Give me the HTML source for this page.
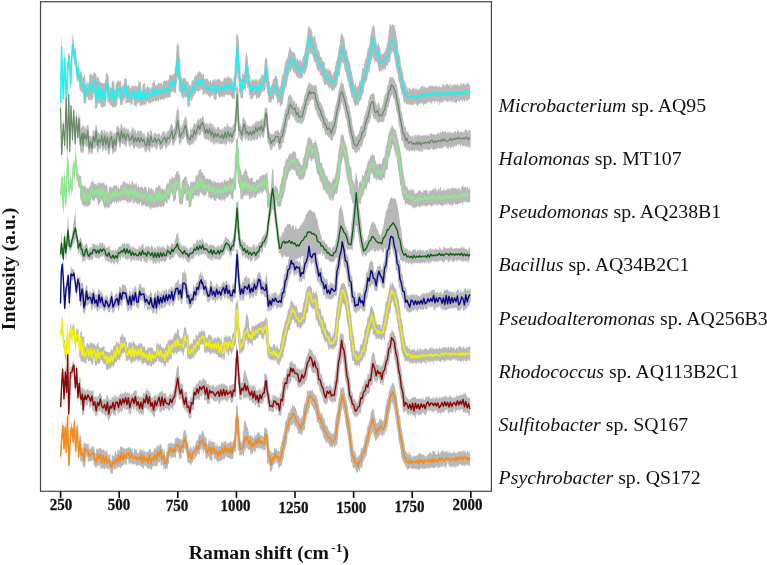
<!DOCTYPE html>
<html><head><meta charset="utf-8"><style>html,body{margin:0;padding:0;background:#fff;overflow:hidden}svg{display:block}</style></head>
<body><svg width="767" height="565" viewBox="0 0 767 565">
<style>
.tk{font-family:"Liberation Serif",serif;font-weight:bold;font-size:15px;fill:#111;stroke:#111;stroke-width:0.25px}
.lb{font-family:"Liberation Serif",serif;font-size:19.8px;fill:#111}
.ax{font-family:"Liberation Serif",serif;font-weight:bold;font-size:19.7px;fill:#111}
.ax2{font-family:"Liberation Serif",serif;font-weight:bold;font-size:19.6px;fill:#111}
</style>
<rect width="767" height="565" fill="#fff"/>
<polygon points="60.6,93.9 61.3,39.3 61.6,36.9 62.0,52.1 62.4,67.1 62.7,66.6 63.3,86.9 63.4,89.9 64.1,64.4 64.6,47.9 64.8,50.2 65.5,69.8 66.2,87.4 66.4,90.9 66.9,81.2 67.6,66.6 68.0,55.8 68.3,54.5 69.0,51.5 69.3,52.0 69.7,58.5 70.4,72.0 70.6,72.0 71.1,58.2 71.4,57.8 71.8,47.5 72.5,35.5 72.6,34.1 73.2,36.5 73.2,35.5 73.9,47.4 74.3,49.2 74.6,51.2 75.0,47.8 75.3,47.0 75.7,47.5 76.0,51.4 76.7,62.7 77.0,63.8 77.4,67.8 77.7,67.8 78.1,62.1 78.3,61.3 78.8,67.1 79.5,73.4 79.6,74.0 80.2,72.2 80.4,71.5 80.9,71.1 81.3,69.0 81.6,72.0 82.2,74.9 82.3,76.6 83.0,78.2 83.1,77.9 83.7,77.2 84.0,76.1 84.4,73.3 84.9,75.5 85.0,74.6 85.1,76.2 85.8,84.9 86.4,84.7 86.5,81.1 87.2,82.0 87.8,83.7 87.9,81.5 88.6,84.6 89.2,78.5 89.3,73.6 90.0,74.9 90.6,74.3 90.7,72.2 91.4,74.7 92.0,73.6 92.1,77.1 92.8,74.9 93.4,73.5 93.5,71.9 94.2,72.8 94.8,71.9 94.9,74.3 95.6,72.9 96.2,75.0 96.3,76.1 97.0,78.6 97.6,75.3 97.7,77.6 98.4,78.5 99.0,76.7 99.1,79.8 99.8,81.8 100.4,82.6 100.5,81.6 101.2,82.4 101.8,82.9 101.9,82.0 102.6,83.2 103.2,83.2 103.3,82.9 104.0,83.0 104.6,82.5 104.7,84.2 105.4,78.8 106.1,73.9 106.1,71.3 106.8,73.9 107.4,74.8 107.5,72.4 108.2,75.0 108.8,77.5 108.9,82.7 109.6,88.3 110.2,87.9 110.3,87.0 111.0,87.5 111.6,87.2 111.7,81.5 112.4,81.6 113.0,79.6 113.1,81.7 113.8,81.5 114.4,79.7 114.5,89.2 115.2,90.6 115.8,85.1 115.9,81.8 116.6,83.2 117.2,81.1 117.3,80.9 118.0,80.6 118.6,81.8 118.7,80.4 119.4,80.2 120.0,82.9 120.1,80.2 120.8,81.6 121.4,83.1 121.5,87.7 122.2,85.9 122.8,85.3 122.9,86.9 123.6,84.3 124.2,81.1 124.3,78.1 125.0,78.5 125.6,79.5 125.7,77.0 126.4,79.0 127.0,79.2 127.1,85.6 127.8,85.9 128.4,84.3 128.5,84.7 129.2,85.9 129.8,86.5 129.9,88.2 130.6,88.5 131.2,88.1 131.3,85.3 132.0,85.9 132.6,85.8 132.7,85.3 133.4,87.5 134.0,83.8 134.1,86.5 134.8,86.3 135.4,84.8 135.5,85.9 136.2,86.1 136.8,86.8 136.9,87.8 137.6,85.9 138.2,84.4 138.3,83.1 139.0,80.6 139.6,83.4 139.7,82.9 140.4,81.6 141.0,82.9 141.1,87.5 141.8,92.2 142.4,87.8 142.5,84.7 143.2,84.0 143.8,83.8 143.9,84.2 144.6,82.3 145.2,84.1 145.3,90.4 146.0,86.6 146.6,88.3 146.7,87.2 147.4,84.4 148.0,84.5 148.1,87.1 148.8,87.4 149.4,87.3 149.5,87.1 150.2,88.7 150.8,89.2 150.9,88.4 151.6,86.8 152.2,86.2 152.3,82.2 153.0,83.3 153.6,79.4 153.7,79.8 154.4,80.8 155.0,82.5 155.1,83.3 155.8,86.3 156.4,83.7 156.5,85.5 157.2,85.4 157.8,85.0 157.9,83.6 158.6,82.6 159.2,82.5 159.3,83.0 160.0,84.3 160.6,82.8 160.7,83.1 161.4,81.7 162.0,84.0 162.1,86.0 162.8,83.5 163.4,80.6 163.5,80.5 164.2,81.2 164.8,80.1 164.9,80.5 165.6,80.5 166.2,81.9 166.3,80.1 167.0,80.0 167.6,80.9 167.7,81.4 168.4,80.1 169.0,78.6 169.1,75.4 169.8,75.5 170.4,75.5 170.5,73.2 171.2,75.8 171.8,75.2 171.9,73.4 172.6,75.5 173.2,75.3 173.3,74.4 174.0,73.7 174.6,72.8 174.7,67.8 175.4,67.0 176.0,58.8 176.1,55.8 176.8,45.4 177.5,43.6 177.7,41.1 178.2,44.7 178.8,45.9 178.9,45.1 179.6,57.5 180.2,58.5 180.3,69.7 181.0,76.8 181.6,76.6 181.7,76.9 182.4,78.5 183.0,79.7 183.1,78.1 183.8,78.2 184.4,76.9 184.5,78.9 185.2,77.6 185.8,78.7 185.9,81.2 186.6,81.7 187.2,79.1 187.3,82.2 188.0,81.2 188.6,82.0 188.7,84.7 189.4,84.9 190.0,84.9 190.1,84.3 190.8,87.0 191.4,82.8 191.5,81.2 192.2,79.6 192.8,81.1 192.9,80.9 193.6,79.9 194.2,77.8 194.3,76.7 195.0,76.7 195.6,73.7 195.7,74.7 196.4,76.0 197.0,74.2 197.1,74.0 197.8,72.3 198.4,71.7 198.5,74.7 199.2,70.5 199.8,71.5 199.9,72.3 200.6,72.8 201.2,70.7 201.3,73.8 202.0,74.4 202.6,73.7 202.7,75.4 203.4,73.4 204.0,74.6 204.1,77.8 204.8,78.7 205.4,79.9 205.5,76.9 206.2,79.5 206.8,77.4 206.9,80.1 207.6,78.0 208.2,79.6 208.3,80.5 209.0,81.2 209.6,82.9 209.7,81.7 210.4,80.4 211.0,80.1 211.1,82.6 211.8,83.2 212.4,81.3 212.5,80.1 213.2,80.5 213.8,80.7 213.9,78.9 214.6,78.8 215.2,79.5 215.3,80.7 216.0,79.6 216.6,79.8 216.7,81.1 217.4,78.6 218.0,79.4 218.1,80.1 218.8,78.0 219.4,78.8 219.5,79.7 220.2,80.1 220.8,80.8 220.9,82.3 221.6,81.4 222.2,79.8 222.3,81.8 223.0,80.9 223.6,80.6 223.7,77.3 224.4,77.4 225.0,77.9 225.1,79.1 225.8,77.9 226.4,78.6 226.5,77.4 227.2,75.7 227.8,76.7 227.9,78.0 228.6,75.8 229.2,77.9 229.3,76.5 230.0,78.8 230.6,77.1 230.7,78.2 231.4,78.2 232.0,79.6 232.1,78.0 232.8,82.9 233.4,81.2 233.5,77.3 234.2,77.1 234.8,66.0 234.9,59.1 235.6,55.6 236.2,37.2 236.3,35.7 237.0,33.0 237.3,33.6 237.7,35.6 238.4,37.2 239.0,43.6 239.1,54.3 239.8,63.5 240.4,67.3 240.5,75.5 241.2,79.6 241.8,78.8 241.9,74.1 242.6,73.1 243.2,73.6 243.3,74.7 244.0,74.4 244.6,69.0 244.7,69.0 245.4,57.3 246.1,51.9 246.6,52.9 246.8,53.3 247.4,56.9 247.5,56.6 248.2,65.3 248.8,66.6 248.9,71.5 249.6,74.4 250.2,75.1 250.3,79.9 251.0,83.7 251.6,77.9 251.7,78.4 252.4,79.4 253.0,81.3 253.1,80.8 253.8,77.9 254.4,82.6 254.5,80.2 255.2,78.9 255.8,79.7 255.9,79.0 256.6,80.0 257.2,77.6 257.3,81.2 258.0,81.6 258.6,79.8 258.7,78.5 259.4,80.1 260.0,78.0 260.1,77.0 260.8,77.7 261.4,74.9 261.5,74.7 262.2,74.7 262.8,76.6 262.9,75.1 263.6,74.7 264.2,70.4 264.3,67.0 265.0,58.8 265.6,59.9 265.7,57.9 266.3,57.0 266.4,57.2 267.0,58.5 267.1,58.9 267.8,68.2 268.4,70.7 268.5,76.2 269.2,81.9 269.8,81.3 269.9,85.7 270.6,88.5 271.2,85.3 271.3,85.9 272.0,84.1 272.6,82.4 272.7,79.7 273.4,78.9 274.0,78.0 274.1,78.3 274.8,78.4 275.5,73.5 275.8,77.0 276.2,76.1 276.8,75.8 276.9,76.2 277.6,79.6 278.2,80.6 278.3,83.9 279.0,88.3 279.6,85.5 279.7,89.9 280.4,85.7 281.0,82.0 281.1,82.2 281.8,77.6 282.4,73.1 282.5,75.5 283.2,74.6 283.8,71.6 283.9,71.8 284.6,65.0 285.2,61.3 285.3,62.2 286.0,61.0 286.6,58.6 286.7,59.0 287.4,58.2 288.0,54.4 288.1,54.5 288.8,50.0 289.4,49.6 289.5,47.1 290.2,47.4 290.4,46.9 290.9,49.4 291.6,51.0 292.2,51.1 292.3,51.2 293.0,52.9 293.6,52.9 293.7,51.7 294.4,52.4 295.0,53.8 295.1,53.2 295.8,57.4 296.4,58.8 296.5,60.3 297.2,59.2 297.8,58.2 297.9,59.0 298.6,61.7 299.2,61.3 299.3,60.5 300.0,60.1 300.6,59.7 300.7,60.8 301.4,62.7 302.0,59.3 302.1,60.5 302.8,57.9 303.4,55.5 303.5,57.0 304.2,54.1 304.8,51.0 304.9,50.2 305.6,45.9 306.2,44.3 306.3,41.2 307.0,36.7 307.6,31.8 307.7,30.0 308.4,26.8 309.1,26.7 309.5,26.0 309.8,26.7 310.4,30.0 310.5,27.7 311.2,28.8 311.8,31.6 311.9,30.5 312.6,35.6 313.2,38.3 313.3,37.8 314.0,36.8 314.7,35.2 315.0,35.4 315.4,36.9 316.0,42.2 316.1,40.6 316.8,43.9 317.4,49.2 317.5,48.3 318.2,50.0 318.8,50.8 318.9,50.6 319.6,52.2 320.2,57.6 320.3,55.4 321.0,58.1 321.6,57.0 321.7,56.3 322.4,60.7 323.0,60.9 323.1,60.3 323.8,62.4 324.4,61.2 324.5,61.5 325.2,67.2 325.8,68.2 325.9,68.9 326.6,68.0 327.2,70.4 327.3,67.6 328.0,70.0 328.6,67.3 328.7,68.9 329.4,70.2 330.0,70.7 330.1,70.6 330.8,71.6 331.4,71.5 331.5,73.8 332.2,74.8 332.8,76.3 332.9,73.8 333.6,72.1 334.2,71.2 334.3,71.5 335.0,67.5 335.6,63.7 335.7,63.3 336.4,60.6 337.0,60.6 337.1,57.9 337.8,55.8 338.4,49.6 338.5,50.0 339.2,46.5 339.8,43.9 339.9,43.9 340.6,35.6 341.2,35.7 341.3,31.7 342.0,33.9 342.2,33.9 342.7,34.7 343.4,36.5 344.0,39.1 344.1,36.8 344.8,43.2 345.4,49.1 345.5,47.7 346.2,50.7 346.8,50.6 346.9,50.2 347.6,54.7 348.2,58.1 348.3,59.4 349.0,59.9 349.6,63.1 349.7,62.2 350.4,65.4 351.0,69.2 351.1,70.3 351.8,71.4 352.4,75.6 352.5,75.4 353.2,80.1 353.8,81.2 353.9,82.3 354.6,85.9 355.2,83.6 355.3,82.1 356.0,84.6 356.6,88.1 356.7,87.4 357.4,86.7 358.0,85.6 358.1,86.6 358.8,85.0 359.4,80.5 359.5,80.6 360.2,81.7 360.8,79.0 360.9,78.3 361.6,73.7 362.2,68.8 362.3,68.5 363.0,68.0 363.6,67.6 363.7,68.9 364.4,63.3 365.0,59.2 365.1,58.6 365.8,59.8 366.4,58.2 366.5,56.6 367.2,51.8 367.8,48.6 367.9,48.2 368.6,48.2 369.2,44.5 369.3,46.0 370.0,39.7 370.6,34.5 370.7,34.9 371.4,31.8 372.0,28.8 372.1,27.3 372.8,25.8 373.1,25.3 373.5,25.4 374.2,26.8 374.8,28.1 374.9,30.2 375.6,37.2 376.2,41.2 376.3,41.8 377.0,46.0 377.4,44.5 377.7,45.3 378.4,42.0 379.0,44.4 379.1,44.6 379.8,48.2 380.4,47.8 380.5,50.9 381.2,54.0 381.8,55.6 381.9,54.9 382.6,54.0 383.2,51.8 383.3,54.5 384.0,52.9 384.6,50.6 384.7,52.9 385.4,49.6 386.0,47.6 386.1,49.5 386.8,45.3 387.4,42.1 387.5,43.9 388.2,36.5 388.8,31.0 388.9,30.8 389.6,25.6 389.9,23.1 390.3,24.5 391.0,24.3 391.7,27.3 391.9,24.3 392.4,25.1 393.0,23.9 393.1,23.9 393.8,25.1 394.4,24.7 394.5,25.7 395.2,30.4 395.8,31.0 395.9,31.0 396.6,37.5 397.2,39.7 397.3,40.7 398.0,46.9 398.6,52.9 398.7,54.0 399.4,54.3 400.0,56.8 400.1,57.6 400.8,63.5 401.4,67.4 401.5,67.3 402.2,69.9 402.8,73.2 402.9,70.1 403.6,77.9 404.2,80.5 404.3,80.5 405.0,81.8 405.6,85.3 405.7,82.2 406.4,85.7 407.0,87.6 407.1,87.0 407.8,89.3 408.4,91.9 408.5,88.1 409.2,87.8 409.8,87.6 409.9,89.4 410.6,88.9 411.2,88.5 411.3,90.8 412.0,89.6 412.6,89.0 412.7,86.6 413.4,89.1 414.0,86.6 414.1,88.3 414.8,90.2 415.4,85.9 415.5,89.4 416.2,88.9 416.8,87.0 416.9,89.5 417.6,90.2 418.2,87.7 418.3,88.8 419.0,90.0 419.6,88.9 419.7,88.2 420.4,86.7 421.0,88.1 421.1,87.0 421.8,85.9 422.4,85.7 422.5,85.5 423.2,85.8 423.8,88.9 423.9,85.8 424.6,86.8 425.2,86.7 425.3,87.8 426.0,88.3 426.6,87.8 426.7,86.6 427.4,87.9 428.0,87.1 428.1,86.9 428.8,85.5 429.4,86.6 429.5,86.4 430.2,84.8 430.8,86.1 430.9,85.0 431.6,86.9 432.2,85.3 432.3,85.6 433.0,85.5 433.6,86.2 433.7,86.8 434.4,86.7 435.0,86.9 435.1,85.2 435.8,85.3 436.4,87.3 436.5,85.3 437.2,86.5 437.8,85.5 437.9,86.5 438.6,87.6 439.2,84.7 439.3,85.3 440.0,87.2 440.6,87.9 440.7,86.4 441.4,87.1 442.0,85.9 442.1,84.8 442.8,83.9 443.4,85.9 443.5,84.0 444.2,84.2 444.8,86.0 444.9,87.3 445.6,84.6 446.2,84.9 446.3,83.0 447.0,84.0 447.6,84.2 447.7,83.2 448.4,86.2 449.0,84.9 449.1,85.4 449.8,83.2 450.4,84.5 450.5,88.4 451.2,84.8 451.8,86.2 451.9,84.4 452.6,85.8 453.2,85.0 453.3,84.5 454.0,85.0 454.6,86.1 454.7,83.5 455.4,84.6 456.0,85.1 456.1,84.3 456.8,85.6 457.4,83.0 457.5,84.8 458.2,84.6 458.8,84.7 458.9,86.0 459.6,86.3 460.2,84.1 460.3,83.9 461.0,82.8 461.6,83.8 461.7,85.5 462.4,83.7 463.0,83.2 463.1,83.0 463.8,83.8 464.4,85.5 464.5,82.9 465.2,84.9 465.8,83.3 465.9,85.7 466.6,83.1 467.2,84.7 467.3,82.7 468.0,81.9 468.6,82.6 468.7,85.1 469.4,84.9 470.0,84.8 470.1,83.1 470.1,99.6 470.0,99.5 469.4,99.1 468.7,99.1 468.6,100.6 468.0,99.4 467.3,102.9 467.2,100.0 466.6,100.8 465.9,99.5 465.8,98.0 465.2,100.9 464.5,101.6 464.4,102.4 463.8,100.0 463.1,99.5 463.0,102.1 462.4,101.4 461.7,101.1 461.6,100.4 461.0,100.1 460.3,100.2 460.2,99.8 459.6,101.5 458.9,102.4 458.8,100.8 458.2,102.1 457.5,100.0 457.4,100.1 456.8,102.7 456.1,103.2 456.0,103.1 455.4,103.1 454.7,101.7 454.6,102.3 454.0,101.4 453.3,103.4 453.2,100.0 452.6,101.1 451.9,102.8 451.8,100.2 451.2,102.6 450.5,101.4 450.4,102.0 449.8,99.6 449.1,101.7 449.0,102.0 448.4,101.5 447.7,100.8 447.6,101.6 447.0,103.3 446.3,100.8 446.2,100.1 445.6,100.6 444.9,102.3 444.8,100.7 444.2,100.0 443.5,101.2 443.4,100.9 442.8,103.2 442.1,101.0 442.0,100.4 441.4,103.1 440.7,102.6 440.6,101.7 440.0,104.7 439.3,104.8 439.2,101.7 438.6,101.9 437.9,102.9 437.8,104.8 437.2,100.6 436.5,101.9 436.4,101.4 435.8,100.8 435.1,100.6 435.0,103.5 434.4,102.7 433.7,100.7 433.6,100.8 433.0,102.4 432.3,100.4 432.2,104.1 431.6,103.3 430.9,104.4 430.8,102.1 430.2,101.7 429.5,104.4 429.4,102.8 428.8,100.7 428.1,102.8 428.0,102.0 427.4,102.8 426.7,103.5 426.6,104.1 426.0,103.3 425.3,106.1 425.2,103.3 424.6,103.8 423.9,104.8 423.8,104.6 423.2,106.1 422.5,104.2 422.4,102.0 421.8,102.4 421.1,103.7 421.0,103.1 420.4,104.2 419.7,104.6 419.6,102.3 419.0,104.1 418.3,103.7 418.2,105.8 417.6,106.7 416.9,105.8 416.8,105.3 416.2,103.7 415.5,103.7 415.4,104.3 414.8,104.3 414.1,101.5 414.0,104.2 413.4,104.8 412.7,106.0 412.6,104.5 412.0,104.9 411.3,105.4 411.2,104.3 410.6,104.8 409.9,103.9 409.8,106.5 409.2,103.3 408.5,105.3 408.4,105.1 407.8,104.0 407.1,105.0 407.0,103.2 406.4,104.5 405.7,103.3 405.6,101.2 405.0,103.0 404.3,103.3 404.2,103.3 403.6,100.8 402.9,96.0 402.8,95.2 402.2,94.8 401.5,94.6 401.4,93.5 400.8,89.2 400.1,87.3 400.0,85.4 399.4,82.3 398.7,82.4 398.6,81.9 398.0,76.2 397.3,72.1 397.2,73.8 396.6,69.1 395.9,68.5 395.8,66.5 395.2,62.7 394.5,58.0 394.4,57.6 393.8,54.2 393.1,51.7 393.0,51.3 392.4,52.7 391.9,49.4 391.7,54.7 391.0,53.5 390.3,60.5 389.9,62.3 389.6,61.8 388.9,62.5 388.8,62.2 388.2,63.6 387.5,67.6 387.4,65.2 386.8,65.4 386.1,66.0 386.0,68.6 385.4,69.7 384.7,69.7 384.6,67.3 384.0,70.9 383.3,67.2 383.2,72.8 382.6,70.1 381.9,68.7 381.8,72.0 381.2,70.6 380.5,70.5 380.4,71.5 379.8,71.2 379.1,71.8 379.0,71.5 378.4,68.3 377.7,64.7 377.4,64.1 377.0,61.3 376.3,62.2 376.2,62.2 375.6,61.6 374.9,62.6 374.8,62.2 374.2,59.9 373.5,59.0 373.1,56.5 372.8,55.0 372.1,62.1 372.0,59.6 371.4,61.2 370.7,64.6 370.6,63.4 370.0,66.8 369.3,73.2 369.2,73.4 368.6,71.6 367.9,75.0 367.8,75.0 367.2,80.4 366.5,79.7 366.4,82.2 365.8,82.6 365.1,82.9 365.0,83.7 364.4,85.0 363.7,92.8 363.6,92.5 363.0,94.2 362.3,94.8 362.2,94.7 361.6,98.6 360.9,100.3 360.8,100.4 360.2,100.7 359.5,101.5 359.4,101.5 358.8,104.1 358.1,106.7 358.0,105.6 357.4,105.6 356.7,104.5 356.6,104.3 356.0,106.6 355.3,105.9 355.2,106.0 354.6,105.6 353.9,102.3 353.8,103.3 353.2,100.8 352.5,97.5 352.4,98.5 351.8,97.7 351.1,96.4 351.0,94.3 350.4,92.5 349.7,88.9 349.6,86.5 349.0,87.4 348.3,81.7 348.2,83.1 347.6,80.2 346.9,76.5 346.8,78.1 346.2,74.0 345.5,71.6 345.4,73.1 344.8,70.0 344.1,66.6 344.0,63.9 343.4,63.8 342.7,62.1 342.2,63.8 342.0,61.6 341.3,65.2 341.2,65.4 340.6,67.9 339.9,74.7 339.8,74.2 339.2,77.1 338.5,75.5 338.4,76.0 337.8,80.7 337.1,84.9 337.0,86.2 336.4,86.4 335.7,88.0 335.6,87.0 335.0,88.1 334.3,91.7 334.2,90.5 333.6,89.7 332.9,92.0 332.8,89.2 332.2,90.5 331.5,92.2 331.4,90.8 330.8,88.3 330.1,86.3 330.0,90.8 329.4,87.9 328.7,88.6 328.6,87.6 328.0,85.6 327.3,86.2 327.2,83.6 326.6,84.2 325.9,84.9 325.8,84.4 325.2,84.9 324.5,85.0 324.4,85.2 323.8,82.2 323.1,80.7 323.0,83.2 322.4,77.8 321.7,76.0 321.6,76.0 321.0,75.3 320.3,75.2 320.2,76.2 319.6,72.1 318.9,70.2 318.8,70.8 318.2,71.9 317.5,69.1 317.4,70.4 316.8,68.6 316.1,65.8 316.0,65.3 315.4,61.5 315.0,63.5 314.7,60.7 314.0,61.8 313.3,57.6 313.2,57.6 312.6,56.0 311.9,53.4 311.8,53.9 311.2,53.3 310.5,54.5 310.4,53.5 309.8,52.1 309.5,54.6 309.1,55.2 308.4,60.2 307.7,65.2 307.6,66.7 307.0,67.9 306.3,69.9 306.2,71.0 305.6,71.9 304.9,76.1 304.8,74.8 304.2,73.4 303.5,73.0 303.4,74.2 302.8,78.3 302.1,77.2 302.0,77.6 301.4,79.4 300.7,79.4 300.6,78.9 300.0,77.2 299.3,79.8 299.2,78.3 298.6,77.5 297.9,78.4 297.8,77.9 297.2,77.4 296.5,76.0 296.4,76.5 295.8,75.0 295.1,72.2 295.0,74.9 294.4,72.1 293.7,73.5 293.6,72.9 293.0,69.9 292.3,69.5 292.2,68.8 291.6,68.5 290.9,71.8 290.4,72.3 290.2,71.9 289.5,70.1 289.4,72.3 288.8,75.5 288.1,76.8 288.0,76.5 287.4,82.0 286.7,84.7 286.6,86.8 286.0,89.6 285.3,86.4 285.2,88.2 284.6,91.5 283.9,95.2 283.8,95.3 283.2,100.1 282.5,103.9 282.4,105.4 281.8,104.5 281.1,105.0 281.0,105.0 280.4,107.4 279.7,105.5 279.6,101.6 279.0,103.4 278.3,101.7 278.2,103.5 277.6,103.8 276.9,103.0 276.8,99.9 276.2,96.7 275.8,95.4 275.5,96.5 274.8,93.2 274.1,97.0 274.0,99.0 273.4,101.1 272.7,99.8 272.6,98.4 272.0,98.4 271.3,102.9 271.2,102.9 270.6,102.3 269.9,103.4 269.8,102.8 269.2,102.0 268.5,102.2 268.4,98.4 267.8,94.7 267.1,93.3 267.0,91.6 266.4,85.5 266.3,82.8 265.7,83.1 265.6,89.0 265.0,90.4 264.3,90.8 264.2,92.5 263.6,91.1 262.9,90.2 262.8,90.8 262.2,93.2 261.5,91.8 261.4,92.7 260.8,96.3 260.1,95.3 260.0,97.5 259.4,97.6 258.7,97.3 258.6,99.8 258.0,98.2 257.3,96.4 257.2,97.0 256.6,99.8 255.9,98.1 255.8,95.5 255.2,95.3 254.5,95.1 254.4,95.5 253.8,96.7 253.1,95.6 253.0,99.4 252.4,98.8 251.7,98.3 251.6,99.7 251.0,98.5 250.3,100.3 250.2,94.3 249.6,95.9 248.9,93.2 248.8,91.0 248.2,86.6 247.5,89.2 247.4,86.9 246.8,82.7 246.6,83.9 246.1,84.8 245.4,92.2 244.7,88.7 244.6,89.1 244.0,89.0 243.3,90.8 243.2,96.2 242.6,98.8 241.9,98.7 241.8,98.2 241.2,98.3 240.5,97.7 240.4,95.5 239.8,93.6 239.1,91.8 239.0,86.5 238.4,78.8 237.7,79.8 237.3,73.7 237.0,72.4 236.3,81.8 236.2,91.1 235.6,90.8 234.9,95.3 234.8,98.8 234.2,98.9 233.5,97.2 233.4,98.8 232.8,99.4 232.1,98.1 232.0,97.9 231.4,96.4 230.7,95.5 230.6,96.0 230.0,95.2 229.3,93.7 229.2,95.6 228.6,95.5 227.9,93.7 227.8,95.4 227.2,95.2 226.5,94.3 226.4,95.8 225.8,94.9 225.1,93.7 225.0,98.0 224.4,96.8 223.7,94.7 223.6,96.8 223.0,97.5 222.3,96.4 222.2,96.9 221.6,96.0 220.9,97.3 220.8,96.9 220.2,97.0 219.5,98.7 219.4,97.0 218.8,95.8 218.1,96.1 218.0,94.0 217.4,93.3 216.7,94.2 216.6,98.9 216.0,99.4 215.3,100.0 215.2,102.3 214.6,98.4 213.9,99.7 213.8,98.3 213.2,94.2 212.5,95.3 212.4,95.7 211.8,96.3 211.1,94.5 211.0,96.8 210.4,97.7 209.7,98.8 209.6,95.4 209.0,96.8 208.3,95.9 208.2,95.2 207.6,94.1 206.9,95.7 206.8,94.6 206.2,93.4 205.5,91.9 205.4,93.9 204.8,94.4 204.1,94.3 204.0,93.3 203.4,95.1 202.7,96.1 202.6,90.7 202.0,88.2 201.3,89.9 201.2,90.2 200.6,90.8 199.9,87.4 199.8,90.8 199.2,91.8 198.5,92.3 198.4,91.0 197.8,92.1 197.1,91.0 197.0,90.8 196.4,90.4 195.7,92.7 195.6,93.0 195.0,95.7 194.3,95.1 194.2,92.3 193.6,97.3 192.9,96.8 192.8,99.7 192.2,98.8 191.5,102.0 191.4,101.2 190.8,98.5 190.1,100.9 190.0,105.0 189.4,107.4 188.7,105.4 188.6,106.6 188.0,107.8 187.3,104.7 187.2,99.1 186.6,96.6 185.9,97.8 185.8,97.3 185.2,97.8 184.5,95.5 184.4,99.1 183.8,97.2 183.1,100.2 183.0,98.0 182.4,98.2 181.7,96.8 181.6,96.8 181.0,92.5 180.3,92.7 180.2,90.8 179.6,91.0 178.9,92.4 178.8,83.4 178.2,78.6 177.7,77.4 177.5,76.7 176.8,83.3 176.1,85.8 176.0,93.0 175.4,93.0 174.7,90.5 174.6,94.1 174.0,92.6 173.3,91.7 173.2,92.2 172.6,91.2 171.9,92.0 171.8,92.5 171.2,90.9 170.5,96.0 170.4,98.0 169.8,97.6 169.1,97.1 169.0,97.3 168.4,97.5 167.7,96.8 167.6,99.2 167.0,97.6 166.3,99.1 166.2,97.8 165.6,97.6 164.9,99.3 164.8,97.8 164.2,99.9 163.5,98.4 163.4,100.8 162.8,99.8 162.1,98.8 162.0,99.4 161.4,99.1 160.7,100.6 160.6,100.9 160.0,100.0 159.3,98.0 159.2,99.5 158.6,102.7 157.9,100.5 157.8,99.1 157.2,100.8 156.5,102.2 156.4,100.1 155.8,102.4 155.1,100.7 155.0,100.0 154.4,100.6 153.7,102.9 153.6,100.3 153.0,101.7 152.3,101.7 152.2,103.4 151.6,101.4 150.9,102.6 150.8,103.4 150.2,102.9 149.5,102.9 149.4,103.5 148.8,103.3 148.1,103.2 148.0,101.7 147.4,100.9 146.7,103.3 146.6,104.3 146.0,106.9 145.3,104.0 145.2,103.1 144.6,104.8 143.9,105.7 143.8,104.1 143.2,106.0 142.5,103.7 142.4,104.8 141.8,106.0 141.1,106.1 141.0,106.0 140.4,106.5 139.7,105.4 139.6,103.6 139.0,102.0 138.3,103.5 138.2,105.4 137.6,102.8 136.9,104.0 136.8,105.9 136.2,108.1 135.5,105.9 135.4,104.8 134.8,105.9 134.1,105.3 134.0,106.3 133.4,98.1 132.7,101.3 132.6,104.2 132.0,104.9 131.3,105.5 131.2,103.1 130.6,103.5 129.9,105.6 129.8,103.5 129.2,101.4 128.5,103.7 128.4,102.6 127.8,102.9 127.1,102.9 127.0,103.9 126.4,102.4 125.7,104.3 125.6,98.3 125.0,97.2 124.3,99.8 124.2,102.5 123.6,100.2 122.9,100.4 122.8,105.9 122.2,104.4 121.5,105.4 121.4,105.1 120.8,104.7 120.1,105.6 120.0,101.5 119.4,98.0 118.7,98.7 118.6,97.6 118.0,96.9 117.3,101.4 117.2,105.7 116.6,105.8 115.9,105.3 115.8,108.7 115.2,106.2 114.5,107.9 114.4,107.9 113.8,106.8 113.1,106.9 113.0,105.8 112.4,108.6 111.7,105.8 111.6,105.4 111.0,105.3 110.3,106.0 110.2,102.1 109.6,104.1 108.9,104.5 108.8,102.7 108.2,101.1 107.5,104.0 107.4,98.4 106.8,91.2 106.1,101.7 106.1,98.4 105.4,107.4 104.7,105.4 104.6,107.5 104.0,105.4 103.3,107.2 103.2,107.1 102.6,108.7 101.9,106.6 101.8,106.6 101.2,106.8 100.5,107.6 100.4,102.8 99.8,103.7 99.1,104.8 99.0,103.6 98.4,102.4 97.7,104.0 97.6,105.1 97.0,108.8 96.3,107.6 96.2,108.6 95.6,108.7 94.9,108.8 94.8,99.6 94.2,92.6 93.5,93.6 93.4,98.2 92.8,99.5 92.1,99.6 92.0,98.7 91.4,101.0 90.7,99.5 90.6,100.1 90.0,100.8 89.3,99.6 89.2,100.5 88.6,100.4 87.9,99.0 87.8,97.1 87.2,96.3 86.5,96.7 86.4,99.8 85.8,103.4 85.1,103.8 85.0,103.4 84.9,102.6 84.4,104.4 84.0,102.9 83.7,103.2 83.1,92.7 83.0,92.5 82.3,92.7 82.2,92.4 81.6,92.7 81.3,92.2 80.9,90.7 80.4,90.0 80.2,92.1 79.6,88.2 79.5,89.1 78.8,80.6 78.3,80.2 78.1,77.5 77.7,81.9 77.4,83.6 77.0,79.9 76.7,81.1 76.0,69.8 75.7,71.5 75.3,64.4 75.0,64.0 74.6,65.2 74.3,64.1 73.9,59.7 73.2,51.1 73.2,51.6 72.6,54.8 72.5,53.8 71.8,66.8 71.4,78.6 71.1,78.3 70.6,91.0 70.4,90.6 69.7,71.8 69.3,65.0 69.0,63.9 68.3,70.5 68.0,69.8 67.6,79.1 66.9,95.7 66.4,109.0 66.2,108.2 65.5,85.0 64.8,68.9 64.6,68.3 64.1,78.1 63.4,105.1 63.3,104.8 62.7,91.2 62.4,90.2 62.0,68.5 61.6,71.5 61.3,71.2 60.6,109.8" fill="#b8b8b8"/>
<polyline points="60.6,102.9 61.6,47.1 62.4,74.8 63.3,98.3 64.6,57.6 66.4,101.3 68.0,63.9 69.3,56.3 70.6,83.7 71.4,64.2 72.6,44.9 73.2,44.4 74.3,58.5 75.0,56.3 75.7,59.4 77.0,73.2 77.7,76.1 78.3,68.1 79.6,81.5 80.4,78.0 81.3,84.7 82.2,85.1 83.1,86.4 84.0,82.4 84.9,98.0 85.0,93.4 86.4,88.7 87.8,89.6 89.2,93.3 90.6,83.1 92.0,92.0 93.4,85.0 94.8,79.9 96.2,102.0 97.6,83.7 99.0,97.6 100.4,88.1 101.8,100.6 103.2,90.2 104.6,100.1 106.1,86.3 107.4,82.2 108.8,96.4 110.2,93.9 111.6,100.1 113.0,87.4 114.4,100.7 115.8,99.6 117.2,88.1 118.6,90.9 120.0,88.2 121.4,98.0 122.8,94.8 124.2,91.4 125.6,84.4 127.0,96.6 128.4,91.6 129.8,96.1 131.2,98.4 132.6,92.0 134.0,92.2 135.4,100.0 136.8,92.6 138.2,96.9 139.6,88.6 141.0,99.4 142.4,98.5 143.8,89.2 145.2,98.9 146.6,96.1 148.0,92.3 149.4,97.1 150.8,94.8 152.2,95.1 153.6,88.3 155.0,95.3 156.4,90.5 157.8,94.4 159.2,89.8 160.6,93.0 162.0,89.5 163.4,92.0 164.8,87.5 166.2,92.2 167.6,86.7 169.0,91.0 170.4,82.6 171.8,85.8 173.2,82.1 174.6,86.3 176.0,74.7 177.7,58.3 178.8,67.4 180.2,83.6 181.6,86.0 183.0,92.0 184.4,84.7 185.8,91.0 187.2,88.0 188.6,100.0 190.0,91.9 191.4,93.5 192.8,86.3 194.2,88.6 195.6,83.8 197.0,80.2 198.4,85.3 199.8,79.7 201.2,82.5 202.6,80.4 204.0,87.8 205.4,85.6 206.8,84.9 208.2,89.5 209.6,87.0 211.0,91.2 212.4,87.5 213.8,86.4 215.2,93.3 216.6,86.2 218.0,86.1 219.4,87.9 220.8,90.9 222.2,87.5 223.6,90.4 225.0,85.4 226.4,89.3 227.8,83.7 229.2,88.7 230.6,83.6 232.0,89.3 233.4,91.9 234.8,85.1 236.2,64.1 237.3,45.7 239.0,70.5 240.4,85.4 241.8,91.8 243.2,80.0 244.6,82.1 246.6,66.3 247.4,73.2 248.8,81.4 250.2,86.6 251.6,92.1 253.0,85.9 254.4,89.0 255.8,86.4 257.2,91.7 258.6,86.7 260.0,89.5 261.4,83.0 262.8,85.9 264.2,80.4 265.6,75.0 266.3,68.0 267.0,76.8 268.4,87.7 269.8,95.5 271.2,92.9 272.6,92.2 274.0,86.3 275.8,85.3 276.8,88.0 278.2,95.3 279.6,95.6 281.0,97.7 282.4,88.8 283.8,81.5 285.2,79.8 286.6,69.3 288.0,65.7 289.4,63.0 290.4,58.9 292.2,62.0 293.6,59.4 295.0,66.3 296.4,65.7 297.8,70.0 299.2,67.4 300.6,72.0 302.0,67.9 303.4,68.0 304.8,62.8 306.2,58.8 307.6,48.2 309.5,37.5 310.4,38.3 311.8,47.0 313.2,45.9 315.0,50.3 316.0,56.0 317.4,57.4 318.8,63.1 320.2,63.2 321.6,69.0 323.0,67.9 324.4,74.8 325.8,78.0 327.2,76.3 328.6,78.4 330.0,81.0 331.4,80.2 332.8,83.9 334.2,80.6 335.6,79.1 337.0,70.1 338.4,66.1 339.8,57.4 341.2,53.0 342.2,45.9 344.0,54.5 345.4,57.4 346.8,65.4 348.2,69.5 349.6,75.7 351.0,81.2 352.4,89.0 353.8,91.3 355.2,95.0 356.6,98.2 358.0,94.4 359.4,93.9 360.8,88.3 362.2,86.2 363.6,76.3 365.0,74.8 366.4,67.8 367.8,65.8 369.2,56.1 370.6,52.8 372.0,41.7 373.1,37.6 374.8,47.7 376.2,54.9 377.4,51.2 379.0,56.7 380.4,63.8 381.8,61.7 383.2,62.2 384.6,59.9 386.0,59.8 387.4,53.8 388.8,50.9 389.9,44.1 391.9,40.8 393.0,40.4 394.4,42.5 395.8,48.0 397.2,59.1 398.6,64.4 400.0,74.1 401.4,78.0 402.8,87.1 404.2,90.5 405.6,95.6 407.0,95.4 408.4,96.8 409.8,97.8 411.2,95.8 412.6,97.4 414.0,95.3 415.4,97.6 416.8,97.5 418.2,95.9 419.6,96.8 421.0,94.7 422.4,95.7 423.8,94.1 425.2,96.6 426.6,93.6 428.0,95.1 429.4,93.2 430.8,95.8 432.2,92.7 433.6,95.2 435.0,93.3 436.4,95.0 437.8,93.0 439.2,95.2 440.6,92.8 442.0,94.7 443.4,92.5 444.8,94.5 446.2,92.5 447.6,94.4 449.0,92.1 450.4,94.5 451.8,94.7 453.2,92.3 454.6,94.9 456.0,92.1 457.4,94.9 458.8,92.1 460.2,94.4 461.6,91.3 463.0,93.6 464.4,91.2 465.8,93.6 467.2,91.0 468.6,90.9 470.0,93.3" fill="none" stroke="#1ff0f0" stroke-width="1.5" stroke-linejoin="round"/>
<polygon points="60.5,103.1 61.2,130.4 61.7,147.1 61.9,143.7 62.6,132.7 63.2,117.8 63.3,116.9 64.0,130.8 64.7,140.0 64.7,139.5 65.4,117.2 66.1,94.9 66.2,93.0 66.8,119.3 67.3,136.1 67.5,136.6 68.2,112.0 68.8,93.0 68.9,92.8 69.6,134.8 69.8,132.7 70.3,127.0 71.0,99.0 71.0,99.7 71.7,114.1 72.4,132.1 72.5,131.1 73.1,119.0 73.7,104.0 73.8,103.2 74.5,121.6 75.2,136.7 75.2,135.5 75.9,119.7 76.3,111.6 76.6,112.0 77.3,123.7 77.8,128.4 78.0,127.7 78.7,112.4 78.9,110.8 79.4,120.5 80.1,113.5 80.3,121.5 80.8,127.6 81.2,128.7 81.5,126.6 82.1,127.5 82.2,126.8 82.9,123.9 83.0,125.2 83.6,125.4 83.9,127.1 84.3,128.0 84.8,125.3 85.0,127.0 85.0,126.6 85.7,128.9 86.4,129.2 86.4,126.7 87.1,125.2 87.8,125.2 87.8,124.6 88.5,124.5 89.2,134.7 89.2,135.4 89.9,136.0 90.6,135.6 90.6,136.2 91.3,136.4 92.0,137.3 92.0,136.7 92.7,130.4 93.4,132.0 93.4,130.8 94.1,129.9 94.8,130.8 94.8,132.1 95.5,125.6 96.2,125.2 96.2,124.3 96.9,127.0 97.6,131.5 97.6,132.8 98.3,132.8 99.0,132.3 99.0,134.0 99.7,134.0 100.4,133.2 100.4,132.2 101.1,130.0 101.8,131.0 101.8,130.2 102.5,129.0 103.2,133.1 103.2,134.9 103.9,130.1 104.6,130.0 104.6,129.9 105.3,130.8 106.0,134.5 106.0,133.8 106.7,131.1 107.4,131.2 107.4,132.3 108.1,131.8 108.8,137.4 108.8,135.4 109.5,131.5 110.2,131.4 110.2,130.0 110.9,130.8 111.6,130.7 111.6,131.9 112.3,130.2 113.0,136.7 113.0,136.1 113.7,132.6 114.4,133.4 114.4,134.4 115.1,133.2 115.8,133.2 115.8,133.1 116.5,126.1 117.2,127.1 117.2,127.2 117.9,125.0 118.6,125.8 118.6,127.1 119.3,128.1 120.0,130.8 120.0,129.9 120.7,124.0 121.4,122.3 121.4,125.1 122.1,124.7 122.8,128.9 122.8,128.4 123.5,127.9 124.2,128.6 124.2,126.3 124.9,127.3 125.6,129.6 125.6,131.5 126.3,127.8 127.0,127.3 127.0,130.1 127.7,129.5 128.4,127.5 128.4,128.2 129.1,130.6 129.8,132.3 129.8,132.7 130.5,133.4 131.2,129.1 131.2,131.4 131.9,126.4 132.6,128.8 132.6,129.4 133.3,126.9 134.0,131.5 134.0,131.0 134.7,129.1 135.4,130.1 135.4,129.9 136.1,133.1 136.8,134.2 136.8,132.8 137.5,131.0 138.2,130.4 138.2,131.7 138.9,130.0 139.6,131.4 139.6,133.0 140.3,130.4 141.0,130.8 141.0,130.3 141.7,131.1 142.4,133.8 142.4,133.1 143.1,133.2 143.8,134.9 143.8,133.0 144.5,133.2 145.2,135.6 145.2,136.4 145.9,137.8 146.6,135.0 146.6,136.4 147.3,131.4 148.0,130.9 148.0,130.9 148.7,132.7 149.4,135.9 149.4,134.7 150.1,130.9 150.8,127.0 150.8,130.6 151.5,130.6 152.2,132.1 152.2,133.3 152.9,137.9 153.6,133.8 153.6,134.7 154.3,132.5 155.0,133.6 155.0,132.9 155.7,132.1 156.4,134.4 156.4,135.5 157.1,134.1 157.8,134.2 157.8,133.1 158.5,133.4 159.2,134.6 159.2,132.6 159.9,134.0 160.6,135.2 160.6,136.6 161.3,135.2 162.0,134.2 162.0,134.0 162.7,132.0 163.4,131.3 163.4,131.6 164.1,130.8 164.8,132.4 164.8,131.1 165.5,133.4 166.2,136.2 166.2,134.1 166.9,131.9 167.6,130.0 167.6,130.9 168.3,130.4 169.0,130.9 169.0,130.1 169.7,127.5 170.4,125.7 170.4,125.9 171.1,123.6 171.8,124.5 171.8,124.5 172.5,125.3 173.2,127.9 173.2,128.6 173.9,129.9 174.6,126.6 174.6,127.6 175.3,122.0 176.0,115.1 176.0,116.6 176.7,110.1 177.4,109.5 177.7,105.1 178.1,107.7 178.8,110.9 178.8,108.5 179.5,121.3 180.2,125.8 180.2,125.6 180.9,127.9 181.6,128.0 181.6,124.1 182.3,126.3 183.0,122.8 183.0,123.2 183.7,120.5 184.4,118.8 185.0,116.8 185.1,116.0 185.8,117.8 185.8,117.0 186.5,118.1 187.2,122.4 187.2,125.8 187.9,127.8 188.6,131.4 188.6,131.4 189.3,136.1 190.0,132.6 190.0,130.7 190.7,126.7 191.4,130.0 191.4,130.0 192.1,128.7 192.8,127.2 192.8,128.2 193.5,124.0 194.2,124.2 194.2,123.1 194.9,123.0 195.6,124.3 195.6,125.3 196.3,123.1 197.0,121.5 197.0,120.6 197.7,120.5 198.4,117.1 198.4,119.2 199.1,118.0 199.8,121.9 199.8,119.9 200.5,117.6 201.2,118.4 201.2,118.9 201.9,117.9 201.9,115.0 202.6,115.5 202.6,116.7 203.3,116.5 204.0,119.6 204.0,120.8 204.7,123.0 205.4,124.7 205.4,124.2 206.1,124.3 206.8,122.2 206.8,122.5 207.5,122.9 208.2,127.0 208.2,125.3 208.9,122.7 209.6,124.0 209.6,125.1 210.3,120.6 211.0,125.4 211.0,126.5 211.7,122.9 212.4,123.5 212.4,124.2 213.1,124.4 213.8,127.3 213.8,126.6 214.5,127.0 215.2,127.3 215.2,126.4 215.9,130.1 216.6,128.8 216.6,129.3 217.3,127.1 218.0,127.2 218.0,126.7 218.7,126.9 219.4,128.8 219.4,129.1 220.1,130.3 220.8,130.3 220.8,128.7 221.5,129.9 222.2,127.8 222.2,127.5 222.9,129.4 223.6,129.9 223.6,127.9 224.3,126.0 225.0,126.9 225.0,129.2 225.7,125.5 226.4,128.4 226.4,127.8 227.1,122.8 227.8,125.1 227.8,124.9 228.5,125.8 229.2,127.9 229.2,127.9 229.9,126.1 230.6,126.3 230.6,127.8 231.3,127.4 232.0,127.0 232.0,129.6 232.7,125.2 233.4,123.5 233.4,124.6 234.1,124.3 234.8,114.5 234.8,115.6 235.5,107.3 236.2,88.1 236.2,86.6 236.9,86.5 237.1,85.5 237.6,87.8 238.3,88.1 239.0,111.1 239.0,110.3 239.7,124.6 240.4,123.1 240.4,123.8 241.1,125.4 241.8,128.2 241.8,127.0 242.5,119.1 243.2,117.3 243.2,117.0 243.8,117.4 243.9,116.5 244.6,119.3 244.6,119.4 245.3,120.3 246.0,122.8 246.0,122.1 246.7,124.8 247.4,125.4 247.4,126.7 248.1,124.4 248.8,127.4 248.8,127.1 249.5,125.5 250.2,125.9 250.2,126.2 250.9,126.0 251.6,128.1 251.6,126.4 252.3,124.7 253.0,123.3 253.0,126.5 253.7,123.2 254.4,124.5 254.4,124.6 255.1,122.0 255.8,122.0 255.8,122.8 256.5,120.2 257.2,123.6 257.2,122.6 257.9,120.1 258.6,121.5 258.6,121.3 259.3,121.4 260.0,120.6 260.0,121.6 260.7,119.3 261.4,118.7 261.4,119.6 262.1,117.2 262.8,123.5 262.8,121.1 263.5,117.7 264.2,115.3 264.2,113.1 264.9,108.3 265.6,106.4 265.6,108.7 266.3,107.3 266.3,108.6 267.0,107.7 267.0,105.7 267.7,113.6 268.4,124.3 268.4,123.4 269.1,131.8 269.8,130.4 269.8,132.3 270.5,134.1 271.2,133.7 271.2,134.6 271.9,133.5 272.6,134.8 272.6,132.4 273.3,134.1 274.0,135.0 274.0,134.0 274.7,131.6 275.4,130.7 275.4,129.7 276.1,131.2 276.8,131.1 276.8,128.0 277.5,130.3 278.2,130.9 278.2,130.3 278.9,131.7 279.6,133.2 279.6,132.7 280.3,130.8 281.0,128.5 281.0,130.0 281.7,125.6 282.4,122.9 282.4,122.9 283.1,120.9 283.8,116.2 283.8,116.8 284.5,112.7 285.2,109.6 285.2,109.7 285.9,108.7 286.6,106.6 286.6,106.8 287.3,103.7 288.0,98.4 288.0,96.8 288.7,96.2 289.4,93.7 289.4,95.4 290.1,94.0 290.4,95.9 290.8,94.3 291.5,97.4 292.2,96.4 292.2,97.1 292.9,101.3 293.6,102.3 293.6,99.6 294.3,101.4 295.0,100.5 295.0,101.7 295.7,105.1 296.4,101.7 296.4,102.6 297.1,105.7 297.8,107.0 297.8,107.4 298.5,107.6 299.2,105.1 299.2,106.0 299.9,109.4 300.6,110.9 300.6,109.4 301.3,107.6 302.0,104.9 302.0,106.4 302.7,103.5 303.4,102.1 303.4,103.0 304.1,96.5 304.8,94.4 304.8,94.5 305.5,93.7 306.2,90.5 306.2,89.0 306.9,88.2 307.6,85.0 307.6,87.4 308.3,83.4 309.0,82.9 309.5,81.1 309.7,82.8 310.4,84.4 310.4,83.4 311.1,84.3 311.8,84.1 311.8,84.9 312.5,85.5 313.2,85.2 313.2,84.4 313.9,85.4 314.6,85.4 315.0,86.2 315.3,83.6 316.0,85.5 316.0,85.3 316.7,86.8 317.4,91.4 317.4,94.3 318.1,93.9 318.8,97.9 318.8,97.5 319.5,100.9 320.2,102.0 320.2,102.4 320.9,102.4 321.6,104.2 321.6,105.1 322.3,105.5 323.0,107.3 323.0,107.9 323.7,109.9 324.4,110.5 324.4,112.8 325.1,114.7 325.8,116.4 325.8,117.1 326.5,118.8 327.2,117.1 327.2,118.2 327.9,119.9 328.6,123.1 328.6,122.1 329.3,121.2 330.0,121.2 330.0,120.9 330.7,122.6 331.4,122.1 331.4,121.4 332.1,120.0 332.8,121.6 332.8,120.3 333.5,116.8 334.2,113.0 334.2,112.0 334.9,110.3 335.6,103.9 335.6,106.4 336.3,102.8 337.0,100.0 337.0,99.7 337.7,95.9 338.4,91.6 338.4,91.4 339.1,88.7 339.8,86.2 339.8,85.7 340.5,84.1 341.2,82.4 341.6,81.6 341.9,79.8 342.6,83.4 342.6,84.3 343.3,83.9 344.0,85.7 344.0,86.3 344.7,90.6 345.4,92.1 345.4,92.1 346.1,95.5 346.8,97.2 346.8,94.5 347.5,102.4 348.2,103.9 348.2,104.4 348.9,104.4 349.6,107.1 349.6,108.7 350.3,111.0 351.0,117.6 351.0,114.8 351.7,119.3 352.4,125.4 352.4,124.5 353.1,127.7 353.8,131.5 353.8,129.4 354.5,133.5 355.2,136.4 355.2,136.2 355.9,136.5 356.6,136.4 356.6,137.6 357.3,135.7 358.0,133.5 358.0,134.1 358.7,133.5 359.4,130.4 359.4,131.9 360.1,127.3 360.8,127.0 360.8,126.2 361.5,126.1 362.2,125.5 362.2,125.4 362.9,122.8 363.6,120.8 363.6,118.3 364.3,116.1 365.0,114.2 365.0,114.0 365.7,111.3 366.4,110.2 366.4,111.5 367.1,106.7 367.8,106.0 367.8,105.0 368.5,99.5 369.2,101.0 369.2,98.3 369.9,95.2 370.6,94.5 370.6,95.2 371.3,93.8 372.0,94.4 372.5,93.0 372.7,91.8 373.4,93.5 373.4,92.9 374.1,94.0 374.8,96.2 374.8,98.3 375.5,101.5 376.2,104.4 376.2,104.4 376.9,105.0 377.6,106.4 377.6,103.3 378.3,103.1 379.0,101.4 379.0,103.2 379.7,104.9 380.4,108.2 380.4,109.3 381.1,107.2 381.8,107.2 381.8,105.7 382.5,104.8 383.2,104.5 383.2,102.0 383.9,98.6 384.6,95.7 384.6,95.3 385.3,93.0 386.0,93.6 386.0,94.9 386.7,90.2 387.4,84.1 387.4,84.6 388.1,85.4 388.8,81.2 388.8,82.4 389.5,78.0 390.2,76.0 390.2,77.7 390.9,76.9 391.5,77.6 391.6,77.7 392.3,77.4 393.0,76.8 393.0,75.8 393.7,79.4 394.4,78.8 394.4,79.5 395.1,81.9 395.8,82.4 395.8,84.0 396.5,83.5 397.2,86.8 397.2,87.4 397.9,90.0 398.6,96.8 398.6,96.5 399.3,98.0 400.0,100.5 400.0,100.7 400.7,108.0 401.4,112.7 401.4,110.7 402.1,113.6 402.8,118.3 402.8,116.9 403.5,121.7 404.2,125.6 404.2,127.5 404.9,125.7 405.6,128.1 405.6,126.2 406.3,129.9 407.0,133.1 407.0,132.3 407.7,131.6 408.4,130.8 408.4,133.5 409.1,134.9 409.8,134.8 409.8,135.0 410.5,136.6 411.2,136.5 411.2,135.0 411.9,136.7 412.6,135.4 412.6,134.7 413.3,136.3 414.0,139.3 414.0,135.0 414.7,135.1 415.4,134.1 415.4,134.7 416.1,137.5 416.8,134.1 416.8,135.3 417.5,134.6 418.2,135.5 418.2,135.5 418.9,135.5 419.6,133.5 419.6,135.0 420.3,135.5 421.0,136.7 421.0,134.8 421.7,136.0 422.4,135.8 422.4,134.9 423.1,135.2 423.8,135.7 423.8,135.5 424.5,135.6 425.2,134.9 425.2,134.9 425.9,135.5 426.6,136.1 426.6,134.3 427.3,134.2 428.0,136.4 428.0,134.8 428.7,135.6 429.4,136.5 429.4,134.1 430.1,132.9 430.8,134.6 430.8,134.6 431.5,132.7 432.2,135.0 432.2,134.9 432.9,134.2 433.6,133.2 433.6,133.1 434.3,135.0 435.0,134.7 435.0,134.3 435.7,134.8 436.4,134.7 436.4,135.0 437.1,133.0 437.8,134.0 437.8,130.6 438.5,133.1 439.2,134.6 439.2,133.8 439.9,133.4 440.6,132.0 440.6,132.0 441.3,132.0 442.0,132.6 442.0,131.7 442.7,130.1 443.4,132.9 443.4,132.9 444.1,131.7 444.8,131.1 444.8,131.6 445.5,131.2 446.2,132.5 446.2,132.7 446.9,132.9 447.6,132.8 447.6,131.7 448.3,131.0 449.0,133.8 449.0,131.0 449.7,132.6 450.4,134.1 450.4,131.4 451.1,132.0 451.8,132.2 451.8,133.2 452.5,133.2 453.2,132.4 453.2,133.8 453.9,132.2 454.6,131.1 454.6,131.4 455.3,130.9 456.0,131.3 456.0,132.5 456.7,132.4 457.4,130.6 457.4,129.7 458.1,130.6 458.8,131.3 458.8,130.6 459.5,132.7 460.2,131.8 460.2,131.2 460.9,131.7 461.6,131.7 461.6,131.6 462.3,132.6 463.0,132.0 463.0,131.1 463.7,133.4 464.4,131.9 464.4,131.0 465.1,129.0 465.8,129.9 465.8,128.9 466.5,129.2 467.2,131.1 467.2,130.7 467.9,132.2 468.6,129.6 468.6,130.0 469.3,130.2 470.0,130.1 470.0,130.3 470.7,130.6 470.7,147.0 470.0,145.7 470.0,146.6 469.3,149.3 468.6,146.5 468.6,147.5 467.9,145.1 467.2,148.6 467.2,146.4 466.5,147.2 465.8,146.7 465.8,145.2 465.1,146.9 464.4,145.1 464.4,145.5 463.7,146.4 463.0,145.4 463.0,147.4 462.3,146.4 461.6,143.0 461.6,143.7 460.9,146.1 460.2,146.8 460.2,146.2 459.5,144.1 458.8,145.7 458.8,144.9 458.1,144.1 457.4,144.6 457.4,146.0 456.7,146.7 456.0,145.3 456.0,147.2 455.3,145.6 454.6,145.8 454.6,146.0 453.9,146.8 453.2,148.1 453.2,148.6 452.5,145.9 451.8,147.0 451.8,146.5 451.1,148.7 450.4,148.2 450.4,148.2 449.7,145.9 449.0,147.1 449.0,147.7 448.3,148.8 447.6,147.9 447.6,148.8 446.9,148.7 446.2,146.0 446.2,146.1 445.5,146.5 444.8,146.7 444.8,148.0 444.1,145.7 443.4,148.2 443.4,147.0 442.7,147.3 442.0,149.6 442.0,149.0 441.3,148.3 440.6,148.6 440.6,147.2 439.9,149.3 439.2,148.3 439.2,148.5 438.5,147.0 437.8,150.3 437.8,148.0 437.1,148.2 436.4,149.4 436.4,150.8 435.7,148.6 435.0,149.4 435.0,149.0 434.3,149.9 433.6,150.3 433.6,150.6 432.9,149.5 432.2,149.5 432.2,148.6 431.5,147.2 430.8,150.1 430.8,148.7 430.1,149.8 429.4,150.2 429.4,150.5 428.7,149.9 428.0,149.3 428.0,149.6 427.3,149.9 426.6,149.6 426.6,149.5 425.9,150.2 425.2,148.0 425.2,147.5 424.5,150.3 423.8,149.8 423.8,149.5 423.1,149.3 422.4,151.4 422.4,152.5 421.7,151.5 421.0,150.4 421.0,151.9 420.3,150.5 419.6,152.0 419.6,152.3 418.9,150.4 418.2,152.2 418.2,150.4 417.5,150.2 416.8,149.9 416.8,153.4 416.1,149.1 415.4,149.8 415.4,150.9 414.7,151.7 414.0,151.3 414.0,150.1 413.3,150.2 412.6,151.4 412.6,150.7 411.9,151.6 411.2,150.3 411.2,149.5 410.5,150.2 409.8,151.0 409.8,151.3 409.1,150.9 408.4,151.9 408.4,148.2 407.7,150.9 407.0,148.7 407.0,149.7 406.3,150.4 405.6,146.9 405.6,147.9 404.9,148.2 404.2,148.2 404.2,146.5 403.5,144.4 402.8,138.6 402.8,141.7 402.1,141.1 401.4,140.4 401.4,140.4 400.7,133.7 400.0,130.4 400.0,129.9 399.3,126.5 398.6,125.0 398.6,125.0 397.9,116.3 397.2,112.8 397.2,113.5 396.5,110.9 395.8,108.9 395.8,107.8 395.1,104.1 394.4,99.9 394.4,100.0 393.7,97.6 393.0,98.2 393.0,96.5 392.3,94.3 391.6,95.6 391.5,96.3 390.9,97.1 390.2,99.1 390.2,99.6 389.5,102.0 388.8,105.2 388.8,107.7 388.1,106.5 387.4,109.0 387.4,108.8 386.7,112.7 386.0,116.3 386.0,117.0 385.3,116.5 384.6,116.6 384.6,120.3 383.9,122.3 383.2,122.3 383.2,120.7 382.5,121.9 381.8,122.7 381.8,121.5 381.1,121.5 380.4,121.9 380.4,122.1 379.7,122.3 379.0,122.7 379.0,123.3 378.3,122.4 377.6,122.1 377.6,124.2 376.9,120.7 376.2,120.5 376.2,118.2 375.5,119.5 374.8,119.9 374.8,118.8 374.1,118.3 373.4,120.0 373.4,118.7 372.7,114.4 372.5,115.5 372.0,109.5 371.3,114.5 370.6,118.4 370.6,119.0 369.9,120.2 369.2,123.2 369.2,124.5 368.5,123.0 367.8,125.2 367.8,124.6 367.1,129.7 366.4,130.9 366.4,133.2 365.7,135.9 365.0,137.5 365.0,138.3 364.3,138.0 363.6,139.8 363.6,139.2 362.9,141.7 362.2,146.8 362.2,145.7 361.5,147.1 360.8,148.3 360.8,144.9 360.1,147.7 359.4,154.0 359.4,151.8 358.7,149.6 358.0,151.1 358.0,152.4 357.3,151.8 356.6,154.1 356.6,153.2 355.9,151.5 355.2,152.8 355.2,154.6 354.5,150.6 353.8,149.9 353.8,150.7 353.1,149.6 352.4,149.4 352.4,150.0 351.7,147.4 351.0,142.6 351.0,141.4 350.3,139.7 349.6,136.2 349.6,137.4 348.9,133.4 348.2,131.7 348.2,129.1 347.5,127.0 346.8,120.5 346.8,120.0 346.1,119.7 345.4,117.5 345.4,116.7 344.7,113.0 344.0,108.4 344.0,110.0 343.3,106.0 342.6,105.9 342.6,103.8 341.9,102.0 341.6,104.4 341.2,102.1 340.5,109.6 339.8,111.0 339.8,111.5 339.1,113.5 338.4,116.6 338.4,117.0 337.7,121.8 337.0,124.9 337.0,126.5 336.3,130.5 335.6,132.9 335.6,134.5 334.9,133.9 334.2,136.4 334.2,136.5 333.5,136.1 332.8,141.6 332.8,141.3 332.1,139.5 331.4,141.8 331.4,140.7 330.7,139.3 330.0,139.9 330.0,140.1 329.3,136.6 328.6,137.4 328.6,138.2 327.9,136.5 327.2,135.6 327.2,135.2 326.5,134.3 325.8,136.3 325.8,135.1 325.1,134.8 324.4,129.7 324.4,131.5 323.7,128.1 323.0,127.8 323.0,129.7 322.3,126.8 321.6,123.5 321.6,121.7 320.9,122.3 320.2,120.6 320.2,121.0 319.5,118.8 318.8,118.0 318.8,116.7 318.1,117.2 317.4,115.3 317.4,114.9 316.7,113.6 316.0,108.7 316.0,110.9 315.3,109.7 315.0,109.0 314.6,107.5 313.9,103.1 313.2,98.9 313.2,99.3 312.5,99.7 311.8,98.6 311.8,98.9 311.1,100.7 310.4,101.3 310.4,101.3 309.7,100.6 309.5,102.4 309.0,104.9 308.3,105.5 307.6,105.2 307.6,106.7 306.9,109.6 306.2,112.8 306.2,112.2 305.5,114.9 304.8,117.3 304.8,118.7 304.1,120.0 303.4,122.4 303.4,122.1 302.7,121.6 302.0,125.9 302.0,124.4 301.3,123.9 300.6,123.9 300.6,121.8 299.9,123.8 299.2,121.9 299.2,123.4 298.5,122.9 297.8,123.9 297.8,122.6 297.1,122.2 296.4,123.6 296.4,121.1 295.7,120.3 295.0,122.5 295.0,120.4 294.3,118.1 293.6,116.7 293.6,115.6 292.9,117.1 292.2,116.5 292.2,116.3 291.5,114.1 290.8,114.5 290.4,116.0 290.1,118.0 289.4,120.1 289.4,117.9 288.7,120.4 288.0,119.7 288.0,119.1 287.3,126.0 286.6,129.3 286.6,127.9 285.9,131.3 285.2,135.2 285.2,134.8 284.5,138.1 283.8,138.9 283.8,142.8 283.1,143.3 282.4,142.7 282.4,143.1 281.7,146.9 281.0,148.7 281.0,150.0 280.3,148.6 279.6,149.1 279.6,150.9 278.9,149.7 278.2,147.0 278.2,146.7 277.5,142.4 276.8,143.4 276.8,143.0 276.1,142.2 275.4,146.6 275.4,143.8 274.7,146.7 274.0,147.5 274.0,146.3 273.3,145.7 272.6,146.7 272.6,149.0 271.9,148.7 271.2,151.2 271.2,149.9 270.5,150.8 269.8,147.1 269.8,146.6 269.1,146.1 268.4,142.7 268.4,143.5 267.7,143.5 267.0,135.0 267.0,134.2 266.3,125.8 266.3,126.6 265.6,128.1 265.6,127.0 264.9,132.1 264.2,133.8 264.2,135.8 263.5,139.5 262.8,136.5 262.8,137.7 262.1,136.4 261.4,135.1 261.4,133.9 260.7,139.0 260.0,137.9 260.0,137.8 259.3,136.9 258.6,135.8 258.6,135.4 257.9,139.0 257.2,139.0 257.2,138.9 256.5,139.9 255.8,137.7 255.8,137.1 255.1,140.6 254.4,139.5 254.4,141.2 253.7,140.6 253.0,138.4 253.0,139.1 252.3,139.7 251.6,140.8 251.6,141.1 250.9,141.8 250.2,139.9 250.2,137.7 249.5,139.7 248.8,142.3 248.8,141.3 248.1,140.6 247.4,139.7 247.4,137.0 246.7,138.3 246.0,139.6 246.0,140.8 245.3,140.2 244.6,137.7 244.6,135.6 243.9,135.3 243.8,135.7 243.2,139.3 243.2,138.6 242.5,141.6 241.8,141.9 241.8,141.4 241.1,139.9 240.4,139.5 240.4,139.5 239.7,137.8 239.0,134.7 239.0,136.9 238.3,138.7 237.6,122.7 237.1,124.6 236.9,120.8 236.2,128.5 236.2,128.3 235.5,134.8 234.8,136.3 234.8,139.1 234.1,139.4 233.4,141.0 233.4,140.8 232.7,142.9 232.0,143.3 232.0,144.1 231.3,143.4 230.6,140.0 230.6,142.4 229.9,142.8 229.2,145.3 229.2,142.0 228.5,141.5 227.8,140.4 227.8,140.4 227.1,143.3 226.4,143.9 226.4,143.2 225.7,146.9 225.0,141.5 225.0,142.7 224.3,145.1 223.6,142.1 223.6,144.9 222.9,143.8 222.2,143.7 222.2,142.8 221.5,144.8 220.8,143.8 220.8,144.3 220.1,143.7 219.4,144.4 219.4,144.5 218.7,144.3 218.0,139.7 218.0,141.7 217.3,143.1 216.6,145.3 216.6,143.2 215.9,142.2 215.2,144.6 215.2,142.2 214.5,144.5 213.8,143.9 213.8,144.0 213.1,145.3 212.4,140.4 212.4,139.7 211.7,142.4 211.0,142.3 211.0,142.1 210.3,143.1 209.6,138.0 209.6,138.0 208.9,141.0 208.2,140.2 208.2,139.6 207.5,139.3 206.8,138.3 206.8,139.0 206.1,140.2 205.4,138.5 205.4,139.8 204.7,138.8 204.0,136.3 204.0,138.9 203.3,133.5 202.6,131.5 202.6,133.0 201.9,130.4 201.9,131.0 201.2,132.5 201.2,132.2 200.5,135.1 199.8,135.1 199.8,136.1 199.1,135.6 198.4,134.8 198.4,133.6 197.7,134.5 197.0,139.5 197.0,137.9 196.3,139.6 195.6,141.5 195.6,142.1 194.9,140.1 194.2,142.8 194.2,140.2 193.5,143.5 192.8,145.8 192.8,143.5 192.1,144.0 191.4,144.6 191.4,143.7 190.7,145.3 190.0,144.8 190.0,147.2 189.3,144.7 188.6,145.3 188.6,144.0 187.9,145.1 187.2,142.9 187.2,143.3 186.5,141.8 185.8,137.4 185.8,135.6 185.1,134.5 185.0,137.0 184.4,137.2 183.7,139.1 183.0,140.1 183.0,140.5 182.3,138.1 181.6,140.5 181.6,142.5 180.9,142.0 180.2,145.9 180.2,142.3 179.5,145.5 178.8,142.4 178.8,139.1 178.1,137.8 177.7,137.8 177.4,133.5 176.7,137.1 176.0,141.9 176.0,139.6 175.3,141.5 174.6,142.9 174.6,143.2 173.9,146.4 173.2,144.3 173.2,146.0 172.5,147.1 171.8,139.7 171.8,139.1 171.1,140.6 170.4,143.6 170.4,145.0 169.7,144.6 169.0,143.4 169.0,145.7 168.3,146.1 167.6,144.4 167.6,146.0 166.9,147.8 166.2,147.7 166.2,148.9 165.5,149.8 164.8,144.7 164.8,146.6 164.1,144.2 163.4,146.2 163.4,147.0 162.7,147.9 162.0,149.5 162.0,148.2 161.3,149.5 160.6,150.5 160.6,151.1 159.9,148.5 159.2,148.7 159.2,146.2 158.5,144.6 157.8,147.0 157.8,149.1 157.1,148.1 156.4,150.9 156.4,149.3 155.7,149.0 155.0,146.0 155.0,146.5 154.3,146.9 153.6,147.7 153.6,144.8 152.9,147.9 152.2,147.7 152.2,147.7 151.5,148.0 150.8,146.5 150.8,144.5 150.1,152.5 149.4,152.4 149.4,153.2 148.7,150.8 148.0,149.3 148.0,149.4 147.3,148.7 146.6,152.9 146.6,151.1 145.9,151.2 145.2,152.4 145.2,152.1 144.5,150.4 143.8,147.3 143.8,148.9 143.1,146.4 142.4,147.9 142.4,146.9 141.7,147.9 141.0,146.0 141.0,144.7 140.3,149.0 139.6,148.7 139.6,148.7 138.9,148.5 138.2,146.6 138.2,145.2 137.5,149.2 136.8,147.1 136.8,146.6 136.1,146.6 135.4,146.4 135.4,144.9 134.7,149.5 134.0,147.2 134.0,149.8 133.3,148.1 132.6,145.8 132.6,145.3 131.9,144.6 131.2,144.4 131.2,145.1 130.5,146.4 129.8,146.7 129.8,146.7 129.1,146.7 128.4,142.8 128.4,142.4 127.7,139.2 127.0,144.4 127.0,143.6 126.3,147.3 125.6,145.3 125.6,148.3 124.9,146.1 124.2,143.9 124.2,144.2 123.5,143.5 122.8,145.3 122.8,143.7 122.1,144.3 121.4,142.0 121.4,141.0 120.7,147.1 120.0,147.7 120.0,146.0 119.3,147.9 118.6,142.6 118.6,143.9 117.9,139.0 117.2,145.6 117.2,145.3 116.5,149.8 115.8,151.6 115.8,151.3 115.1,152.0 114.4,151.1 114.4,151.7 113.7,152.9 113.0,153.7 113.0,155.2 112.3,153.4 111.6,147.9 111.6,148.3 110.9,145.6 110.2,149.4 110.2,150.1 109.5,155.2 108.8,153.8 108.8,153.8 108.1,154.9 107.4,150.0 107.4,147.1 106.7,149.5 106.0,150.9 106.0,150.0 105.3,152.0 104.6,148.4 104.6,147.0 103.9,149.5 103.2,149.8 103.2,151.4 102.5,151.7 101.8,145.8 101.8,145.8 101.1,146.9 100.4,150.5 100.4,148.5 99.7,149.4 99.0,147.7 99.0,149.1 98.3,153.6 97.6,152.0 97.6,152.0 96.9,150.9 96.2,144.3 96.2,144.8 95.5,148.0 94.8,149.1 94.8,148.6 94.1,148.4 93.4,148.3 93.4,147.8 92.7,152.9 92.0,153.4 92.0,155.3 91.3,153.5 90.6,150.4 90.6,152.5 89.9,152.6 89.2,153.7 89.2,154.6 88.5,154.9 87.8,147.0 87.8,146.0 87.1,146.3 86.4,147.7 86.4,146.8 85.7,147.6 85.0,144.2 85.0,143.0 84.8,145.5 84.3,144.0 83.9,151.5 83.6,151.8 83.0,152.9 82.9,153.4 82.2,153.8 82.1,151.3 81.5,151.6 81.2,151.8 80.8,152.8 80.3,152.9 80.1,150.1 79.4,133.3 78.9,126.3 78.7,128.7 78.0,142.5 77.8,144.6 77.3,136.9 76.6,126.7 76.3,127.9 75.9,131.2 75.2,151.5 75.2,150.8 74.5,133.7 73.8,117.6 73.7,117.5 73.1,131.4 72.5,146.4 72.4,144.3 71.7,126.5 71.0,112.6 71.0,111.5 70.3,137.8 69.8,154.1 69.6,156.8 68.9,106.1 68.8,105.5 68.2,125.1 67.5,155.7 67.3,154.8 66.8,131.2 66.2,105.1 66.1,106.3 65.4,127.3 64.7,151.5 64.7,152.3 64.0,141.1 63.3,131.5 63.2,132.5 62.6,142.2 61.9,159.5 61.7,159.8 61.2,142.2 60.5,113.8" fill="#b8b8b8"/>
<polyline points="60.5,107.5 61.7,154.6 63.2,123.8 64.7,145.3 66.2,97.8 67.3,149.2 68.8,94.7 69.8,151.2 71.0,105.8 72.5,139.7 73.7,110.5 75.2,143.9 76.3,116.5 77.8,137.5 78.9,118.2 80.3,145.0 81.2,137.7 82.1,133.3 83.0,145.9 83.9,132.7 84.8,138.0 85.0,134.6 86.4,139.8 87.8,130.9 89.2,148.1 90.6,141.4 92.0,148.3 93.4,136.3 94.8,142.0 96.2,131.2 97.6,145.5 99.0,139.1 100.4,142.6 101.8,135.4 103.2,145.5 104.6,135.8 106.0,144.3 107.4,137.2 108.8,148.1 110.2,139.1 111.6,136.4 113.0,148.1 114.4,139.2 115.8,145.3 117.2,132.9 118.6,133.1 120.0,141.6 121.4,130.9 122.8,138.2 124.2,133.5 125.6,140.6 127.0,134.1 128.4,134.7 129.8,140.5 131.2,138.9 132.6,134.7 134.0,142.6 135.4,137.4 136.8,141.6 138.2,137.3 139.6,142.3 141.0,137.5 142.4,141.4 143.8,139.4 145.2,144.5 146.6,145.7 148.0,137.9 149.4,145.8 150.8,135.9 152.2,142.0 153.6,141.5 155.0,138.0 156.4,142.9 157.8,139.4 159.2,139.3 160.6,144.0 162.0,141.6 163.4,138.6 164.8,137.1 166.2,142.7 167.6,137.7 169.0,138.4 170.4,135.4 171.8,130.7 173.2,139.4 174.6,135.5 176.0,130.9 177.7,120.1 178.8,128.5 180.2,137.4 181.6,133.7 183.0,132.7 185.0,126.3 185.8,125.2 187.2,135.3 188.6,139.1 190.0,139.7 191.4,135.4 192.8,137.3 194.2,130.0 195.6,134.9 197.0,129.9 198.4,125.3 199.8,129.7 201.2,123.7 201.9,124.2 202.6,122.4 204.0,127.0 205.4,133.5 206.8,129.2 208.2,133.5 209.6,128.8 211.0,135.7 212.4,130.9 213.8,138.0 215.2,133.2 216.6,136.9 218.0,133.2 219.4,137.0 220.8,137.7 222.2,134.2 223.6,139.0 225.0,132.1 226.4,138.1 227.8,131.3 229.2,136.9 230.6,133.1 232.0,137.3 233.4,132.2 234.8,130.8 236.2,113.5 237.1,94.5 239.0,130.1 240.4,130.6 241.8,135.4 243.2,127.5 243.8,124.2 244.6,125.2 246.0,133.6 247.4,131.5 248.8,135.1 250.2,131.6 251.6,135.2 253.0,130.7 254.4,133.9 255.8,127.4 257.2,131.9 258.6,127.2 260.0,130.2 261.4,125.7 262.8,132.0 264.2,125.4 265.6,114.5 266.3,113.0 267.0,119.5 268.4,136.9 269.8,138.7 271.2,143.7 272.6,140.2 274.0,141.1 275.4,136.9 276.8,136.7 278.2,136.6 279.6,143.5 281.0,136.9 282.4,135.9 283.8,128.3 285.2,122.8 286.6,114.7 288.0,113.9 289.4,106.4 290.4,104.4 292.2,107.4 293.6,109.2 295.0,108.2 296.4,114.6 297.8,112.8 299.2,117.2 300.6,116.7 302.0,117.2 303.4,111.4 304.8,107.2 306.2,100.3 307.6,97.6 309.5,91.0 310.4,93.8 311.8,92.7 313.2,92.3 315.0,93.9 316.0,99.8 317.4,103.3 318.8,108.4 320.2,109.9 321.6,115.1 323.0,117.3 324.4,124.0 325.8,124.4 327.2,129.6 328.6,127.8 330.0,130.0 331.4,133.7 332.8,128.2 334.2,126.2 335.6,119.5 337.0,110.8 338.4,105.8 339.8,97.3 341.6,91.4 342.6,93.3 344.0,98.4 345.4,102.2 346.8,110.5 348.2,114.1 349.6,123.3 351.0,131.7 352.4,136.9 353.8,143.7 355.2,145.1 356.6,146.1 358.0,143.9 359.4,140.3 360.8,138.8 362.2,132.5 363.6,131.4 365.0,126.7 366.4,119.8 367.8,117.2 369.2,110.8 370.6,104.7 372.5,101.4 373.4,103.0 374.8,112.2 376.2,112.5 377.6,110.4 379.0,115.8 380.4,115.2 381.8,115.8 383.2,112.4 384.6,109.8 386.0,102.6 387.4,99.8 388.8,91.3 390.2,89.5 391.5,84.6 393.0,86.3 394.4,90.1 395.8,92.9 397.2,101.7 398.6,106.9 400.0,117.7 401.4,123.7 402.8,133.2 404.2,134.3 405.6,140.6 407.0,138.4 408.4,143.4 409.8,141.9 411.2,142.1 412.6,144.5 414.0,142.8 415.4,144.4 416.8,142.1 418.2,144.7 419.6,141.8 421.0,145.2 422.4,142.5 423.8,143.5 425.2,142.2 426.6,143.2 428.0,141.7 429.4,143.4 430.8,140.5 432.2,140.3 433.6,142.9 435.0,140.9 436.4,142.5 437.8,140.3 439.2,141.2 440.6,141.6 442.0,138.9 443.4,140.8 444.8,139.0 446.2,141.3 447.6,141.1 449.0,140.0 450.4,138.3 451.8,140.8 453.2,138.6 454.6,139.5 456.0,137.8 457.4,139.2 458.8,137.2 460.2,139.0 461.6,139.0 463.0,137.8 464.4,139.3 465.8,137.1 467.2,137.7 468.6,140.0 470.0,137.3" fill="none" stroke="#668a66" stroke-width="1.2" stroke-linejoin="round"/>
<polygon points="60.7,189.3 61.4,181.9 62.0,172.6 62.1,171.9 62.8,193.6 63.2,193.9 63.5,194.0 64.2,169.2 64.4,170.5 64.9,181.5 65.6,195.8 65.7,195.6 66.3,181.5 67.0,165.9 67.0,167.4 67.7,146.6 67.8,148.6 68.4,166.9 69.0,181.7 69.1,185.7 69.7,183.0 69.8,182.6 70.5,174.0 70.6,175.0 71.2,178.1 71.9,184.6 71.9,182.7 72.6,171.9 73.3,160.6 73.4,158.8 74.0,164.4 74.6,166.2 74.7,166.0 75.4,147.7 75.6,150.4 76.1,157.9 76.8,164.6 77.1,166.0 77.5,168.4 78.2,173.1 78.3,172.2 78.9,175.2 79.6,176.2 79.8,174.7 80.3,176.6 80.5,176.1 81.0,176.0 81.4,180.3 81.7,183.8 82.3,186.5 82.4,184.3 83.1,186.7 83.2,186.3 83.8,185.4 84.1,185.6 84.5,186.8 85.0,186.6 85.0,184.2 85.2,184.6 85.9,187.4 86.4,187.2 86.6,189.9 87.3,187.6 87.8,188.1 88.0,189.9 88.7,187.4 89.2,187.8 89.4,185.6 90.1,187.4 90.6,183.7 90.8,181.8 91.5,182.3 92.0,181.8 92.2,181.5 92.9,180.5 93.4,182.8 93.6,181.3 94.3,184.0 94.8,183.9 95.0,183.4 95.7,184.3 96.2,185.0 96.4,182.2 97.1,186.0 97.6,185.6 97.8,181.3 98.5,182.8 99.0,184.1 99.2,182.5 99.9,182.5 100.4,183.9 100.6,183.1 101.3,184.0 101.8,182.4 102.0,182.0 102.7,182.5 103.2,182.3 103.4,182.9 104.1,184.0 104.6,182.6 104.8,185.0 105.5,185.9 106.0,185.1 106.2,184.3 106.9,184.4 107.4,186.2 107.6,190.5 108.3,194.8 108.8,188.8 109.0,186.2 109.7,186.2 110.2,188.7 110.4,186.6 111.1,186.5 111.6,187.1 111.8,188.8 112.5,188.0 113.0,185.6 113.2,187.0 113.9,185.5 114.4,186.6 114.6,183.9 115.3,185.5 115.8,186.1 116.0,184.3 116.7,185.2 117.2,186.9 117.4,189.4 118.1,183.7 118.6,187.6 118.8,187.5 119.5,189.4 120.0,187.9 120.2,185.4 120.9,184.8 121.4,184.3 121.6,186.0 122.3,184.7 122.8,182.1 123.0,181.4 123.7,180.9 124.2,182.9 124.4,181.8 125.1,182.4 125.6,181.0 125.8,184.3 126.5,182.3 127.0,183.9 127.2,183.2 127.9,183.5 128.4,184.8 128.6,184.7 129.3,181.6 129.8,183.6 130.0,185.5 130.7,184.1 131.2,185.5 131.4,181.6 132.1,181.8 132.6,181.2 132.8,180.5 133.5,183.7 134.0,186.1 134.2,184.2 134.9,182.7 135.4,186.2 135.6,183.8 136.3,182.2 136.8,185.1 137.0,186.6 137.7,187.5 138.2,184.5 138.4,184.3 139.1,187.7 139.6,188.1 139.8,187.3 140.5,186.7 141.0,187.0 141.2,186.7 141.9,186.3 142.4,186.8 142.6,186.8 143.3,188.6 143.8,189.0 144.0,188.2 144.7,185.6 145.2,187.2 145.4,187.3 146.1,186.6 146.6,187.6 146.8,189.5 147.5,193.3 148.0,189.4 148.2,186.8 148.9,186.7 149.4,188.1 149.6,189.5 150.3,188.0 150.8,189.7 151.0,188.9 151.7,187.5 152.2,187.9 152.4,190.1 153.1,189.6 153.6,189.5 153.8,192.0 154.5,193.9 155.0,189.6 155.2,188.7 155.9,187.5 156.4,187.9 156.6,186.8 157.3,187.3 157.8,189.1 158.0,186.6 158.7,185.2 159.2,186.2 159.4,184.1 160.1,185.2 160.6,186.9 160.8,187.7 161.5,190.1 162.0,187.7 162.2,189.6 162.9,187.9 163.4,190.2 163.6,189.4 164.3,190.4 164.8,188.3 165.0,187.8 165.7,189.9 166.2,184.1 166.4,183.6 167.1,184.9 167.6,181.4 167.8,184.1 168.5,181.8 169.0,185.6 169.2,177.5 169.9,179.5 170.4,179.5 170.6,179.1 171.3,180.3 171.8,176.5 172.0,176.3 172.7,176.7 173.2,178.0 173.4,178.7 174.1,177.3 174.6,178.4 174.8,175.4 175.5,174.7 176.0,174.3 176.2,172.6 176.9,170.7 177.6,171.7 177.7,172.4 178.3,169.8 178.8,175.1 179.0,173.4 179.7,175.0 180.2,175.9 180.4,184.3 181.1,191.3 181.6,186.4 181.8,181.4 182.5,180.5 183.0,179.8 183.2,179.5 183.9,178.6 184.6,177.7 185.0,176.3 185.3,176.7 185.8,176.7 186.0,178.1 186.7,175.8 187.2,181.1 187.4,181.9 188.1,184.2 188.6,183.6 188.8,184.1 189.5,187.5 190.0,186.4 190.2,181.6 190.9,181.4 191.4,181.9 191.6,183.1 192.3,181.0 192.8,183.2 193.0,182.3 193.7,181.6 194.2,182.3 194.4,182.5 195.1,181.6 195.6,175.4 195.8,175.2 196.5,175.2 197.0,175.6 197.2,174.6 197.9,176.0 198.4,173.9 198.6,170.3 199.3,170.1 199.8,169.5 200.0,170.1 200.7,168.8 201.2,169.7 201.4,172.1 201.9,172.5 202.1,171.7 202.6,173.2 202.8,171.7 203.5,175.4 204.0,174.2 204.2,175.5 204.9,176.2 205.4,178.5 205.6,178.6 206.3,179.2 206.8,179.1 207.0,178.3 207.7,178.6 208.2,179.8 208.4,180.1 209.1,178.0 209.6,179.5 209.8,179.6 210.5,179.1 211.0,180.4 211.2,180.6 211.9,180.7 212.4,181.8 212.6,181.5 213.3,183.8 213.8,179.9 214.0,180.1 214.7,180.7 215.2,181.7 215.4,182.0 216.1,182.1 216.6,182.9 216.8,183.4 217.5,182.4 218.0,182.6 218.2,180.0 218.9,183.5 219.4,181.9 219.6,183.5 220.3,183.0 220.8,180.4 221.0,182.3 221.7,182.0 222.2,182.5 222.4,180.9 223.1,182.3 223.6,184.4 223.8,180.1 224.5,179.4 225.0,180.3 225.2,180.1 225.9,181.1 226.4,182.1 226.6,180.0 227.3,181.2 227.8,180.5 228.0,181.1 228.7,180.2 229.2,178.9 229.4,177.9 230.1,176.6 230.6,177.4 230.8,178.0 231.5,178.9 232.0,178.8 232.2,178.9 232.9,176.7 233.4,178.8 233.6,178.7 234.3,175.0 234.8,164.8 235.0,154.8 235.7,152.1 236.2,138.5 236.4,137.3 237.1,140.4 237.1,138.2 237.8,137.6 238.5,148.4 239.0,149.4 239.2,161.8 239.9,168.2 240.4,168.9 240.6,169.8 241.3,171.6 241.8,176.1 242.0,174.7 242.7,174.8 243.2,175.3 243.4,173.0 244.1,171.0 244.6,173.3 244.8,168.8 245.5,170.0 245.7,166.9 246.2,169.7 246.9,171.5 247.4,173.3 247.6,176.0 248.3,174.9 248.8,178.6 249.0,178.2 249.7,178.8 250.2,178.0 250.4,178.9 251.1,177.9 251.6,177.6 251.8,178.0 252.5,177.6 253.0,178.3 253.2,181.7 253.9,182.5 254.4,182.7 254.6,180.8 255.3,182.2 255.8,182.6 256.0,180.3 256.7,179.6 257.2,179.1 257.4,179.7 258.1,180.6 258.6,178.0 258.8,179.6 259.5,177.5 260.0,176.0 260.2,176.8 260.9,175.8 261.4,176.8 261.6,174.6 262.3,175.2 262.8,175.7 263.0,174.8 263.7,174.1 264.2,177.1 264.4,173.7 265.1,174.9 265.6,173.6 265.8,174.0 266.3,173.1 266.5,172.9 267.0,171.5 267.2,171.2 267.9,178.8 268.4,180.9 268.6,188.7 269.3,193.2 269.8,192.9 270.0,194.5 270.7,191.6 271.2,191.9 271.4,191.6 272.1,192.0 272.6,191.7 272.8,190.0 273.5,191.1 274.0,190.2 274.2,187.2 274.9,185.9 275.4,185.5 275.6,185.4 276.3,186.7 276.8,186.9 277.0,188.0 277.7,188.5 278.2,189.3 278.4,193.5 279.1,193.8 279.6,189.3 279.8,185.2 280.5,184.1 281.0,182.3 281.2,180.3 281.9,177.1 282.4,176.4 282.6,175.6 283.3,169.3 283.8,167.1 284.0,165.6 284.7,166.6 285.2,163.1 285.4,162.2 286.1,158.0 286.6,156.4 286.8,159.3 287.5,159.1 288.0,158.3 288.2,156.4 288.9,154.9 289.4,152.7 289.6,153.1 290.3,154.5 290.8,154.2 291.0,154.7 291.7,152.6 292.2,153.4 292.4,151.9 293.1,151.6 293.8,150.4 294.0,152.6 294.5,151.4 295.0,153.1 295.2,150.9 295.9,152.7 296.4,157.5 296.6,158.2 297.3,158.2 297.8,158.4 298.0,158.4 298.7,159.4 299.2,163.4 299.4,162.1 300.1,162.0 300.6,164.5 300.8,165.6 301.5,164.8 302.0,165.9 302.2,164.9 302.9,160.4 303.4,156.9 303.6,157.5 304.3,156.6 304.8,152.6 305.0,153.5 305.7,147.0 306.2,146.2 306.4,145.2 307.1,142.4 307.6,139.1 307.8,138.1 308.5,138.0 309.2,135.6 309.5,137.8 309.9,137.4 310.4,138.0 310.6,139.0 311.3,138.0 311.8,141.5 312.0,138.2 312.7,145.4 313.2,143.1 313.4,142.6 314.1,143.0 314.8,142.8 315.0,140.8 315.5,139.6 316.0,141.3 316.2,142.3 316.9,143.5 317.4,148.1 317.6,146.0 318.3,150.2 318.8,151.8 319.0,152.2 319.7,157.3 320.2,162.6 320.4,162.8 321.1,163.1 321.6,162.0 321.8,162.2 322.5,165.9 323.0,169.6 323.2,168.1 323.9,168.4 324.4,169.8 324.6,172.9 325.3,173.8 325.8,176.4 326.0,175.0 326.7,176.3 327.2,175.5 327.4,176.7 328.1,178.9 328.6,179.9 328.8,181.3 329.5,181.1 330.0,181.5 330.2,181.0 330.9,183.3 331.4,182.2 331.6,184.8 332.3,180.5 332.8,177.5 333.0,177.6 333.7,179.5 334.2,179.3 334.4,178.0 335.1,175.6 335.6,171.9 335.8,172.3 336.5,167.7 337.0,161.5 337.2,163.7 337.9,157.7 338.4,149.5 338.6,151.4 339.3,146.5 339.8,144.0 340.0,144.2 340.7,133.9 341.2,135.0 341.4,136.3 342.1,134.0 342.2,133.8 342.8,134.7 343.5,135.3 344.0,137.5 344.2,138.9 344.9,141.0 345.4,142.6 345.6,143.2 346.3,145.9 346.8,148.2 347.0,144.4 347.7,152.6 348.2,155.0 348.4,154.4 349.1,160.9 349.6,165.4 349.8,166.2 350.5,167.8 351.0,166.9 351.2,166.4 351.9,174.9 352.4,177.0 352.6,179.7 353.3,181.0 353.8,182.4 354.0,183.5 354.7,185.2 355.2,188.6 355.4,188.8 356.1,194.3 356.6,190.9 356.8,189.4 357.5,190.5 358.0,190.8 358.2,189.5 358.9,183.7 359.4,182.0 359.6,181.8 360.3,182.1 360.8,179.3 361.0,184.2 361.7,179.2 362.2,173.5 362.4,174.5 363.1,175.4 363.6,175.6 363.8,177.2 364.5,172.8 365.0,170.3 365.2,171.2 365.9,168.3 366.4,167.4 366.6,168.9 367.3,163.7 367.8,161.6 368.0,161.3 368.7,161.1 369.2,156.6 369.4,160.8 370.1,157.5 370.6,154.6 370.8,153.9 371.5,156.2 372.2,154.7 372.5,153.5 372.9,154.6 373.4,155.0 373.6,154.7 374.3,155.3 374.8,156.5 375.0,159.8 375.7,160.7 376.2,164.2 376.4,163.3 377.1,165.2 377.6,161.6 377.8,166.2 378.5,162.9 379.0,164.7 379.2,164.5 379.9,162.6 380.4,164.4 380.6,163.2 381.3,163.9 381.8,164.9 382.0,162.0 382.7,158.9 383.2,157.7 383.4,157.2 384.1,157.9 384.6,155.0 384.8,154.3 385.5,148.7 386.0,145.0 386.2,145.8 386.9,143.7 387.4,141.2 387.6,140.5 388.3,135.0 388.8,132.6 389.0,132.8 389.7,131.6 390.2,127.2 390.4,127.9 391.1,128.8 391.8,125.1 392.1,124.9 392.5,126.3 393.0,127.1 393.2,126.9 393.9,128.4 394.4,129.2 394.6,128.9 395.3,129.8 395.8,130.8 396.0,130.8 396.7,134.4 397.2,135.4 397.4,138.1 398.1,139.7 398.6,141.8 398.8,142.4 399.5,146.3 400.0,148.6 400.2,151.0 400.9,153.7 401.4,156.9 401.6,157.1 402.3,164.4 402.8,171.2 403.0,168.7 403.7,175.2 404.2,176.7 404.4,179.0 405.1,181.7 405.6,185.9 405.8,186.5 406.5,187.4 407.0,186.2 407.2,185.0 407.9,188.8 408.4,189.7 408.6,190.2 409.3,190.5 409.8,189.7 410.0,191.1 410.7,189.8 411.2,188.1 411.4,189.4 412.1,190.6 412.6,191.1 412.8,189.6 413.5,189.7 414.0,188.8 414.2,191.2 414.9,194.5 415.4,193.1 415.6,193.8 416.3,192.5 416.8,192.9 417.0,193.4 417.7,192.2 418.2,189.8 418.4,190.1 419.1,191.6 419.6,190.8 419.8,190.5 420.5,190.1 421.0,191.3 421.2,192.3 421.9,191.9 422.4,193.3 422.6,192.6 423.3,191.3 423.8,189.1 424.0,190.7 424.7,190.0 425.2,190.4 425.4,190.7 426.1,189.2 426.6,190.6 426.8,189.6 427.5,190.6 428.0,193.0 428.2,192.8 428.9,194.4 429.4,189.8 429.6,189.8 430.3,190.7 430.8,190.7 431.0,190.4 431.7,190.8 432.2,189.6 432.4,189.6 433.1,190.5 433.6,188.0 433.8,188.4 434.5,190.0 435.0,187.1 435.2,186.8 435.9,189.5 436.4,189.5 436.6,191.5 437.3,190.4 437.8,190.7 438.0,189.4 438.7,187.9 439.2,189.4 439.4,190.8 440.1,187.2 440.6,186.8 440.8,187.3 441.5,191.9 442.0,189.3 442.2,191.1 442.9,190.4 443.4,188.9 443.6,188.0 444.3,190.4 444.8,190.1 445.0,191.1 445.7,189.7 446.2,190.5 446.4,189.9 447.1,188.6 447.6,189.4 447.8,189.3 448.5,189.1 449.0,188.1 449.2,187.5 449.9,190.3 450.4,190.8 450.6,188.4 451.3,188.2 451.8,187.5 452.0,188.1 452.7,187.4 453.2,187.7 453.4,188.9 454.1,187.1 454.6,189.2 454.8,189.0 455.5,187.8 456.0,188.5 456.2,187.2 456.9,189.8 457.4,187.5 457.6,190.6 458.3,188.1 458.8,189.0 459.0,186.9 459.7,189.1 460.2,187.6 460.4,191.9 461.1,188.7 461.6,184.8 461.8,186.5 462.5,186.6 463.0,185.7 463.2,184.0 463.9,187.9 464.4,186.7 464.6,187.2 465.3,185.9 465.8,187.4 466.0,188.4 466.7,188.3 467.2,185.9 467.4,186.4 468.1,187.3 468.6,190.0 468.8,189.2 469.5,188.8 470.0,187.3 470.2,187.7 470.2,203.4 470.0,202.2 469.5,202.7 468.8,201.7 468.6,203.5 468.1,201.3 467.4,202.4 467.2,203.5 466.7,201.6 466.0,202.9 465.8,203.0 465.3,201.1 464.6,201.5 464.4,202.4 463.9,200.9 463.2,203.1 463.0,205.7 462.5,204.6 461.8,201.4 461.6,203.0 461.1,202.4 460.4,203.1 460.2,204.0 459.7,203.8 459.0,203.5 458.8,204.8 458.3,203.6 457.6,204.3 457.4,205.9 456.9,204.5 456.2,203.8 456.0,204.5 455.5,205.2 454.8,203.2 454.6,203.1 454.1,202.7 453.4,204.6 453.2,206.5 452.7,204.4 452.0,207.1 451.8,205.8 451.3,203.9 450.6,204.7 450.4,206.2 449.9,204.4 449.2,204.6 449.0,204.6 448.5,203.9 447.8,202.1 447.6,204.8 447.1,205.0 446.4,203.5 446.2,205.3 445.7,204.2 445.0,205.8 444.8,204.1 444.3,204.1 443.6,205.6 443.4,205.5 442.9,206.8 442.2,206.1 442.0,203.7 441.5,206.1 440.8,204.7 440.6,205.8 440.1,205.1 439.4,203.4 439.2,204.7 438.7,204.9 438.0,204.5 437.8,203.5 437.3,206.6 436.6,204.6 436.4,206.1 435.9,204.0 435.2,204.5 435.0,204.7 434.5,204.3 433.8,206.6 433.6,205.5 433.1,204.8 432.4,206.0 432.2,205.9 431.7,207.7 431.0,204.8 430.8,206.4 430.3,205.6 429.6,204.7 429.4,205.2 428.9,205.4 428.2,204.6 428.0,207.3 427.5,205.1 426.8,206.6 426.6,205.4 426.1,207.1 425.4,206.5 425.2,205.0 424.7,205.1 424.0,207.4 423.8,205.5 423.3,205.1 422.6,205.4 422.4,208.0 421.9,205.6 421.2,206.5 421.0,206.0 420.5,206.1 419.8,208.7 419.6,207.3 419.1,207.3 418.4,206.4 418.2,204.7 417.7,205.9 417.0,207.4 416.8,207.6 416.3,206.5 415.6,208.4 415.4,207.2 414.9,207.1 414.2,208.4 414.0,208.9 413.5,207.8 412.8,207.6 412.6,208.1 412.1,206.7 411.4,204.8 411.2,205.7 410.7,206.6 410.0,204.6 409.8,204.5 409.3,204.9 408.6,204.7 408.4,205.5 407.9,203.6 407.2,204.2 407.0,204.3 406.5,203.2 405.8,204.4 405.6,205.0 405.1,205.1 404.4,199.9 404.2,200.0 403.7,200.6 403.0,196.6 402.8,197.3 402.3,195.9 401.6,191.0 401.4,191.6 400.9,186.7 400.2,184.6 400.0,184.3 399.5,177.9 398.8,173.5 398.6,172.8 398.1,169.5 397.4,163.6 397.2,163.2 396.7,157.5 396.0,154.0 395.8,158.2 395.3,153.0 394.6,149.6 394.4,151.9 393.9,148.1 393.2,145.0 393.0,144.6 392.5,145.3 392.1,146.3 391.8,148.4 391.1,149.3 390.4,154.6 390.2,153.1 389.7,157.2 389.0,156.8 388.8,158.6 388.3,162.0 387.6,168.9 387.4,170.3 386.9,169.1 386.2,170.9 386.0,168.8 385.5,172.2 384.8,178.1 384.6,179.8 384.1,178.1 383.4,177.3 383.2,178.3 382.7,178.0 382.0,183.0 381.8,179.9 381.3,180.4 380.6,180.3 380.4,180.0 379.9,180.4 379.2,178.8 379.0,180.2 378.5,179.9 377.8,179.8 377.6,180.1 377.1,176.7 376.4,182.3 376.2,180.9 375.7,178.3 375.0,178.8 374.8,178.1 374.3,178.2 373.6,178.5 373.4,178.0 372.9,174.2 372.5,175.0 372.2,172.6 371.5,172.8 370.8,174.6 370.6,173.7 370.1,178.6 369.4,184.0 369.2,182.4 368.7,181.7 368.0,183.2 367.8,183.0 367.3,185.5 366.6,188.3 366.4,190.3 365.9,188.6 365.2,188.9 365.0,188.2 364.5,190.4 363.8,193.8 363.6,196.3 363.1,194.3 362.4,197.0 362.2,197.0 361.7,196.2 361.0,202.6 360.8,204.0 360.3,204.6 359.6,202.2 359.4,203.0 358.9,205.4 358.2,205.9 358.0,205.1 357.5,206.0 356.8,205.3 356.6,206.1 356.1,206.1 355.4,206.0 355.2,207.4 354.7,206.3 354.0,207.6 353.8,203.2 353.3,202.4 352.6,202.8 352.4,204.2 351.9,200.9 351.2,197.3 351.0,194.7 350.5,194.9 349.8,192.0 349.6,189.2 349.1,185.5 348.4,185.3 348.2,183.2 347.7,181.5 347.0,176.8 346.8,178.9 346.3,173.4 345.6,169.5 345.4,167.1 344.9,164.6 344.2,159.4 344.0,160.1 343.5,157.1 342.8,157.2 342.2,161.3 342.1,161.2 341.4,163.7 341.2,164.7 340.7,170.4 340.0,177.4 339.8,179.0 339.3,181.3 338.6,186.0 338.4,185.0 337.9,189.1 337.2,193.2 337.0,193.8 336.5,193.9 335.8,193.5 335.6,192.8 335.1,194.0 334.4,196.7 334.2,195.2 333.7,198.4 333.0,201.3 332.8,201.9 332.3,199.1 331.6,198.3 331.4,200.0 330.9,201.4 330.2,199.7 330.0,200.1 329.5,198.6 328.8,197.6 328.6,198.3 328.1,193.1 327.4,194.8 327.2,195.8 326.7,193.8 326.0,192.0 325.8,194.2 325.3,191.3 324.6,190.0 324.4,188.5 323.9,190.3 323.2,189.9 323.0,189.9 322.5,185.9 321.8,182.8 321.6,184.7 321.1,181.6 320.4,180.8 320.2,181.3 319.7,180.7 319.0,175.4 318.8,175.5 318.3,175.6 317.6,174.3 317.4,174.3 316.9,171.8 316.2,168.0 316.0,168.6 315.5,163.1 315.0,163.9 314.8,159.9 314.1,157.1 313.4,159.8 313.2,159.0 312.7,159.7 312.0,158.7 311.8,161.1 311.3,161.6 310.6,160.8 310.4,158.8 309.9,157.8 309.5,157.4 309.2,159.3 308.5,161.8 307.8,168.1 307.6,167.6 307.1,167.9 306.4,170.3 306.2,170.1 305.7,171.5 305.0,178.0 304.8,177.9 304.3,175.2 303.6,179.1 303.4,180.2 302.9,178.1 302.2,180.7 302.0,179.6 301.5,179.2 300.8,179.1 300.6,181.8 300.1,179.4 299.4,180.0 299.2,179.3 298.7,179.1 298.0,176.5 297.8,176.0 297.3,175.4 296.6,175.7 296.4,176.1 295.9,174.4 295.2,169.9 295.0,170.9 294.5,171.0 294.0,170.2 293.8,170.5 293.1,168.7 292.4,169.6 292.2,169.8 291.7,169.9 291.0,170.0 290.8,170.7 290.3,170.6 289.6,172.3 289.4,171.4 288.9,173.2 288.2,175.8 288.0,176.6 287.5,178.9 286.8,179.4 286.6,179.1 286.1,183.7 285.4,188.7 285.2,189.0 284.7,191.5 284.0,194.6 283.8,194.6 283.3,197.3 282.6,199.3 282.4,198.4 281.9,199.7 281.2,204.8 281.0,207.2 280.5,205.7 279.8,206.6 279.6,207.8 279.1,206.6 278.4,207.7 278.2,204.6 277.7,206.2 277.0,206.4 276.8,206.3 276.3,200.1 275.6,200.9 275.4,203.5 274.9,205.5 274.2,203.5 274.0,204.9 273.5,205.2 272.8,205.4 272.6,206.9 272.1,209.2 271.4,205.1 271.2,207.2 270.7,205.7 270.0,206.8 269.8,208.8 269.3,206.8 268.6,208.1 268.4,206.5 267.9,206.8 267.2,209.2 267.0,201.4 266.5,192.5 266.3,193.5 265.8,189.8 265.6,190.8 265.1,192.0 264.4,189.1 264.2,191.0 263.7,192.1 263.0,191.0 262.8,191.4 262.3,193.7 261.6,193.3 261.4,191.9 260.9,193.1 260.2,190.2 260.0,192.3 259.5,194.2 258.8,194.6 258.6,191.8 258.1,193.2 257.4,193.8 257.2,195.0 256.7,194.8 256.0,197.8 255.8,197.1 255.3,198.6 254.6,197.1 254.4,198.5 253.9,196.9 253.2,194.0 253.0,196.9 252.5,198.6 251.8,196.7 251.6,198.1 251.1,199.0 250.4,196.9 250.2,199.0 249.7,199.0 249.0,200.1 248.8,194.5 248.3,195.8 247.6,195.3 247.4,193.1 246.9,197.5 246.2,195.0 245.7,196.5 245.5,194.0 244.8,194.7 244.6,195.0 244.1,196.1 243.4,196.5 243.2,197.6 242.7,199.2 242.0,199.5 241.8,199.0 241.3,199.5 240.6,199.4 240.4,194.6 239.9,188.1 239.2,188.4 239.0,184.9 238.5,184.0 237.8,181.8 237.1,166.1 237.1,166.7 236.4,176.3 236.2,186.5 235.7,191.0 235.0,189.1 234.8,189.6 234.3,187.9 233.6,194.0 233.4,196.9 232.9,200.4 232.2,198.7 232.0,199.8 231.5,197.2 230.8,199.4 230.6,194.0 230.1,194.9 229.4,194.2 229.2,195.1 228.7,197.4 228.0,195.1 227.8,197.8 227.3,196.8 226.6,196.9 226.4,198.2 225.9,199.6 225.2,197.9 225.0,198.0 224.5,201.9 223.8,199.6 223.6,198.9 223.1,200.1 222.4,201.4 222.2,199.3 221.7,198.7 221.0,200.9 220.8,200.4 220.3,200.6 219.6,199.6 219.4,199.6 218.9,200.0 218.2,198.5 218.0,199.3 217.5,197.5 216.8,198.0 216.6,198.8 216.1,201.0 215.4,201.3 215.2,199.4 214.7,200.3 214.0,201.0 213.8,199.8 213.3,198.9 212.6,197.0 212.4,196.8 211.9,199.9 211.2,198.6 211.0,197.9 210.5,198.7 209.8,197.5 209.6,195.5 209.1,198.7 208.4,197.5 208.2,194.5 207.7,190.4 207.0,192.9 206.8,195.9 206.3,193.2 205.6,194.3 205.4,195.4 204.9,197.1 204.2,195.6 204.0,194.7 203.5,195.3 202.8,196.0 202.6,194.3 202.1,194.6 201.9,192.5 201.4,193.5 201.2,192.9 200.7,193.8 200.0,190.7 199.8,194.5 199.3,196.6 198.6,197.0 198.4,194.0 197.9,197.3 197.2,194.2 197.0,196.3 196.5,196.1 195.8,196.3 195.6,194.2 195.1,196.2 194.4,193.7 194.2,197.8 193.7,199.2 193.0,198.2 192.8,196.8 192.3,200.6 191.6,201.2 191.4,204.2 190.9,207.0 190.2,206.5 190.0,206.9 189.5,206.8 188.8,207.8 188.6,205.8 188.1,199.5 187.4,200.2 187.2,201.5 186.7,200.4 186.0,201.0 185.8,197.9 185.3,193.5 185.0,195.2 184.6,193.1 183.9,195.9 183.2,199.7 183.0,203.0 182.5,204.5 181.8,204.2 181.6,203.4 181.1,204.8 180.4,205.4 180.2,202.7 179.7,204.8 179.0,201.3 178.8,198.7 178.3,191.9 177.7,188.7 177.6,189.8 176.9,191.1 176.2,192.7 176.0,198.4 175.5,199.8 174.8,201.6 174.6,201.8 174.1,200.3 173.4,202.2 173.2,199.1 172.7,195.2 172.0,193.2 171.8,194.0 171.3,191.7 170.6,194.2 170.4,197.3 169.9,198.6 169.2,200.2 169.0,200.4 168.5,199.8 167.8,198.0 167.6,202.0 167.1,204.1 166.4,203.9 166.2,202.6 165.7,201.9 165.0,200.6 164.8,205.4 164.3,206.1 163.6,206.7 163.4,206.8 162.9,206.6 162.2,205.5 162.0,206.1 161.5,207.0 160.8,206.9 160.6,206.9 160.1,207.1 159.4,206.6 159.2,205.3 158.7,207.7 158.0,205.8 157.8,208.7 157.3,207.1 156.6,207.6 156.4,206.4 155.9,207.2 155.2,208.2 155.0,207.8 154.5,207.0 153.8,208.3 153.6,208.7 153.1,207.5 152.4,208.5 152.2,206.6 151.7,207.0 151.0,209.9 150.8,210.4 150.3,208.2 149.6,209.0 149.4,204.6 148.9,207.9 148.2,205.7 148.0,206.7 147.5,206.0 146.8,207.0 146.6,205.4 146.1,207.2 145.4,206.7 145.2,205.5 144.7,204.4 144.0,205.5 143.8,203.8 143.3,206.6 142.6,206.1 142.4,205.6 141.9,205.8 141.2,205.6 141.0,201.8 140.5,201.7 139.8,202.8 139.6,204.5 139.1,204.6 138.4,204.0 138.2,202.4 137.7,205.0 137.0,202.9 136.8,203.4 136.3,202.9 135.6,202.6 135.4,200.6 134.9,201.7 134.2,202.5 134.0,203.6 133.5,203.4 132.8,202.2 132.6,198.1 132.1,199.9 131.4,201.6 131.2,203.6 130.7,202.4 130.0,201.8 129.8,201.3 129.3,203.5 128.6,202.9 128.4,200.1 127.9,203.6 127.2,202.3 127.0,201.6 126.5,201.2 125.8,201.8 125.6,199.5 125.1,200.8 124.4,200.0 124.2,200.5 123.7,200.3 123.0,201.2 122.8,200.3 122.3,200.7 121.6,200.3 121.4,200.1 120.9,201.4 120.2,201.9 120.0,202.9 119.5,201.6 118.8,199.7 118.6,204.0 118.1,201.8 117.4,201.0 117.2,202.7 116.7,204.1 116.0,202.7 115.8,201.5 115.3,201.4 114.6,202.1 114.4,205.1 113.9,201.5 113.2,201.9 113.0,203.8 112.5,201.9 111.8,202.8 111.6,205.8 111.1,205.4 110.4,203.0 110.2,206.4 109.7,206.2 109.0,208.1 108.8,207.7 108.3,207.7 107.6,208.8 107.4,206.7 106.9,207.8 106.2,206.0 106.0,207.0 105.5,208.7 104.8,208.2 104.6,207.5 104.1,207.4 103.4,204.9 103.2,203.9 102.7,201.9 102.0,201.0 101.8,202.1 101.3,198.2 100.6,202.3 100.4,202.3 99.9,204.3 99.2,202.3 99.0,205.9 98.5,205.6 97.8,202.3 97.6,202.2 97.1,200.2 96.4,197.5 96.2,198.0 95.7,198.4 95.0,197.6 94.8,199.9 94.3,202.0 93.6,200.6 93.4,200.6 92.9,200.9 92.2,200.1 92.0,199.9 91.5,196.3 90.8,200.4 90.6,204.7 90.1,204.7 89.4,204.9 89.2,204.9 88.7,206.4 88.0,206.4 87.8,206.3 87.3,206.8 86.6,206.9 86.4,204.5 85.9,208.1 85.2,204.8 85.0,206.0 85.0,205.0 84.5,205.6 84.1,207.5 83.8,207.4 83.2,203.9 83.1,205.2 82.4,205.4 82.3,204.2 81.7,200.9 81.4,201.1 81.0,200.9 80.5,198.7 80.3,198.6 79.8,187.8 79.6,188.3 78.9,187.2 78.3,187.2 78.2,186.0 77.5,182.0 77.1,179.7 76.8,181.9 76.1,168.0 75.6,166.2 75.4,165.4 74.7,179.6 74.6,179.8 74.0,177.4 73.4,171.2 73.3,172.7 72.6,184.3 71.9,198.5 71.9,196.1 71.2,191.2 70.6,186.9 70.5,186.6 69.8,193.2 69.7,195.6 69.1,196.9 69.0,196.9 68.4,181.8 67.8,168.2 67.7,167.3 67.0,180.8 67.0,180.6 66.3,196.5 65.7,210.0 65.6,210.5 64.9,193.6 64.4,190.4 64.2,186.5 63.5,213.7 63.2,215.5 62.8,204.4 62.1,185.3 62.0,186.0 61.4,190.8 60.7,201.1" fill="#b8b8b8"/>
<polyline points="60.7,195.3 62.0,177.7 63.2,207.5 64.4,176.4 65.7,203.9 67.0,173.8 67.8,160.1 69.0,190.7 69.7,189.2 70.6,180.6 71.9,190.3 73.4,165.1 74.6,173.7 75.6,156.4 77.1,174.5 78.3,180.6 79.8,181.2 80.5,188.2 81.4,192.0 82.3,193.8 83.2,199.9 84.1,192.1 85.0,198.4 85.0,194.3 86.4,200.7 87.8,193.8 89.2,199.6 90.6,192.0 92.0,188.2 93.4,195.4 94.8,190.4 96.2,193.1 97.6,189.7 99.0,197.8 100.4,188.9 101.8,195.4 103.2,188.9 104.6,201.4 106.0,191.9 107.4,200.8 108.8,201.9 110.2,193.4 111.6,198.3 113.0,192.0 114.4,196.5 115.8,191.0 117.2,196.3 118.6,193.4 120.0,195.6 121.4,191.3 122.8,194.0 124.2,187.0 125.6,193.8 127.0,190.2 128.4,197.3 129.8,189.6 131.2,195.5 132.6,189.1 134.0,196.3 135.4,189.3 136.8,196.7 138.2,192.7 139.6,197.4 141.0,193.6 142.4,199.1 143.8,195.1 145.2,194.4 146.6,200.8 148.0,199.5 149.4,194.0 150.8,202.5 152.2,195.0 153.6,202.1 155.0,201.2 156.4,193.2 157.8,201.1 159.2,191.6 160.6,200.0 162.0,195.0 163.4,199.6 164.8,194.5 166.2,196.7 167.6,189.8 169.0,193.1 170.4,186.4 171.8,186.5 173.2,184.1 174.6,194.8 176.0,182.2 177.7,182.6 178.8,182.8 180.2,195.8 181.6,197.9 183.0,188.7 185.0,186.6 185.8,186.5 187.2,193.6 188.6,192.3 190.0,200.8 191.4,188.7 192.8,193.1 194.2,188.0 195.6,189.3 197.0,182.0 198.4,188.8 199.8,178.3 201.2,185.2 201.9,181.7 202.6,188.5 204.0,183.4 205.4,189.7 206.8,186.1 208.2,185.0 209.6,191.7 211.0,187.6 212.4,191.5 213.8,187.1 215.2,194.4 216.6,189.4 218.0,192.4 219.4,188.8 220.8,193.0 222.2,188.1 223.6,193.1 225.0,186.6 226.4,192.3 227.8,186.2 229.2,189.5 230.6,184.1 232.0,191.8 233.4,183.9 234.8,183.4 236.2,161.2 237.1,144.3 239.0,175.6 240.4,180.3 241.8,193.4 243.2,182.5 244.6,187.8 245.7,181.5 247.4,188.1 248.8,183.8 250.2,191.5 251.6,185.1 253.0,190.2 254.4,187.9 255.8,191.4 257.2,185.7 258.6,187.5 260.0,183.4 261.4,186.1 262.8,181.5 264.2,184.9 265.6,179.0 266.3,178.9 267.0,184.1 268.4,202.0 269.8,198.6 271.2,201.4 272.6,196.7 274.0,198.4 275.4,193.1 276.8,195.5 278.2,200.4 279.6,200.3 281.0,192.2 282.4,188.4 283.8,183.0 285.2,173.4 286.6,170.0 288.0,163.7 289.4,165.1 290.8,160.6 292.2,161.8 294.0,159.0 295.0,163.7 296.4,164.0 297.8,168.6 299.2,169.5 300.6,174.3 302.0,172.0 303.4,171.3 304.8,163.8 306.2,161.2 307.6,152.7 309.5,145.8 310.4,146.0 311.8,152.9 313.2,150.7 315.0,149.4 316.0,153.7 317.4,159.6 318.8,168.2 320.2,168.2 321.6,174.6 323.0,176.1 324.4,182.3 325.8,182.5 327.2,187.3 328.6,187.9 330.0,190.4 331.4,193.8 332.8,189.7 334.2,184.7 335.6,186.3 337.0,180.0 338.4,170.7 339.8,157.8 341.2,151.2 342.2,143.3 344.0,149.6 345.4,152.3 346.8,160.8 348.2,171.6 349.6,175.4 351.0,184.1 352.4,189.5 353.8,195.8 355.2,198.8 356.6,199.9 358.0,196.5 359.4,196.1 360.8,189.2 362.2,188.3 363.6,182.0 365.0,182.3 366.4,176.6 367.8,176.0 369.2,168.2 370.6,166.2 372.5,163.1 373.4,165.1 374.8,170.3 376.2,171.7 377.6,173.3 379.0,170.6 380.4,174.1 381.8,172.3 383.2,171.7 384.6,163.9 386.0,163.2 387.4,152.2 388.8,147.8 390.2,138.8 392.1,134.9 393.0,137.4 394.4,137.5 395.8,143.6 397.2,147.4 398.6,156.3 400.0,164.0 401.4,176.9 402.8,183.7 404.2,192.3 405.6,192.9 407.0,197.4 408.4,196.3 409.8,195.8 411.2,198.9 412.6,196.8 414.0,201.5 415.4,201.0 416.8,198.9 418.2,200.8 419.6,197.3 421.0,199.5 422.4,199.6 423.8,199.0 425.2,196.5 426.6,199.3 428.0,197.3 429.4,199.2 430.8,196.5 432.2,199.1 433.6,195.9 435.0,199.0 436.4,197.2 437.8,198.4 439.2,195.4 440.6,199.3 442.0,196.6 443.4,198.0 444.8,196.1 446.2,198.1 447.6,195.8 449.0,197.5 450.4,195.4 451.8,198.3 453.2,197.6 454.6,194.7 456.0,196.5 457.4,197.9 458.8,196.1 460.2,194.9 461.6,196.4 463.0,193.1 464.4,196.6 465.8,193.1 467.2,195.8 468.6,194.7 470.0,196.6" fill="none" stroke="#8ee88e" stroke-width="1.5" stroke-linejoin="round"/>
<polygon points="60.5,249.8 61.2,233.4 61.5,230.9 61.9,239.5 62.6,249.8 62.6,246.7 63.3,250.5 63.4,252.6 64.0,243.9 64.5,233.2 64.7,230.4 65.4,240.4 65.8,244.9 66.1,244.9 66.8,232.2 66.8,235.0 67.5,222.2 67.9,215.0 68.2,217.2 68.6,225.2 68.9,229.1 69.3,240.4 69.6,239.4 70.3,239.9 70.7,238.3 71.0,240.2 71.7,237.1 71.9,235.0 72.4,231.2 73.1,225.7 73.5,222.2 73.8,220.4 74.5,217.2 75.2,209.9 75.3,208.5 75.9,220.7 76.4,229.4 76.6,228.7 77.3,232.6 77.3,232.6 78.0,239.6 78.3,240.1 78.7,239.8 79.4,240.0 79.6,237.4 80.1,238.2 80.3,236.7 80.8,238.3 81.2,239.0 81.5,238.4 82.1,242.0 82.2,242.3 82.9,244.5 83.0,244.6 83.6,249.5 83.9,246.3 84.3,246.3 84.8,244.2 85.0,245.6 85.0,246.2 85.7,243.5 86.4,242.4 86.4,242.6 87.1,244.5 87.8,246.8 87.8,245.8 88.5,249.7 89.2,250.7 89.2,248.9 89.9,247.6 90.6,246.9 90.6,246.2 91.3,247.7 92.0,247.5 92.0,247.1 92.7,243.1 93.4,243.8 93.4,243.1 94.1,244.3 94.8,243.2 94.8,244.6 95.5,244.9 96.2,246.0 96.2,246.1 96.9,244.8 97.6,244.5 97.6,243.5 98.3,245.3 99.0,247.6 99.0,245.2 99.7,241.5 100.4,242.4 100.4,244.9 101.1,243.1 101.8,243.6 101.8,243.9 102.5,241.6 103.2,242.7 103.2,246.7 103.9,243.0 104.6,244.8 104.6,245.0 105.3,246.3 106.0,248.3 106.0,247.3 106.7,248.2 107.4,247.6 107.4,248.1 108.1,245.8 108.8,247.6 108.8,248.1 109.5,245.1 110.2,248.7 110.2,249.6 110.9,250.4 111.6,251.9 111.6,249.3 112.3,251.1 113.0,250.3 113.0,249.9 113.7,249.9 114.4,252.7 114.4,250.3 115.1,249.6 115.8,250.2 115.8,249.6 116.5,250.8 117.2,248.6 117.2,250.4 117.9,248.1 118.6,247.1 118.6,247.1 119.3,246.5 120.0,245.8 120.0,244.6 120.7,246.7 121.4,247.0 121.4,244.9 122.1,243.7 122.8,243.7 122.8,245.0 123.5,243.5 124.2,243.5 124.2,241.2 124.9,243.4 125.6,245.3 125.6,247.0 126.3,242.2 127.0,243.4 127.0,243.6 127.7,243.6 128.4,245.5 128.4,242.4 129.1,244.0 129.8,243.9 129.8,245.5 130.5,246.2 131.2,249.7 131.2,247.9 131.9,246.4 132.6,246.3 132.6,248.2 133.3,245.9 134.0,248.8 134.0,246.9 134.7,248.2 135.4,247.9 135.4,248.7 136.1,248.7 136.8,248.9 136.8,248.3 137.5,249.2 138.2,249.1 138.2,249.7 138.9,245.9 139.6,244.9 139.6,246.9 140.3,246.8 141.0,247.9 141.0,247.1 141.7,243.8 142.4,245.9 142.4,244.3 143.1,243.2 143.8,246.1 143.8,247.7 144.5,249.0 145.2,247.4 145.2,245.9 145.9,246.5 146.6,246.7 146.6,248.7 147.3,245.9 148.0,246.8 148.0,245.3 148.7,246.1 149.4,247.9 149.4,247.4 150.1,247.5 150.8,247.4 150.8,247.5 151.5,244.2 152.2,245.9 152.2,247.8 152.9,245.6 153.6,250.3 153.6,250.5 154.3,246.5 155.0,248.0 155.0,247.3 155.7,247.9 156.4,249.8 156.4,251.5 157.1,246.1 157.8,245.8 157.8,247.4 158.5,245.7 159.2,248.5 159.2,248.1 159.9,245.5 160.6,248.4 160.6,246.2 161.3,247.3 162.0,248.2 162.0,249.3 162.7,244.8 163.4,245.2 163.4,247.1 164.1,246.6 164.8,248.4 164.8,248.4 165.5,248.8 166.2,248.4 166.2,248.9 166.9,243.6 167.6,244.4 167.6,245.3 168.3,245.6 169.0,247.1 169.0,245.8 169.7,248.1 170.4,245.9 170.4,245.8 171.1,244.3 171.8,242.4 171.8,242.7 172.5,243.3 173.2,245.2 173.2,245.1 173.9,243.6 174.6,244.2 174.6,242.0 175.3,239.6 176.0,237.3 176.0,235.2 176.7,234.8 177.3,233.4 177.4,232.8 178.1,233.5 178.8,239.0 178.8,237.5 179.5,242.1 180.2,246.1 180.2,241.0 180.9,244.8 181.6,246.1 181.6,244.2 182.3,246.0 183.0,247.2 183.0,246.4 183.7,244.6 184.4,245.2 184.4,247.6 185.1,244.8 185.8,247.9 185.8,248.0 186.5,248.0 187.2,245.6 187.2,249.3 187.9,247.7 188.6,251.3 188.6,251.4 189.3,248.3 190.0,246.9 190.0,247.6 190.7,247.6 191.4,246.3 191.4,247.1 192.1,248.1 192.8,246.5 192.8,245.8 193.5,243.0 194.2,243.7 194.2,243.6 194.9,244.0 195.6,243.9 195.6,244.3 196.3,241.9 197.0,239.1 197.0,239.9 197.7,239.5 198.4,242.2 198.4,242.5 199.1,239.4 199.8,240.7 199.8,239.0 200.5,240.2 201.2,240.6 201.2,242.3 201.9,237.5 202.6,239.3 202.6,238.8 203.3,240.3 204.0,242.5 204.0,241.0 204.7,244.9 205.4,241.7 205.4,243.7 206.1,242.0 206.8,244.1 206.8,243.4 207.5,243.6 208.2,244.0 208.2,245.9 208.9,245.7 209.6,245.3 209.6,244.8 210.3,244.9 211.0,243.9 211.0,244.8 211.7,244.4 212.4,245.3 212.4,245.1 213.1,245.8 213.8,245.0 213.8,244.9 214.5,245.9 215.2,246.8 215.2,247.6 215.9,247.4 216.6,247.6 216.6,244.9 217.3,247.1 218.0,244.3 218.0,244.2 218.7,245.6 219.4,248.5 219.4,246.4 220.1,245.9 220.8,243.4 220.8,244.4 221.5,244.6 222.2,245.0 222.2,244.3 222.9,243.9 223.6,241.2 223.6,241.4 224.3,240.3 225.0,237.4 225.0,236.9 225.7,236.3 226.4,237.4 226.4,236.8 227.1,238.7 227.8,239.1 227.8,239.1 228.5,239.5 229.2,238.6 229.2,240.4 229.9,240.8 230.6,244.1 230.6,243.2 231.3,242.3 232.0,239.5 232.0,240.6 232.7,239.4 233.4,234.4 233.4,235.4 234.1,231.0 234.8,223.2 234.8,223.8 235.5,217.4 236.2,201.5 236.2,202.5 236.9,202.6 237.1,202.0 237.6,201.6 238.3,201.1 239.0,221.1 239.0,221.4 239.7,229.4 240.4,234.6 240.4,234.4 241.1,240.2 241.8,241.7 241.8,238.7 242.5,239.1 243.2,243.3 243.2,242.2 243.9,242.0 244.6,240.5 244.6,241.9 245.3,242.6 246.0,245.6 246.0,245.8 246.7,244.9 247.4,245.6 247.4,244.1 248.1,244.7 248.8,247.2 248.8,248.0 249.5,246.6 250.2,247.1 250.2,246.3 250.9,247.8 251.6,247.5 251.6,248.4 252.3,245.3 253.0,247.9 253.0,244.9 253.7,243.5 254.4,246.7 254.4,244.4 255.1,245.4 255.8,249.5 255.8,248.8 256.5,245.3 257.2,246.0 257.2,245.3 257.9,245.7 258.6,241.9 258.6,243.7 259.3,241.9 260.0,241.5 260.0,240.8 260.7,241.7 261.4,239.0 261.4,239.2 262.1,237.1 262.8,236.5 262.8,236.9 263.5,235.1 264.2,234.4 264.2,233.7 264.9,234.4 265.6,231.1 265.6,231.6 266.3,231.5 267.0,220.9 267.0,224.6 267.7,215.9 268.4,211.2 268.4,210.8 269.1,207.7 269.8,203.0 269.8,199.5 270.5,193.2 271.2,183.0 271.2,183.9 271.9,172.1 272.6,167.7 272.6,168.6 273.3,170.7 274.0,184.5 274.0,186.3 274.7,193.6 275.4,200.7 275.4,200.6 276.1,209.3 276.8,214.8 276.8,215.7 277.5,221.3 278.2,226.1 278.2,227.4 278.9,231.9 279.6,238.0 279.6,237.6 280.3,237.9 281.0,235.1 281.0,236.2 281.7,235.5 282.4,232.9 282.4,231.7 283.1,231.9 283.1,233.3 283.8,231.7 283.8,232.0 284.5,228.1 285.2,228.0 285.2,227.3 285.9,226.5 286.6,226.4 286.6,224.9 287.3,224.5 287.6,222.5 288.0,225.2 288.7,223.4 289.4,224.0 289.4,224.4 290.1,223.6 290.8,225.5 290.8,224.4 291.5,228.4 292.0,226.0 292.2,226.6 292.9,224.0 293.6,225.8 293.6,225.3 294.3,230.5 295.0,228.0 295.0,228.8 295.7,226.2 296.4,226.7 296.4,227.6 297.1,229.2 297.8,229.5 297.8,229.7 298.5,228.5 299.0,227.2 299.2,227.9 299.9,227.2 300.6,223.2 300.6,225.5 301.3,225.4 302.0,221.6 302.0,224.0 302.7,222.3 303.4,221.8 303.4,221.5 304.1,218.5 304.1,220.3 304.8,218.0 304.8,220.4 305.5,215.4 306.2,213.2 306.2,213.8 306.9,214.7 307.6,210.6 307.6,211.9 308.3,211.4 309.0,209.4 309.0,211.5 309.7,209.0 310.4,209.7 310.4,210.0 311.1,210.0 311.8,211.5 311.8,211.0 312.5,211.5 313.2,213.4 313.2,211.4 313.9,212.1 314.6,211.5 315.0,214.8 315.3,212.7 316.0,217.1 316.0,217.4 316.7,218.8 317.4,218.5 317.4,219.6 318.1,224.1 318.8,227.8 318.8,227.8 319.5,229.9 320.2,232.3 320.2,233.0 320.9,234.5 321.0,236.9 321.6,236.1 322.3,241.3 323.0,239.8 323.0,239.6 323.7,240.8 324.4,240.9 324.4,239.1 325.1,242.9 325.8,244.2 325.8,242.1 326.5,244.2 327.2,243.8 327.2,244.3 327.9,246.2 328.6,247.4 328.7,248.9 329.3,246.2 330.0,247.6 330.0,247.5 330.7,247.5 331.4,250.1 331.4,252.3 332.1,248.8 332.8,245.3 332.8,247.8 333.5,246.0 334.2,247.0 334.2,248.3 334.9,244.4 335.6,243.9 335.6,240.1 336.3,238.9 337.0,233.8 337.0,234.2 337.7,228.3 338.4,219.4 338.4,217.7 339.1,210.0 339.8,208.6 339.8,208.9 340.5,205.5 340.9,205.1 341.2,204.4 341.9,209.2 342.6,211.0 342.6,209.3 343.3,214.7 344.0,219.3 344.0,218.5 344.7,223.5 345.4,226.6 345.4,225.7 346.1,227.7 346.8,230.2 346.8,227.9 347.5,231.0 348.2,230.7 348.2,230.9 348.9,234.8 349.6,237.2 349.6,239.3 350.3,235.8 351.0,228.8 351.0,228.0 351.7,220.9 352.4,217.0 352.4,217.2 353.1,209.5 353.8,201.0 353.8,199.9 354.5,184.1 355.2,177.7 355.2,179.9 355.9,172.0 356.2,172.6 356.6,174.3 357.3,180.0 358.0,181.6 358.0,184.0 358.7,197.2 359.4,208.7 359.4,207.7 360.1,213.4 360.8,219.0 360.8,218.5 361.5,224.6 362.2,230.9 362.2,232.4 362.9,236.5 363.6,237.9 363.6,238.4 364.3,242.6 365.0,242.8 365.0,241.7 365.7,240.1 366.4,240.1 366.4,240.9 367.1,239.7 367.8,235.8 367.8,235.6 368.5,235.1 369.2,230.8 369.2,229.8 369.9,229.7 370.6,225.0 370.6,225.9 371.3,223.7 372.0,222.9 372.0,223.2 372.7,220.9 372.8,220.9 373.4,222.6 374.1,222.1 374.8,224.5 374.8,223.8 375.5,224.4 376.2,225.8 376.2,228.0 376.9,227.5 377.1,229.6 377.6,230.2 378.3,231.0 379.0,234.9 379.0,234.4 379.7,233.7 380.4,235.3 380.4,237.9 381.1,234.2 381.8,232.0 381.8,232.6 382.5,228.8 383.2,227.4 383.2,226.6 383.9,223.1 384.6,217.3 384.6,219.0 385.3,216.1 386.0,211.8 386.0,211.5 386.6,209.8 386.7,210.8 387.4,208.2 387.4,209.5 388.1,205.2 388.8,202.9 388.8,201.7 389.5,199.9 389.8,202.7 390.2,198.2 390.9,198.3 391.6,197.2 391.6,195.7 392.3,198.0 393.0,198.4 393.0,199.4 393.7,198.5 394.4,196.4 394.4,198.1 395.1,199.3 395.8,198.6 396.2,200.1 396.5,202.1 397.2,205.5 397.2,204.2 397.9,208.0 398.6,211.5 398.6,211.1 399.3,218.4 399.4,216.9 400.0,224.5 400.0,223.8 400.7,226.9 401.4,230.3 401.4,230.7 402.1,236.1 402.8,243.1 402.8,242.6 403.5,245.7 404.2,247.9 404.2,245.4 404.9,250.1 405.6,247.0 405.6,249.1 406.3,247.6 407.0,249.7 407.0,247.8 407.7,249.5 408.4,252.8 408.4,251.2 409.1,249.8 409.8,249.4 409.8,250.2 410.5,251.4 411.2,250.8 411.2,252.1 411.9,251.8 412.6,249.6 412.6,249.9 413.3,249.1 414.0,249.7 414.0,249.2 414.7,250.0 415.4,249.2 415.4,247.2 416.1,251.9 416.8,250.7 416.8,251.4 417.5,250.3 418.2,249.7 418.2,251.1 418.9,250.1 419.6,250.0 419.6,250.3 420.3,249.9 421.0,248.7 421.0,249.6 421.7,251.0 422.4,250.4 422.4,248.5 423.1,251.4 423.8,249.1 423.8,251.0 424.5,252.0 425.2,251.0 425.2,249.9 425.9,250.5 426.6,249.8 426.6,249.9 427.3,250.1 428.0,250.2 428.0,249.7 428.7,251.8 429.4,248.2 429.4,248.4 430.1,248.6 430.8,247.7 430.8,249.3 431.5,248.7 432.2,251.5 432.2,248.5 432.9,250.0 433.6,248.9 433.6,248.6 434.3,249.7 435.0,250.5 435.0,248.7 435.7,248.2 436.4,248.1 436.4,249.7 437.1,249.8 437.8,248.1 437.8,249.0 438.5,250.2 439.2,247.4 439.2,247.4 439.9,247.1 440.6,248.8 440.6,247.9 441.3,249.8 442.0,250.1 442.0,248.0 442.7,250.5 443.4,248.7 443.4,245.8 444.1,247.1 444.8,247.6 444.8,247.7 445.5,248.6 446.2,249.0 446.2,246.2 446.9,248.6 447.6,249.0 447.6,247.7 448.3,248.5 449.0,246.2 449.0,248.3 449.7,248.5 450.4,248.0 450.4,245.9 451.1,246.6 451.8,247.3 451.8,247.5 452.5,248.1 453.2,249.6 453.2,248.0 453.9,249.0 454.6,248.0 454.6,248.2 455.3,247.9 456.0,248.8 456.0,247.2 456.7,247.9 457.4,249.1 457.4,247.8 458.1,248.7 458.8,247.9 458.8,247.4 459.5,248.8 460.2,247.6 460.2,247.5 460.9,247.5 461.6,245.4 461.6,247.2 462.3,248.8 463.0,247.5 463.0,248.2 463.7,245.7 464.4,249.0 464.4,249.5 465.1,247.6 465.8,248.9 465.8,248.8 466.5,249.0 467.2,249.5 467.2,249.2 467.9,251.1 468.6,248.8 468.6,247.9 469.3,246.6 470.0,248.6 470.0,247.7 470.0,263.0 470.0,260.9 469.3,259.7 468.6,259.9 468.6,262.5 467.9,262.6 467.2,259.7 467.2,263.3 466.5,261.1 465.8,260.0 465.8,261.5 465.1,261.3 464.4,260.9 464.4,261.3 463.7,261.2 463.0,262.9 463.0,261.4 462.3,260.4 461.6,261.9 461.6,261.5 460.9,260.1 460.2,260.9 460.2,259.4 459.5,260.2 458.8,261.8 458.8,260.2 458.1,258.7 457.4,261.1 457.4,260.9 456.7,261.7 456.0,260.4 456.0,260.5 455.3,259.5 454.6,264.0 454.6,260.2 453.9,261.4 453.2,261.9 453.2,262.7 452.5,261.3 451.8,261.2 451.8,261.0 451.1,257.8 450.4,260.5 450.4,261.2 449.7,260.9 449.0,262.0 449.0,260.9 448.3,262.5 447.6,261.5 447.6,259.6 446.9,260.4 446.2,258.9 446.2,260.5 445.5,259.1 444.8,261.1 444.8,261.8 444.1,262.2 443.4,262.5 443.4,262.8 442.7,262.4 442.0,261.4 442.0,260.6 441.3,261.0 440.6,260.2 440.6,260.8 439.9,260.8 439.2,261.6 439.2,259.2 438.5,261.5 437.8,262.3 437.8,260.0 437.1,262.4 436.4,261.0 436.4,262.6 435.7,261.7 435.0,260.3 435.0,260.7 434.3,262.6 433.6,261.9 433.6,260.8 432.9,260.4 432.2,260.8 432.2,261.9 431.5,261.0 430.8,262.7 430.8,262.3 430.1,263.0 429.4,263.8 429.4,261.7 428.7,263.1 428.0,263.5 428.0,261.1 427.3,261.0 426.6,265.1 426.6,263.2 425.9,261.9 425.2,261.9 425.2,263.6 424.5,262.9 423.8,263.9 423.8,262.3 423.1,262.0 422.4,264.2 422.4,262.8 421.7,262.4 421.0,263.2 421.0,263.6 420.3,263.2 419.6,263.2 419.6,262.4 418.9,263.2 418.2,262.7 418.2,263.3 417.5,262.7 416.8,263.5 416.8,262.6 416.1,263.0 415.4,262.5 415.4,262.1 414.7,263.6 414.0,264.5 414.0,262.8 413.3,262.6 412.6,265.0 412.6,263.4 411.9,264.3 411.2,264.8 411.2,263.0 410.5,263.1 409.8,262.2 409.8,263.1 409.1,263.3 408.4,264.5 408.4,263.2 407.7,261.5 407.0,264.7 407.0,262.9 406.3,262.7 405.6,265.2 405.6,262.6 404.9,261.2 404.2,260.7 404.2,260.7 403.5,261.3 402.8,261.0 402.8,261.7 402.1,261.8 401.4,260.3 401.4,260.4 400.7,260.2 400.0,259.3 400.0,259.7 399.4,255.6 399.3,254.9 398.6,253.4 398.6,252.5 397.9,250.9 397.2,252.0 397.2,254.5 396.5,250.0 396.2,249.6 395.8,244.7 395.1,243.2 394.4,243.7 394.4,244.8 393.7,242.4 393.0,243.0 393.0,242.4 392.3,244.1 391.6,242.7 391.6,242.4 390.9,243.6 390.2,244.5 389.8,245.0 389.5,245.0 388.8,243.9 388.8,244.8 388.1,247.9 387.4,247.6 387.4,246.7 386.7,247.5 386.6,247.9 386.0,249.5 386.0,249.2 385.3,249.3 384.6,246.8 384.6,248.3 383.9,250.6 383.2,253.4 383.2,252.0 382.5,253.0 381.8,249.9 381.8,251.8 381.1,249.1 380.4,250.7 380.4,249.5 379.7,248.8 379.0,250.8 379.0,251.1 378.3,250.9 377.6,250.2 377.1,253.2 376.9,250.3 376.2,249.8 376.2,252.0 375.5,250.9 374.8,252.0 374.8,252.3 374.1,251.5 373.4,247.9 372.8,248.2 372.7,251.1 372.0,251.6 372.0,250.3 371.3,250.1 370.6,252.3 370.6,249.9 369.9,251.3 369.2,252.7 369.2,252.4 368.5,252.2 367.8,253.8 367.8,253.4 367.1,252.7 366.4,256.4 366.4,255.9 365.7,256.4 365.0,256.8 365.0,256.0 364.3,254.1 363.6,254.7 363.6,256.9 362.9,255.4 362.2,257.2 362.2,257.0 361.5,253.6 360.8,250.0 360.8,249.7 360.1,246.9 359.4,241.7 359.4,242.9 358.7,237.5 358.0,233.6 358.0,233.7 357.3,230.9 356.6,225.7 356.2,226.1 355.9,224.5 355.2,229.9 355.2,230.3 354.5,238.9 353.8,239.6 353.8,240.0 353.1,244.5 352.4,250.9 352.4,251.3 351.7,249.4 351.0,248.8 351.0,248.1 350.3,250.1 349.6,248.5 349.6,249.2 348.9,248.4 348.2,249.9 348.2,250.9 347.5,249.4 346.8,250.0 346.8,249.2 346.1,245.3 345.4,241.3 345.4,241.7 344.7,243.2 344.0,240.7 344.0,241.5 343.3,244.3 342.6,243.9 342.6,245.0 341.9,243.5 341.2,245.5 340.9,250.5 340.5,248.2 339.8,252.8 339.8,254.1 339.1,255.6 338.4,257.3 338.4,256.5 337.7,257.2 337.0,258.8 337.0,257.3 336.3,258.0 335.6,258.1 335.6,258.7 334.9,259.7 334.2,262.6 334.2,262.2 333.5,261.5 332.8,261.5 332.8,261.8 332.1,261.4 331.4,262.5 331.4,263.1 330.7,262.4 330.0,260.7 330.0,262.0 329.3,261.6 328.7,260.7 328.6,259.5 327.9,260.1 327.2,257.6 327.2,259.2 326.5,259.7 325.8,259.6 325.8,258.7 325.1,258.6 324.4,256.9 324.4,255.0 323.7,253.7 323.0,254.4 323.0,255.8 322.3,255.4 321.6,252.4 321.0,250.6 320.9,254.0 320.2,254.2 320.2,254.9 319.5,253.9 318.8,255.2 318.8,252.4 318.1,253.8 317.4,255.9 317.4,256.2 316.7,254.6 316.0,257.3 316.0,256.4 315.3,256.7 315.0,257.8 314.6,255.3 313.9,253.2 313.2,255.3 313.2,256.2 312.5,253.3 311.8,255.2 311.8,255.0 311.1,252.3 310.4,253.2 310.4,253.0 309.7,252.1 309.0,252.9 309.0,252.7 308.3,253.2 307.6,254.2 307.6,255.4 306.9,252.5 306.2,254.4 306.2,254.6 305.5,255.9 304.8,256.9 304.8,256.2 304.1,258.0 304.1,257.1 303.4,255.7 303.4,256.1 302.7,255.8 302.0,257.5 302.0,256.9 301.3,255.8 300.6,261.0 300.6,259.1 299.9,257.4 299.2,256.8 299.0,257.8 298.5,258.6 297.8,259.0 297.8,258.2 297.1,259.0 296.4,258.6 296.4,261.2 295.7,258.5 295.0,259.2 295.0,261.4 294.3,258.8 293.6,257.9 293.6,258.6 292.9,258.6 292.2,259.4 292.0,259.8 291.5,260.4 290.8,255.3 290.8,257.6 290.1,258.3 289.4,257.7 289.4,258.6 288.7,255.3 288.0,258.3 287.6,256.3 287.3,257.0 286.6,256.6 286.6,257.5 285.9,256.8 285.2,255.0 285.2,258.0 284.5,256.3 283.8,254.4 283.8,254.1 283.1,257.9 283.1,257.4 282.4,259.3 282.4,255.8 281.7,257.5 281.0,256.5 281.0,255.7 280.3,252.9 279.6,253.5 279.6,253.1 278.9,253.6 278.2,248.0 278.2,248.4 277.5,242.6 276.8,239.7 276.8,237.9 276.1,230.0 275.4,225.6 275.4,225.2 274.7,221.8 274.0,215.5 274.0,214.3 273.3,210.8 272.6,208.2 272.6,210.4 271.9,209.4 271.2,214.5 271.2,213.1 270.5,218.8 269.8,224.0 269.8,223.9 269.1,226.5 268.4,233.9 268.4,236.0 267.7,239.9 267.0,244.2 267.0,243.5 266.3,244.8 265.6,246.9 265.6,247.0 264.9,248.4 264.2,246.3 264.2,247.9 263.5,245.2 262.8,251.2 262.8,250.1 262.1,253.8 261.4,253.2 261.4,251.5 260.7,251.4 260.0,252.8 260.0,254.4 259.3,257.9 258.6,258.6 258.6,258.0 257.9,257.7 257.2,260.4 257.2,259.9 256.5,259.5 255.8,261.0 255.8,261.5 255.1,260.6 254.4,260.9 254.4,257.3 253.7,257.8 253.0,256.5 253.0,259.9 252.3,260.0 251.6,261.4 251.6,260.0 250.9,263.0 250.2,261.1 250.2,259.3 249.5,258.8 248.8,259.3 248.8,260.3 248.1,261.3 247.4,257.9 247.4,258.5 246.7,257.3 246.0,257.0 246.0,258.4 245.3,259.1 244.6,257.6 244.6,254.6 243.9,255.4 243.2,255.5 243.2,257.4 242.5,256.6 241.8,255.2 241.8,254.8 241.1,250.8 240.4,250.2 240.4,249.3 239.7,249.3 239.0,247.2 239.0,246.3 238.3,242.3 237.6,231.5 237.1,233.1 236.9,227.3 236.2,233.6 236.2,235.5 235.5,242.2 234.8,246.5 234.8,247.6 234.1,251.9 233.4,250.6 233.4,251.5 232.7,251.2 232.0,251.2 232.0,253.6 231.3,256.1 230.6,253.6 230.6,257.1 229.9,256.4 229.2,254.6 229.2,251.8 228.5,251.7 227.8,250.4 227.8,250.8 227.1,250.6 226.4,247.5 226.4,250.7 225.7,249.6 225.0,252.2 225.0,252.6 224.3,255.0 223.6,256.0 223.6,254.1 222.9,256.3 222.2,255.0 222.2,255.8 221.5,258.7 220.8,256.8 220.8,258.1 220.1,260.9 219.4,259.4 219.4,259.1 218.7,260.0 218.0,259.5 218.0,258.0 217.3,259.2 216.6,260.6 216.6,258.8 215.9,259.4 215.2,259.1 215.2,259.9 214.5,258.2 213.8,257.1 213.8,256.7 213.1,259.6 212.4,261.8 212.4,259.7 211.7,260.8 211.0,256.9 211.0,258.2 210.3,260.5 209.6,260.1 209.6,256.8 208.9,259.0 208.2,258.2 208.2,258.6 207.5,258.3 206.8,256.0 206.8,256.9 206.1,253.0 205.4,254.8 205.4,255.0 204.7,254.8 204.0,254.8 204.0,254.3 203.3,254.6 202.6,253.2 202.6,252.9 201.9,254.8 201.2,255.2 201.2,254.3 200.5,255.5 199.8,252.3 199.8,254.4 199.1,257.3 198.4,254.7 198.4,256.4 197.7,255.6 197.0,254.3 197.0,253.0 196.3,255.6 195.6,257.9 195.6,256.7 194.9,253.4 194.2,256.5 194.2,257.8 193.5,259.5 192.8,258.5 192.8,257.9 192.1,259.1 191.4,258.9 191.4,257.7 190.7,259.2 190.0,261.3 190.0,260.2 189.3,263.1 188.6,261.6 188.6,263.0 187.9,262.4 187.2,262.2 187.2,260.7 186.5,260.9 185.8,257.4 185.8,258.6 185.1,259.5 184.4,255.3 184.4,257.2 183.7,259.3 183.0,260.6 183.0,257.8 182.3,257.4 181.6,257.1 181.6,260.1 180.9,257.2 180.2,257.9 180.2,258.3 179.5,258.1 178.8,256.4 178.8,257.1 178.1,256.9 177.4,254.9 177.3,254.0 176.7,253.7 176.0,253.2 176.0,252.7 175.3,254.3 174.6,255.1 174.6,255.9 173.9,257.5 173.2,257.0 173.2,258.8 172.5,258.1 171.8,258.6 171.8,256.5 171.1,259.4 170.4,259.7 170.4,259.9 169.7,259.4 169.0,259.4 169.0,257.0 168.3,256.9 167.6,257.4 167.6,257.5 166.9,258.2 166.2,261.7 166.2,260.5 165.5,261.3 164.8,263.3 164.8,262.0 164.1,261.2 163.4,260.0 163.4,261.1 162.7,261.1 162.0,263.5 162.0,259.5 161.3,262.0 160.6,260.4 160.6,260.8 159.9,263.1 159.2,264.5 159.2,261.4 158.5,263.2 157.8,260.0 157.8,260.1 157.1,261.9 156.4,264.1 156.4,262.9 155.7,262.8 155.0,264.1 155.0,261.3 154.3,262.1 153.6,264.0 153.6,262.7 152.9,264.3 152.2,260.3 152.2,260.9 151.5,260.0 150.8,260.1 150.8,260.7 150.1,262.7 149.4,259.2 149.4,258.4 148.7,258.0 148.0,261.3 148.0,259.7 147.3,262.6 146.6,262.7 146.6,262.7 145.9,263.3 145.2,260.9 145.2,262.5 144.5,261.1 143.8,261.6 143.8,261.5 143.1,258.6 142.4,258.7 142.4,256.8 141.7,261.5 141.0,262.2 141.0,261.1 140.3,261.6 139.6,258.7 139.6,257.9 138.9,262.2 138.2,260.0 138.2,261.3 137.5,259.6 136.8,261.6 136.8,262.1 136.1,258.6 135.4,257.6 135.4,260.9 134.7,261.9 134.0,259.8 134.0,260.8 133.3,259.5 132.6,258.4 132.6,257.8 131.9,262.7 131.2,260.4 131.2,260.7 130.5,260.3 129.8,255.8 129.8,259.9 129.1,258.3 128.4,259.5 128.4,258.5 127.7,260.7 127.0,258.7 127.0,258.5 126.3,259.3 125.6,259.7 125.6,259.5 124.9,258.2 124.2,255.1 124.2,258.5 123.5,256.6 122.8,259.4 122.8,256.9 122.1,257.4 121.4,256.1 121.4,255.5 120.7,260.4 120.0,259.3 120.0,256.9 119.3,259.7 118.6,262.8 118.6,260.4 117.9,265.0 117.2,262.6 117.2,262.3 116.5,262.7 115.8,262.6 115.8,260.3 115.1,262.6 114.4,264.9 114.4,265.2 113.7,263.8 113.0,263.0 113.0,261.5 112.3,263.0 111.6,263.8 111.6,264.1 110.9,262.7 110.2,262.9 110.2,263.0 109.5,261.4 108.8,261.4 108.8,262.7 108.1,262.0 107.4,261.6 107.4,260.6 106.7,261.2 106.0,259.6 106.0,263.4 105.3,258.7 104.6,259.5 104.6,257.9 103.9,255.3 103.2,255.4 103.2,256.5 102.5,256.4 101.8,256.6 101.8,256.4 101.1,257.6 100.4,256.7 100.4,254.7 99.7,258.9 99.0,259.5 99.0,258.1 98.3,258.3 97.6,256.8 97.6,257.6 96.9,259.3 96.2,257.0 96.2,257.6 95.5,258.0 94.8,256.9 94.8,257.5 94.1,253.6 93.4,257.4 93.4,258.1 92.7,258.4 92.0,261.0 92.0,260.4 91.3,260.4 90.6,259.0 90.6,258.5 89.9,259.6 89.2,262.3 89.2,260.6 88.5,259.3 87.8,260.3 87.8,260.3 87.1,258.6 86.4,257.2 86.4,255.8 85.7,258.2 85.0,263.0 85.0,259.6 84.8,263.1 84.3,260.5 83.9,261.6 83.6,259.9 83.0,260.5 82.9,262.4 82.2,262.5 82.1,259.1 81.5,254.1 81.2,256.3 80.8,254.7 80.3,255.5 80.1,259.0 79.6,249.8 79.4,250.6 78.7,254.0 78.3,253.5 78.0,254.8 77.3,245.1 77.3,244.8 76.6,242.5 76.4,243.0 75.9,240.1 75.3,238.3 75.2,238.7 74.5,241.5 73.8,244.7 73.5,242.9 73.1,245.3 72.4,245.3 71.9,247.9 71.7,247.6 71.0,251.1 70.7,253.2 70.3,250.1 69.6,249.3 69.3,251.4 68.9,247.8 68.6,250.2 68.2,243.2 67.9,244.9 67.5,245.4 66.8,250.8 66.8,253.6 66.1,260.2 65.8,259.1 65.4,253.6 64.7,243.8 64.5,243.6 64.0,253.9 63.4,263.0 63.3,266.0 62.6,259.0 62.6,258.6 61.9,254.5 61.5,257.3 61.2,255.6 60.5,259.0" fill="#b8b8b8"/>
<polyline points="60.5,254.3 61.5,243.1 62.6,253.4 63.4,258.8 64.5,236.9 65.8,252.9 66.8,243.8 67.9,230.2 68.6,236.4 69.3,246.0 70.7,246.8 71.9,240.6 73.5,234.6 75.3,228.0 76.4,234.9 77.3,238.7 78.3,248.3 79.6,244.2 80.3,242.7 81.2,249.3 82.1,249.3 83.0,254.9 83.9,256.1 84.8,253.8 85.0,251.7 86.4,248.8 87.8,254.5 89.2,256.4 90.6,252.6 92.0,253.9 93.4,249.4 94.8,249.6 96.2,253.3 97.6,250.0 99.0,253.2 100.4,249.0 101.8,251.6 103.2,249.1 104.6,249.8 106.0,254.9 107.4,256.0 108.8,252.6 110.2,256.7 111.6,258.0 113.0,255.1 114.4,258.4 115.8,255.7 117.2,257.9 118.6,252.4 120.0,253.3 121.4,250.7 122.8,252.0 124.2,248.7 125.6,253.7 127.0,248.8 128.4,253.1 129.8,250.2 131.2,255.5 132.6,252.1 134.0,255.3 135.4,253.4 136.8,255.5 138.2,255.8 139.6,251.9 141.0,255.6 142.4,250.3 143.8,254.4 145.2,252.9 146.6,256.2 148.0,251.5 149.4,253.7 150.8,255.5 152.2,252.3 153.6,257.5 155.0,252.9 156.4,257.5 157.8,252.7 159.2,257.4 160.6,252.7 162.0,256.6 163.4,252.7 164.8,255.9 166.2,255.4 167.6,250.4 169.0,251.8 170.4,254.2 171.8,249.1 173.2,251.7 174.6,248.2 176.0,247.2 177.3,243.6 178.8,249.0 180.2,250.4 181.6,252.1 183.0,253.7 184.4,250.5 185.8,254.2 187.2,253.5 188.6,256.9 190.0,253.4 191.4,253.4 192.8,252.9 194.2,248.9 195.6,250.4 197.0,246.6 198.4,249.9 199.8,245.8 201.2,248.9 202.6,245.0 204.0,249.6 205.4,248.6 206.8,249.2 208.2,251.8 209.6,252.9 211.0,249.5 212.4,254.5 213.8,250.3 215.2,253.5 216.6,253.6 218.0,250.4 219.4,254.1 220.8,250.1 222.2,251.9 223.6,249.4 225.0,245.2 226.4,243.0 227.8,244.3 229.2,245.6 230.6,250.3 232.0,246.0 233.4,245.9 234.8,236.8 236.2,220.7 237.1,207.8 239.0,236.1 240.4,245.4 241.8,245.9 243.2,250.5 244.6,248.7 246.0,252.9 247.4,250.3 248.8,254.5 250.2,252.3 251.6,255.3 253.0,252.9 254.4,252.2 255.8,255.5 257.2,252.0 258.6,251.8 260.0,246.3 261.4,246.8 262.8,242.3 264.2,241.8 265.6,238.4 267.0,234.9 268.4,222.4 269.8,212.8 271.2,198.7 272.6,188.7 274.0,199.4 275.4,214.4 276.8,226.5 278.2,238.3 279.6,248.3 281.0,248.0 282.4,242.9 283.1,242.0 283.8,241.2 285.2,243.4 286.6,241.7 287.6,242.6 289.4,240.5 290.8,243.6 292.0,241.7 293.6,243.8 295.0,243.1 296.4,246.2 297.8,244.7 299.0,246.1 300.6,242.8 302.0,240.5 303.4,240.0 304.1,238.3 304.8,236.7 306.2,236.5 307.6,232.0 309.0,232.3 310.4,231.7 311.8,233.8 313.2,233.5 315.0,235.1 316.0,235.2 317.4,241.0 318.8,242.2 320.2,242.7 321.0,246.0 323.0,246.0 324.4,249.8 325.8,249.3 327.2,252.8 328.7,252.6 330.0,255.0 331.4,255.3 332.8,255.9 334.2,252.3 335.6,252.2 337.0,246.9 338.4,240.9 339.8,231.3 340.9,226.0 342.6,228.8 344.0,232.4 345.4,233.8 346.8,237.4 348.2,243.3 349.6,244.4 351.0,244.8 352.4,233.9 353.8,221.7 355.2,206.3 356.2,192.7 358.0,213.5 359.4,225.5 360.8,237.2 362.2,244.3 363.6,250.9 365.0,250.0 366.4,248.2 367.8,244.9 369.2,241.3 370.6,240.4 372.0,236.7 372.8,236.6 374.8,238.7 376.2,241.3 377.1,241.7 379.0,243.2 380.4,242.5 381.8,243.9 383.2,238.1 384.6,237.1 386.0,233.9 386.6,232.4 387.4,229.4 388.8,229.8 389.8,226.7 391.6,225.0 393.0,222.8 394.4,224.5 396.2,228.1 397.2,230.0 398.6,237.2 399.4,238.7 400.0,240.0 401.4,248.7 402.8,252.7 404.2,255.3 405.6,253.8 407.0,256.9 408.4,256.0 409.8,257.6 411.2,256.2 412.6,258.2 414.0,255.3 415.4,257.8 416.8,256.3 418.2,257.3 419.6,255.7 421.0,257.3 422.4,256.2 423.8,256.7 425.2,255.8 426.6,257.4 428.0,254.6 429.4,257.3 430.8,254.2 432.2,256.1 433.6,255.0 435.0,255.9 436.4,254.6 437.8,255.3 439.2,253.3 440.6,255.5 442.0,254.0 443.4,255.8 444.8,253.8 446.2,253.9 447.6,253.9 449.0,255.5 450.4,253.1 451.8,255.1 453.2,254.0 454.6,255.4 456.0,253.8 457.4,255.0 458.8,253.8 460.2,255.2 461.6,253.1 463.0,256.0 464.4,253.9 465.8,255.5 467.2,254.2 468.6,256.0 470.0,254.2" fill="none" stroke="#0a6010" stroke-width="1.3" stroke-linejoin="round"/>
<polygon points="60.5,297.4 61.2,267.9 61.3,266.7 61.9,262.3 62.4,262.7 62.6,258.0 63.3,274.9 63.7,279.5 64.0,281.0 64.7,301.9 64.7,303.3 65.4,292.7 66.1,285.1 66.1,281.5 66.8,279.5 67.2,276.5 67.5,276.5 68.2,271.1 68.2,270.7 68.9,287.0 69.3,291.4 69.6,290.6 70.3,276.8 70.9,265.5 71.0,266.2 71.7,268.0 72.4,270.2 72.5,268.8 73.1,269.9 73.8,268.4 73.9,267.1 74.5,273.3 75.1,276.3 75.2,277.7 75.9,283.4 76.4,280.9 76.6,286.5 77.3,277.2 77.8,274.4 78.0,275.0 78.5,279.2 78.7,276.9 79.2,278.0 79.4,277.6 80.1,275.8 80.3,279.1 80.8,285.7 81.2,283.3 81.5,281.9 82.1,283.2 82.2,281.9 82.9,282.2 83.0,283.0 83.6,288.9 83.9,287.9 84.3,296.0 84.8,292.1 85.0,292.7 85.0,292.3 85.7,285.7 86.4,284.8 86.4,285.9 87.1,283.9 87.8,289.4 87.8,289.6 88.5,293.7 89.2,294.1 89.2,292.0 89.9,292.3 90.6,289.8 90.6,292.8 91.3,293.2 92.0,292.3 92.0,295.4 92.7,288.1 93.4,289.6 93.4,291.2 94.1,290.1 94.8,293.0 94.8,292.9 95.5,294.8 96.2,295.5 96.2,294.5 96.9,294.2 97.6,294.9 97.6,293.2 98.3,288.1 99.0,290.2 99.0,289.9 99.7,290.2 100.4,293.0 100.4,292.0 101.1,290.2 101.8,291.7 101.8,292.6 102.5,293.1 103.2,297.1 103.2,293.5 103.9,299.2 104.6,298.6 104.6,296.1 105.3,295.5 106.0,294.9 106.0,294.3 106.7,296.8 107.4,297.8 107.4,292.8 108.1,297.5 108.8,301.9 108.8,300.4 109.5,298.3 110.2,294.0 110.2,294.8 110.9,292.4 111.6,291.1 111.6,289.9 112.3,291.8 113.0,297.6 113.0,297.5 113.7,300.8 114.4,295.0 114.4,296.0 115.1,294.5 115.8,293.5 115.8,292.3 116.5,293.4 117.2,294.4 117.2,291.8 117.9,295.5 118.6,293.9 118.6,292.2 119.3,285.8 120.0,287.5 120.0,287.5 120.7,287.3 121.4,290.1 121.4,290.0 122.1,284.4 122.8,285.1 122.8,283.7 123.5,284.7 124.2,285.9 124.4,285.7 124.9,283.5 125.6,287.0 125.6,285.2 126.3,287.7 127.0,289.6 127.0,290.6 127.7,294.2 128.4,295.9 128.4,295.7 129.1,290.5 129.8,289.2 129.8,290.3 130.5,291.7 131.2,294.2 131.2,297.4 131.9,289.9 132.6,287.4 132.6,292.5 133.3,290.2 134.0,290.2 134.0,289.2 134.7,285.9 135.4,287.7 135.4,285.4 136.1,285.5 136.8,292.1 136.8,291.6 137.5,297.0 138.2,290.7 138.2,288.8 138.9,285.9 139.6,283.0 139.6,283.9 140.3,283.6 140.8,284.5 141.0,285.3 141.7,287.4 142.4,287.4 142.4,289.0 143.1,287.2 143.8,287.9 143.8,286.5 144.5,287.6 145.2,292.2 145.2,292.6 145.9,294.3 146.6,294.5 146.6,293.0 147.3,295.4 148.0,297.0 148.0,295.1 148.7,295.4 149.4,295.2 149.4,295.7 150.1,290.0 150.8,292.0 150.8,293.0 151.5,292.2 152.2,295.0 152.2,296.5 152.9,299.0 153.6,297.8 153.6,297.3 154.3,292.1 155.0,295.2 155.0,291.1 155.7,291.8 156.4,296.2 156.4,296.5 157.1,291.0 157.8,289.3 157.8,290.8 158.5,289.8 159.2,296.5 159.2,292.5 159.9,291.8 160.6,291.7 160.6,293.2 161.3,293.0 162.0,293.4 162.0,297.5 162.7,288.9 163.4,291.1 163.4,291.2 164.1,290.3 164.8,290.9 164.8,292.8 165.5,288.2 166.2,290.8 166.2,290.1 166.9,288.5 167.6,293.5 167.6,295.1 168.3,290.0 169.0,289.6 169.0,289.4 169.7,288.4 170.4,289.3 170.4,290.5 171.1,285.9 171.8,286.6 171.8,286.3 172.5,287.5 173.2,289.9 173.2,291.0 173.9,287.1 174.6,287.4 174.6,284.6 175.3,283.9 176.0,281.3 176.0,283.0 176.7,281.9 177.4,279.5 177.7,281.8 178.1,279.4 178.8,278.6 178.8,280.2 179.5,285.1 180.2,283.3 180.2,284.1 180.9,284.4 181.6,284.0 181.6,282.7 182.3,273.2 183.0,273.3 183.0,272.1 183.7,272.8 184.4,268.3 184.6,271.6 185.1,272.8 185.8,273.4 185.8,272.1 186.5,274.8 187.2,285.2 187.2,283.2 187.9,289.0 188.6,287.3 188.6,290.4 189.3,291.7 190.0,295.9 190.0,294.3 190.7,292.9 191.4,293.2 191.4,293.6 192.1,294.3 192.8,290.4 192.8,290.3 193.5,283.4 194.2,286.3 194.2,287.4 194.9,286.7 195.6,286.0 195.6,288.1 196.3,281.9 197.0,281.5 197.0,281.5 197.7,282.6 198.4,279.9 198.4,279.3 199.1,275.1 199.8,274.1 199.8,275.9 200.5,272.1 201.2,271.0 201.2,272.9 201.9,275.4 201.9,271.6 202.6,274.5 202.6,275.7 203.3,276.4 204.0,278.3 204.0,278.6 204.7,280.2 205.4,280.7 205.4,280.3 206.1,279.6 206.8,283.3 206.8,284.7 207.5,286.7 208.2,288.2 208.2,288.0 208.9,290.5 209.6,284.9 209.6,286.4 210.3,280.4 211.0,279.6 211.0,280.6 211.7,281.4 212.4,284.8 212.4,287.8 213.1,284.2 213.8,286.8 213.8,286.9 214.5,286.3 215.2,288.6 215.2,287.5 215.9,284.3 216.6,284.0 216.6,282.7 217.3,283.5 218.0,287.1 218.0,286.7 218.7,287.1 219.4,285.1 219.4,287.4 220.1,286.7 220.8,285.4 220.8,287.6 221.5,284.3 222.2,282.8 222.2,285.2 222.9,282.0 223.6,281.1 223.6,282.0 224.3,281.5 225.0,285.2 225.0,284.2 225.7,280.5 226.4,280.1 226.4,281.6 227.1,280.8 227.8,283.6 227.8,284.9 228.5,284.3 229.2,283.3 229.2,284.6 229.9,284.8 230.6,287.0 230.6,288.6 231.3,290.9 232.0,288.6 232.0,288.3 232.7,282.4 233.4,285.1 233.4,284.3 234.1,284.7 234.8,276.3 234.8,276.2 235.5,264.4 236.2,248.7 236.2,249.4 236.9,248.6 237.1,249.2 237.6,249.4 238.3,249.3 239.0,264.6 239.0,267.7 239.7,276.7 240.4,282.0 240.4,282.2 241.1,284.6 241.8,284.7 241.8,283.6 242.5,281.6 243.2,282.1 243.2,283.0 243.9,278.5 244.6,277.4 244.6,277.3 245.3,277.6 245.7,277.0 246.0,276.3 246.7,275.2 247.4,277.8 247.4,280.0 248.1,277.6 248.8,277.4 248.8,278.4 249.5,277.9 250.2,283.8 250.2,283.9 250.9,284.2 251.6,282.3 251.6,282.4 252.3,282.3 253.0,281.8 253.0,282.7 253.7,277.4 254.4,279.8 254.4,277.9 255.1,279.0 255.8,281.3 255.8,281.6 256.5,278.8 257.2,275.8 257.2,274.8 257.9,273.4 258.6,272.0 258.6,273.2 259.3,271.3 259.4,270.4 260.0,274.2 260.0,272.0 260.7,274.6 261.4,276.7 261.4,278.1 262.1,280.8 262.8,282.9 262.8,280.0 263.5,281.4 264.2,282.5 264.2,280.9 264.9,283.3 265.6,276.4 265.6,276.5 266.3,276.2 266.3,274.2 267.0,274.7 267.0,277.6 267.7,283.7 268.4,292.4 268.4,294.0 269.1,294.3 269.8,292.8 269.8,295.6 270.5,295.6 271.2,297.5 271.2,294.3 271.9,292.4 272.6,294.3 272.6,293.6 273.3,292.7 274.0,294.5 274.0,293.0 274.7,292.5 275.4,291.2 275.4,292.2 276.1,292.3 276.8,294.7 276.8,293.7 277.5,294.8 278.2,297.6 278.2,295.3 278.9,293.6 279.6,294.0 279.6,294.6 280.3,292.5 281.0,288.6 281.0,288.4 281.7,287.5 282.4,287.8 282.4,286.6 283.1,281.6 283.8,275.8 283.8,274.1 284.5,274.2 285.2,272.6 285.2,275.1 285.9,268.2 286.6,265.2 286.6,262.6 287.3,265.4 288.0,264.2 288.0,262.5 288.7,258.1 289.4,258.7 289.4,255.1 290.1,255.7 290.8,253.2 291.3,252.7 291.5,254.6 292.2,253.9 292.2,255.5 292.9,256.0 293.6,257.4 293.6,258.5 294.3,257.2 295.0,258.3 295.0,256.6 295.7,261.1 296.4,261.0 296.4,259.9 297.1,260.8 297.8,259.5 297.8,261.6 298.5,262.5 299.2,260.6 299.2,261.0 299.9,262.2 300.6,262.7 300.6,262.3 301.3,266.1 302.0,267.2 302.0,268.1 302.7,264.0 303.4,257.8 303.4,257.2 304.1,255.8 304.8,257.1 304.8,257.4 305.5,253.4 306.2,251.9 306.2,250.8 306.9,245.2 307.6,241.0 307.6,240.7 308.3,242.3 309.0,242.2 309.0,239.9 309.7,238.5 310.4,242.4 310.4,242.1 311.1,246.1 311.8,247.9 311.8,250.6 312.5,248.3 313.2,246.4 313.2,250.2 313.9,249.0 314.6,247.1 315.0,246.7 315.3,248.7 316.0,246.9 316.0,246.8 316.7,249.3 317.4,257.1 317.4,257.6 318.1,260.3 318.8,262.6 318.8,264.0 319.5,268.7 320.2,268.8 320.2,268.7 320.9,267.5 321.6,266.4 321.6,267.9 322.3,272.3 323.0,276.4 323.0,275.1 323.7,276.7 324.4,277.2 324.4,277.9 325.1,279.3 325.8,279.6 325.8,278.0 326.5,279.2 327.2,278.0 327.2,278.8 327.9,283.1 328.6,286.6 328.6,285.0 329.3,285.8 330.0,281.9 330.0,282.6 330.7,282.5 331.4,283.1 331.4,281.5 332.1,285.1 332.8,282.2 332.8,283.4 333.5,284.6 334.2,284.9 334.2,284.2 334.9,275.0 335.6,264.5 335.6,266.3 336.3,264.2 337.0,260.1 337.0,260.0 337.7,256.6 338.4,250.2 338.4,249.1 339.1,247.3 339.8,243.8 339.8,245.3 340.5,235.5 341.2,231.2 341.2,233.3 341.9,232.4 342.2,233.5 342.6,234.9 343.3,233.4 344.0,233.5 344.0,235.4 344.7,241.0 345.4,243.8 345.4,244.5 346.1,251.6 346.8,254.7 346.8,254.5 347.5,257.5 348.2,253.9 348.2,257.0 348.9,261.5 349.6,265.5 349.6,264.6 350.3,270.0 351.0,277.1 351.0,275.1 351.7,275.3 352.4,277.0 352.4,278.7 353.1,284.9 353.8,291.9 353.8,290.4 354.5,292.2 355.2,291.6 355.2,289.1 355.9,296.5 356.6,299.4 356.6,298.2 357.3,294.6 358.0,290.4 358.0,291.8 358.7,293.2 359.4,293.9 359.4,292.8 360.1,292.2 360.8,293.1 360.8,293.4 361.5,294.9 362.2,295.9 362.2,296.0 362.9,292.2 363.6,286.8 363.6,289.3 364.3,285.2 365.0,284.7 365.0,285.4 365.7,279.3 366.4,269.4 366.4,272.4 367.1,272.5 367.8,271.0 367.8,270.0 368.5,268.9 369.2,262.0 369.2,262.8 369.9,261.8 370.6,261.8 371.0,259.9 371.3,260.0 372.0,261.3 372.0,261.8 372.7,261.6 373.4,265.3 373.4,265.1 374.1,270.9 374.8,273.3 374.8,273.4 375.5,272.1 376.2,270.6 376.2,270.6 376.9,268.4 377.6,264.2 377.6,266.5 378.3,266.7 379.0,265.6 379.0,265.9 379.7,264.3 380.4,264.6 380.4,265.5 381.1,268.2 381.8,270.3 381.8,268.8 382.5,269.4 383.2,261.6 383.2,264.9 383.9,262.4 384.6,260.1 384.6,259.2 385.3,251.9 386.0,245.1 386.0,247.1 386.7,244.2 387.4,244.0 387.4,245.5 388.1,238.7 388.8,232.6 388.8,231.9 389.5,228.5 390.2,228.8 390.2,229.0 390.9,229.2 391.1,228.5 391.6,230.1 392.3,228.7 393.0,230.1 393.0,228.9 393.7,230.9 394.4,232.6 394.4,232.3 395.1,236.7 395.8,241.1 395.8,243.9 396.5,244.4 397.2,243.4 397.2,245.4 397.9,250.2 398.6,258.6 398.6,259.7 399.3,259.5 400.0,260.8 400.0,261.2 400.7,265.6 401.4,271.9 401.4,274.3 402.1,273.4 402.8,276.6 402.8,278.8 403.5,280.4 404.2,285.1 404.2,285.5 404.9,287.7 405.6,285.8 405.6,287.1 406.3,289.6 407.0,295.9 407.0,296.4 407.7,294.2 408.4,296.0 408.4,293.1 409.1,297.6 409.8,293.8 409.8,295.6 410.5,295.1 411.2,294.4 411.2,295.3 411.9,293.8 412.6,295.3 412.6,293.0 413.3,294.0 414.0,296.9 414.0,292.9 414.7,294.8 415.4,296.0 415.4,294.8 416.1,295.0 416.8,294.2 416.8,294.2 417.5,294.3 418.2,297.0 418.2,295.4 418.9,296.3 419.6,296.7 419.6,295.8 420.3,296.1 421.0,294.6 421.0,295.3 421.7,294.6 422.4,293.1 422.4,292.9 423.1,292.5 423.8,293.9 423.8,293.2 424.5,293.2 425.2,293.6 425.2,294.1 425.9,294.9 426.6,292.4 426.6,291.1 427.3,292.9 428.0,292.8 428.0,294.3 428.7,293.2 429.4,291.7 429.4,290.9 430.1,292.5 430.8,291.2 430.8,291.2 431.5,290.6 432.2,289.1 432.2,290.6 432.9,289.7 433.6,288.6 433.6,290.5 434.3,290.0 435.0,290.8 435.0,290.5 435.7,294.0 436.4,291.2 436.4,293.2 437.1,292.3 437.8,291.7 437.8,292.5 438.5,293.4 439.2,292.9 439.2,293.4 439.9,292.1 440.6,292.9 440.6,291.0 441.3,292.9 442.0,291.8 442.0,293.4 442.7,294.3 443.4,292.7 443.4,291.3 444.1,291.3 444.8,288.6 444.8,290.3 445.5,290.3 446.2,289.7 446.2,290.3 446.9,289.3 447.6,289.0 447.6,288.9 448.3,291.6 449.0,289.1 449.0,292.8 449.7,291.1 450.4,291.3 450.4,290.8 451.1,292.4 451.8,290.9 451.8,292.9 452.5,291.3 453.2,293.3 453.2,292.1 453.9,292.1 454.6,291.4 454.6,293.8 455.3,294.9 456.0,288.7 456.0,291.6 456.7,290.9 457.4,290.8 457.4,289.0 458.1,289.8 458.8,289.3 458.8,289.1 459.5,293.9 460.2,291.8 460.2,290.1 460.9,290.5 461.6,291.2 461.6,293.6 462.3,292.2 463.0,291.1 463.0,292.1 463.7,291.3 464.4,286.4 464.4,289.2 465.1,288.9 465.8,288.3 465.8,287.3 466.5,291.6 467.2,289.8 467.2,287.7 467.9,290.2 468.6,290.7 468.6,288.2 469.3,290.3 470.0,287.8 470.0,287.7 470.7,289.2 470.7,302.2 470.0,302.0 470.0,301.5 469.3,306.7 468.6,307.0 468.6,306.8 467.9,305.0 467.2,308.6 467.2,309.4 466.5,308.1 465.8,310.2 465.8,311.0 465.1,307.8 464.4,309.5 464.4,311.2 463.7,310.8 463.0,310.9 463.0,309.9 462.3,306.0 461.6,308.0 461.6,308.0 460.9,310.0 460.2,309.8 460.2,311.7 459.5,311.1 458.8,309.8 458.8,310.4 458.1,310.6 457.4,311.1 457.4,311.2 456.7,308.0 456.0,307.7 456.0,307.5 455.3,307.5 454.6,307.4 454.6,308.3 453.9,308.1 453.2,308.8 453.2,308.3 452.5,308.0 451.8,307.6 451.8,309.2 451.1,308.2 450.4,307.5 450.4,310.4 449.7,308.7 449.0,307.4 449.0,309.7 448.3,308.9 447.6,309.4 447.6,308.7 446.9,309.9 446.2,310.9 446.2,310.2 445.5,310.2 444.8,309.9 444.8,311.2 444.1,309.0 443.4,308.9 443.4,310.0 442.7,309.3 442.0,310.3 442.0,308.0 441.3,309.7 440.6,308.1 440.6,307.4 439.9,305.8 439.2,307.8 439.2,305.0 438.5,307.6 437.8,307.5 437.8,306.9 437.1,307.6 436.4,305.6 436.4,308.6 435.7,308.0 435.0,311.3 435.0,310.5 434.3,309.6 433.6,310.6 433.6,307.9 432.9,306.3 432.2,306.0 432.2,308.1 431.5,306.9 430.8,306.0 430.8,307.7 430.1,307.3 429.4,307.8 429.4,305.4 428.7,305.6 428.0,307.1 428.0,308.2 427.3,309.0 426.6,309.8 426.6,310.4 425.9,308.3 425.2,310.8 425.2,308.3 424.5,306.8 423.8,310.7 423.8,309.6 423.1,310.2 422.4,310.6 422.4,308.8 421.7,309.5 421.0,308.9 421.0,308.9 420.3,309.7 419.6,309.2 419.6,308.1 418.9,308.9 418.2,310.3 418.2,309.0 417.5,312.6 416.8,309.9 416.8,311.1 416.1,310.3 415.4,309.2 415.4,309.7 414.7,308.5 414.0,312.0 414.0,310.7 413.3,310.7 412.6,309.5 412.6,311.3 411.9,310.8 411.2,312.5 411.2,312.4 410.5,311.9 409.8,311.5 409.8,314.5 409.1,311.5 408.4,313.1 408.4,312.3 407.7,312.0 407.0,310.9 407.0,311.4 406.3,309.7 405.6,307.0 405.6,307.7 404.9,308.8 404.2,308.8 404.2,306.8 403.5,302.1 402.8,298.7 402.8,299.0 402.1,296.9 401.4,295.2 401.4,296.1 400.7,291.3 400.0,285.5 400.0,289.6 399.3,288.0 398.6,285.8 398.6,283.9 397.9,279.6 397.2,269.5 397.2,271.8 396.5,270.5 395.8,268.8 395.8,271.5 395.1,261.1 394.4,256.8 394.4,254.2 393.7,254.2 393.0,252.0 393.0,252.1 392.3,248.6 391.6,245.3 391.1,249.7 390.9,250.2 390.2,255.9 390.2,255.2 389.5,257.3 388.8,257.0 388.8,256.6 388.1,262.6 387.4,270.3 387.4,270.7 386.7,272.2 386.0,274.0 386.0,276.1 385.3,280.9 384.6,289.1 384.6,287.8 383.9,288.4 383.2,288.3 383.2,288.7 382.5,287.3 381.8,287.5 381.8,286.5 381.1,283.6 380.4,283.0 380.4,283.4 379.7,281.1 379.0,278.5 379.0,280.1 378.3,284.5 377.6,288.9 377.6,290.4 376.9,290.9 376.2,290.5 376.2,290.9 375.5,291.0 374.8,290.8 374.8,293.0 374.1,288.0 373.4,285.3 373.4,284.3 372.7,284.4 372.0,284.5 372.0,286.1 371.3,283.6 371.0,288.2 370.6,287.4 369.9,286.8 369.2,286.3 369.2,287.2 368.5,292.0 367.8,293.9 367.8,298.3 367.1,297.1 366.4,300.4 366.4,298.9 365.7,305.6 365.0,311.6 365.0,311.1 364.3,311.2 363.6,311.5 363.6,309.5 362.9,312.5 362.2,311.1 362.2,310.5 361.5,308.5 360.8,308.6 360.8,308.8 360.1,308.0 359.4,311.7 359.4,309.5 358.7,311.8 358.0,311.2 358.0,310.3 357.3,310.8 356.6,314.0 356.6,313.1 355.9,313.5 355.2,311.8 355.2,311.7 354.5,311.6 353.8,312.2 353.8,311.0 353.1,306.3 352.4,303.0 352.4,302.4 351.7,303.6 351.0,302.5 351.0,304.3 350.3,292.8 349.6,288.0 349.6,285.5 348.9,287.8 348.2,286.7 348.2,287.9 347.5,280.9 346.8,275.4 346.8,276.5 346.1,272.5 345.4,267.2 345.4,268.6 344.7,267.6 344.0,266.4 344.0,267.0 343.3,261.9 342.6,256.4 342.2,259.3 341.9,258.5 341.2,261.3 341.2,262.8 340.5,266.8 339.8,270.3 339.8,272.2 339.1,275.7 338.4,275.9 338.4,277.2 337.7,287.7 337.0,294.9 337.0,295.4 336.3,294.4 335.6,296.1 335.6,296.2 334.9,295.4 334.2,295.5 334.2,296.8 333.5,298.8 332.8,296.7 332.8,297.1 332.1,299.2 331.4,298.6 331.4,300.1 330.7,299.9 330.0,299.2 330.0,299.3 329.3,299.1 328.6,298.6 328.6,299.6 327.9,299.3 327.2,297.8 327.2,297.0 326.5,299.0 325.8,299.3 325.8,298.2 325.1,293.7 324.4,296.2 324.4,294.6 323.7,295.6 323.0,294.8 323.0,295.1 322.3,289.7 321.6,287.9 321.6,288.1 320.9,285.7 320.2,284.9 320.2,287.6 319.5,283.8 318.8,282.2 318.8,281.2 318.1,282.0 317.4,282.5 317.4,280.8 316.7,278.9 316.0,273.3 316.0,274.3 315.3,272.9 315.0,271.0 314.6,267.7 313.9,260.6 313.2,262.4 313.2,262.8 312.5,263.8 311.8,262.8 311.8,266.5 311.1,264.1 310.4,263.0 310.4,263.8 309.7,259.8 309.0,262.0 309.0,262.5 308.3,264.8 307.6,268.2 307.6,267.0 306.9,267.9 306.2,270.0 306.2,270.8 305.5,273.5 304.8,277.8 304.8,278.9 304.1,280.2 303.4,278.1 303.4,278.1 302.7,278.5 302.0,282.0 302.0,281.4 301.3,281.9 300.6,282.5 300.6,280.4 299.9,280.8 299.2,282.8 299.2,283.5 298.5,276.4 297.8,272.7 297.8,273.5 297.1,272.6 296.4,276.4 296.4,275.7 295.7,272.7 295.0,276.3 295.0,277.1 294.3,274.8 293.6,274.1 293.6,277.8 292.9,270.7 292.2,269.2 292.2,268.7 291.5,270.2 291.3,275.0 290.8,272.9 290.1,276.0 289.4,275.2 289.4,277.4 288.7,279.4 288.0,283.3 288.0,283.3 287.3,286.2 286.6,289.1 286.6,286.8 285.9,293.6 285.2,297.8 285.2,298.7 284.5,298.0 283.8,298.2 283.8,299.5 283.1,305.4 282.4,306.6 282.4,307.7 281.7,306.8 281.0,307.6 281.0,307.2 280.3,308.6 279.6,308.1 279.6,306.5 278.9,307.3 278.2,306.9 278.2,306.4 277.5,309.7 276.8,308.4 276.8,308.4 276.1,307.6 275.4,304.2 275.4,306.0 274.7,305.7 274.0,304.5 274.0,307.6 273.3,308.1 272.6,307.0 272.6,306.7 271.9,310.9 271.2,309.5 271.2,310.1 270.5,310.7 269.8,309.0 269.8,308.3 269.1,313.1 268.4,311.1 268.4,311.0 267.7,311.9 267.0,306.4 267.0,307.0 266.3,299.3 266.3,297.4 265.6,297.2 265.6,297.0 264.9,296.7 264.2,298.1 264.2,296.9 263.5,294.3 262.8,293.6 262.8,293.5 262.1,295.4 261.4,294.5 261.4,294.5 260.7,294.0 260.0,291.4 260.0,291.7 259.4,286.2 259.3,284.6 258.6,288.0 258.6,288.3 257.9,291.6 257.2,291.6 257.2,294.7 256.5,296.1 255.8,296.1 255.8,294.9 255.1,295.8 254.4,293.2 254.4,292.8 253.7,298.2 253.0,297.3 253.0,295.7 252.3,298.7 251.6,294.2 251.6,295.0 250.9,297.9 250.2,298.6 250.2,300.2 249.5,298.4 248.8,293.0 248.8,295.6 248.1,294.9 247.4,294.1 247.4,294.3 246.7,297.0 246.0,293.3 245.7,294.7 245.3,294.9 244.6,296.9 244.6,295.9 243.9,300.4 243.2,300.5 243.2,301.3 242.5,300.4 241.8,295.9 241.8,296.2 241.1,301.6 240.4,300.1 240.4,299.1 239.7,301.8 239.0,293.5 239.0,295.9 238.3,286.9 237.6,277.2 237.1,278.1 236.9,275.6 236.2,286.5 236.2,285.7 235.5,298.3 234.8,297.0 234.8,298.2 234.1,298.5 233.4,298.2 233.4,297.5 232.7,303.3 232.0,301.0 232.0,302.0 231.3,301.6 230.6,301.1 230.6,301.6 229.9,301.1 229.2,297.9 229.2,299.3 228.5,298.8 227.8,298.6 227.8,299.0 227.1,299.7 226.4,295.2 226.4,293.0 225.7,297.9 225.0,298.0 225.0,299.2 224.3,298.2 223.6,295.8 223.6,296.4 222.9,295.1 222.2,299.9 222.2,297.2 221.5,301.1 220.8,301.3 220.8,300.5 220.1,298.5 219.4,298.1 219.4,298.2 218.7,299.2 218.0,298.1 218.0,299.7 217.3,300.7 216.6,298.5 216.6,299.6 215.9,301.9 215.2,303.6 215.2,304.1 214.5,300.2 213.8,299.6 213.8,299.3 213.1,300.7 212.4,299.8 212.4,302.2 211.7,299.7 211.0,296.7 211.0,296.9 210.3,300.9 209.6,300.5 209.6,301.8 208.9,303.3 208.2,300.7 208.2,302.5 207.5,302.7 206.8,300.2 206.8,298.3 206.1,296.5 205.4,295.9 205.4,293.7 204.7,296.1 204.0,295.6 204.0,294.6 203.3,294.7 202.6,291.1 202.6,289.7 201.9,287.5 201.9,288.6 201.2,291.3 201.2,290.0 200.5,288.8 199.8,292.9 199.8,290.8 199.1,295.5 198.4,294.8 198.4,297.1 197.7,294.5 197.0,297.8 197.0,296.2 196.3,300.5 195.6,301.3 195.6,302.2 194.9,298.6 194.2,301.4 194.2,300.0 193.5,303.8 192.8,304.3 192.8,304.7 192.1,304.8 191.4,307.8 191.4,307.0 190.7,307.9 190.0,308.5 190.0,308.6 189.3,309.0 188.6,305.4 188.6,304.7 187.9,304.1 187.2,304.3 187.2,303.8 186.5,303.9 185.8,297.9 185.8,297.5 185.1,291.0 184.6,292.1 184.4,290.9 183.7,288.1 183.0,297.0 183.0,297.0 182.3,303.5 181.6,305.5 181.6,303.4 180.9,303.9 180.2,298.2 180.2,300.2 179.5,298.9 178.8,300.8 178.8,300.9 178.1,301.0 177.7,300.1 177.4,298.1 176.7,293.5 176.0,297.3 176.0,298.1 175.3,300.1 174.6,304.2 174.6,301.8 173.9,304.8 173.2,307.2 173.2,306.0 172.5,305.6 171.8,302.7 171.8,301.3 171.1,303.1 170.4,304.5 170.4,305.8 169.7,307.0 169.0,305.0 169.0,303.2 168.3,305.6 167.6,304.7 167.6,303.1 166.9,305.4 166.2,303.5 166.2,304.0 165.5,307.5 164.8,306.5 164.8,308.9 164.1,307.5 163.4,302.9 163.4,306.1 162.7,309.7 162.0,307.0 162.0,307.1 161.3,309.2 160.6,306.6 160.6,305.7 159.9,311.3 159.2,308.8 159.2,309.3 158.5,307.3 157.8,307.4 157.8,308.0 157.1,314.4 156.4,314.5 156.4,314.4 155.7,313.9 155.0,307.1 155.0,307.7 154.3,314.2 153.6,312.7 153.6,312.4 152.9,313.5 152.2,313.3 152.2,310.2 151.5,310.8 150.8,307.7 150.8,307.6 150.1,310.5 149.4,311.0 149.4,309.0 148.7,309.2 148.0,310.4 148.0,309.7 147.3,309.9 146.6,307.6 146.6,304.5 145.9,305.3 145.2,307.2 145.2,309.5 144.5,308.8 143.8,303.8 143.8,303.3 143.1,300.6 142.4,299.8 142.4,300.7 141.7,300.4 141.0,300.9 140.8,299.3 140.3,299.8 139.6,302.5 139.6,301.0 138.9,308.6 138.2,308.8 138.2,308.1 137.5,308.4 136.8,306.5 136.8,306.9 136.1,307.8 135.4,302.0 135.4,301.8 134.7,305.8 134.0,306.8 134.0,307.3 133.3,304.7 132.6,305.9 132.6,304.7 131.9,311.4 131.2,308.0 131.2,309.2 130.5,311.0 129.8,304.4 129.8,307.3 129.1,311.3 128.4,310.3 128.4,311.4 127.7,312.4 127.0,308.8 127.0,305.6 126.3,307.0 125.6,300.8 125.6,299.8 124.9,298.2 124.4,298.8 124.2,299.4 123.5,299.2 122.8,300.0 122.8,300.8 122.1,307.9 121.4,304.3 121.4,305.1 120.7,304.3 120.0,306.9 120.0,303.5 119.3,309.4 118.6,311.3 118.6,312.1 117.9,308.9 117.2,305.7 117.2,306.0 116.5,307.3 115.8,306.3 115.8,307.0 115.1,308.5 114.4,312.3 114.4,311.1 113.7,312.6 113.0,314.5 113.0,311.9 112.3,312.5 111.6,308.7 111.6,307.2 110.9,309.5 110.2,309.6 110.2,310.3 109.5,313.3 108.8,311.3 108.8,312.5 108.1,311.6 107.4,310.1 107.4,310.3 106.7,306.6 106.0,310.5 106.0,309.3 105.3,310.4 104.6,311.7 104.6,311.7 103.9,311.0 103.2,310.5 103.2,309.5 102.5,308.1 101.8,305.3 101.8,307.8 101.1,309.2 100.4,306.9 100.4,308.0 99.7,310.8 99.0,307.4 99.0,304.8 98.3,311.9 97.6,312.4 97.6,311.4 96.9,311.1 96.2,309.0 96.2,309.4 95.5,306.5 94.8,308.1 94.8,309.5 94.1,308.3 93.4,304.1 93.4,303.8 92.7,308.9 92.0,310.3 92.0,309.0 91.3,311.7 90.6,305.5 90.6,304.0 89.9,302.9 89.2,304.5 89.2,303.7 88.5,305.2 87.8,303.8 87.8,306.3 87.1,306.2 86.4,304.4 86.4,304.2 85.7,310.1 85.0,312.5 85.0,311.7 84.8,314.6 84.3,315.6 83.9,311.4 83.6,313.8 83.0,312.3 82.9,313.6 82.2,299.2 82.1,301.7 81.5,306.7 81.2,306.2 80.8,305.6 80.3,306.8 80.1,305.0 79.4,291.2 79.2,289.6 78.7,289.4 78.5,286.7 78.0,287.1 77.8,284.3 77.3,290.9 76.6,296.0 76.4,297.6 75.9,293.4 75.2,285.9 75.1,287.7 74.5,281.2 73.9,279.5 73.8,279.5 73.1,279.6 72.5,280.4 72.4,281.2 71.7,280.5 71.0,280.4 70.9,280.3 70.3,289.3 69.6,309.9 69.3,306.2 68.9,298.2 68.2,280.0 68.2,280.6 67.5,290.0 67.2,290.8 66.8,292.5 66.1,294.2 66.1,295.0 65.4,304.5 64.7,312.3 64.7,312.8 64.0,299.2 63.7,298.8 63.3,283.5 62.6,272.4 62.4,272.3 61.9,272.7 61.3,280.8 61.2,281.7 60.5,307.8" fill="#b8b8b8"/>
<polyline points="60.5,303.5 61.3,271.6 62.4,264.1 63.7,285.9 64.7,308.2 66.1,288.0 67.2,284.4 68.2,275.4 69.3,302.7 70.9,273.9 72.5,275.7 73.9,273.0 75.1,281.5 76.4,292.1 77.8,279.2 78.5,283.1 79.2,283.1 80.3,301.0 81.2,294.5 82.1,288.9 83.0,294.1 83.9,307.9 84.8,302.8 85.0,305.0 86.4,291.2 87.8,299.6 89.2,297.3 90.6,297.6 92.0,303.6 93.4,293.7 94.8,303.1 96.2,300.0 97.6,306.1 99.0,294.7 100.4,302.6 101.8,297.3 103.2,304.3 104.6,306.8 106.0,300.2 107.4,303.4 108.8,307.1 110.2,303.7 111.6,296.6 113.0,307.1 114.4,303.8 115.8,299.9 117.2,298.5 118.6,304.9 120.0,293.0 121.4,299.6 122.8,292.3 124.4,293.3 125.6,293.0 127.0,299.4 128.4,304.6 129.8,296.2 131.2,304.9 132.6,295.3 134.0,300.8 135.4,292.7 136.8,302.2 138.2,302.0 139.6,291.2 140.8,295.0 142.4,294.2 143.8,293.8 145.2,302.1 146.6,299.3 148.0,302.5 149.4,304.2 150.8,297.8 152.2,305.4 153.6,307.8 155.0,298.0 156.4,308.0 157.8,296.2 159.2,304.0 160.6,297.5 162.0,302.8 163.4,295.7 164.8,301.9 166.2,294.8 167.6,300.5 169.0,294.6 170.4,298.8 171.8,291.8 173.2,300.3 174.6,293.8 176.0,288.7 177.7,288.1 178.8,294.4 180.2,290.0 181.6,298.0 183.0,283.2 184.6,283.3 185.8,284.9 187.2,297.2 188.6,295.6 190.0,303.6 191.4,298.9 192.8,299.8 194.2,291.7 195.6,295.0 197.0,287.5 198.4,289.3 199.8,282.5 201.2,279.7 201.9,283.6 202.6,282.7 204.0,289.3 205.4,286.4 206.8,291.6 208.2,296.3 209.6,295.4 211.0,287.0 212.4,294.9 213.8,291.3 215.2,296.5 216.6,289.3 218.0,294.3 219.4,291.5 220.8,295.2 222.2,289.9 223.6,287.5 225.0,293.6 226.4,285.5 227.8,293.6 229.2,290.3 230.6,295.7 232.0,295.8 233.4,289.7 234.8,292.8 236.2,269.5 237.1,254.4 239.0,282.0 240.4,294.4 241.8,289.0 243.2,293.7 244.6,286.4 245.7,286.8 247.4,289.3 248.8,284.4 250.2,292.7 251.6,288.1 253.0,291.7 254.4,284.1 255.8,289.2 257.2,285.5 258.6,279.1 259.4,280.5 260.0,280.1 261.4,289.0 262.8,287.3 264.2,290.3 265.6,290.0 266.3,284.5 267.0,292.3 268.4,306.3 269.8,300.5 271.2,305.0 272.6,298.9 274.0,301.4 275.4,298.1 276.8,301.2 278.2,302.3 279.6,300.6 281.0,302.5 282.4,293.0 283.8,292.3 285.2,281.0 286.6,278.9 288.0,269.9 289.4,268.9 291.3,260.5 292.2,263.7 293.6,263.6 295.0,269.8 296.4,266.6 297.8,267.9 299.2,267.2 300.6,276.2 302.0,272.5 303.4,273.4 304.8,264.0 306.2,261.8 307.6,257.2 309.0,246.1 310.4,256.1 311.8,257.6 313.2,254.1 315.0,253.3 316.0,262.5 317.4,268.3 318.8,276.2 320.2,272.8 321.6,281.4 323.0,282.7 324.4,288.8 325.8,284.7 327.2,293.1 328.6,290.2 330.0,293.9 331.4,288.4 332.8,289.6 334.2,291.3 335.6,290.3 337.0,271.1 338.4,266.6 339.8,255.2 341.2,251.0 342.2,241.7 344.0,250.0 345.4,260.9 346.8,261.2 348.2,270.0 349.6,280.7 351.0,281.7 352.4,296.6 353.8,297.5 355.2,306.4 356.6,304.6 358.0,305.4 359.4,297.2 360.8,302.7 362.2,300.7 363.6,305.8 365.0,293.2 366.4,289.9 367.8,278.0 369.2,281.2 371.0,270.5 372.0,272.0 373.4,278.3 374.8,278.9 376.2,285.8 377.6,275.8 379.0,271.2 380.4,275.8 381.8,277.3 383.2,282.8 384.6,267.8 386.0,265.4 387.4,250.6 388.8,248.9 390.2,238.7 391.1,236.2 393.0,237.6 394.4,246.6 395.8,251.0 397.2,263.5 398.6,265.8 400.0,279.0 401.4,283.0 402.8,291.1 404.2,291.7 405.6,302.4 407.0,300.2 408.4,303.9 409.8,307.2 411.2,300.0 412.6,300.9 414.0,304.8 415.4,300.6 416.8,304.6 418.2,301.1 419.6,304.1 421.0,300.5 422.4,304.0 423.8,298.5 425.2,303.8 426.6,302.8 428.0,298.6 429.4,301.8 430.8,298.6 432.2,301.4 433.6,295.5 435.0,302.8 436.4,298.0 437.8,301.9 439.2,297.7 440.6,298.4 442.0,303.3 443.4,297.8 444.8,304.5 446.2,295.4 447.6,303.7 449.0,296.2 450.4,303.6 451.8,297.5 453.2,302.5 454.6,297.9 456.0,301.8 457.4,296.0 458.8,304.9 460.2,302.7 461.6,297.0 463.0,298.6 464.4,304.8 465.8,294.8 467.2,301.9 468.6,296.9 470.0,294.3" fill="none" stroke="#0a0a86" stroke-width="1.4" stroke-linejoin="round"/>
<polygon points="60.8,327.9 61.5,322.6 62.2,313.5 62.2,316.2 62.9,328.2 63.4,337.6 63.6,335.8 64.3,339.9 64.7,340.4 65.0,339.4 65.3,345.4 65.7,348.3 66.1,345.6 66.4,343.2 67.1,333.8 67.5,327.3 67.8,325.5 68.5,346.6 68.5,350.1 69.2,337.6 69.8,328.5 69.9,329.3 70.6,323.9 70.9,323.3 71.3,325.9 71.9,334.4 72.0,330.8 72.7,323.0 73.0,326.4 73.4,325.5 74.1,322.3 74.1,323.9 74.8,331.6 75.3,337.8 75.5,337.8 76.2,332.6 76.7,328.3 76.9,328.4 77.6,329.5 78.1,328.1 78.3,328.0 79.0,339.7 79.4,343.6 79.7,342.8 80.4,332.2 80.6,331.4 81.1,330.5 81.5,332.6 81.8,330.6 82.4,338.1 82.5,336.4 83.2,337.3 83.3,337.1 83.9,335.4 84.2,337.2 84.6,345.8 85.0,344.0 85.3,347.1 86.0,347.9 86.4,345.4 86.7,343.5 87.4,342.7 87.8,342.6 88.1,344.8 88.8,344.2 89.2,346.1 89.5,343.1 90.2,342.7 90.6,343.3 90.9,342.5 91.6,343.3 92.0,345.0 92.3,342.3 93.0,343.0 93.4,344.5 93.7,344.2 94.4,342.6 94.8,344.3 95.1,345.9 95.8,345.2 96.2,348.3 96.5,343.7 97.2,344.5 97.6,343.6 97.9,341.5 98.6,343.7 99.0,347.0 99.3,348.8 100.0,346.8 100.4,347.3 100.7,348.5 101.4,347.6 101.8,347.1 102.1,347.7 102.8,346.6 103.2,345.9 103.5,347.2 104.2,345.0 104.6,348.8 104.9,351.9 105.6,349.5 106.0,351.2 106.3,351.5 107.0,351.7 107.4,351.8 107.7,351.9 108.4,351.7 108.8,353.2 109.1,352.7 109.8,351.6 110.2,353.8 110.5,350.7 111.2,349.0 111.6,350.0 111.9,349.0 112.6,351.2 113.0,348.0 113.3,346.3 114.0,345.0 114.4,347.1 114.7,345.7 115.4,344.8 115.8,344.1 116.1,341.2 116.8,341.8 117.2,344.2 117.5,342.5 118.2,342.3 118.6,341.8 118.9,344.8 119.6,344.0 120.0,337.7 120.3,335.9 121.0,337.8 121.4,334.4 121.7,335.3 122.4,332.4 122.5,334.3 123.1,338.1 123.8,335.3 124.2,336.4 124.5,337.2 125.2,336.6 125.6,337.2 125.9,340.1 126.6,342.0 127.0,342.3 127.3,347.0 128.0,348.5 128.4,343.3 128.7,343.6 129.4,341.2 129.8,341.7 130.1,343.5 130.8,342.4 131.2,345.2 131.5,341.1 132.2,343.4 132.6,342.5 132.9,341.4 133.6,340.6 134.0,342.4 134.3,343.1 135.0,343.2 135.4,344.9 135.7,344.5 136.4,345.1 136.8,345.5 137.1,346.3 137.8,345.2 138.2,342.7 138.5,344.1 139.2,345.0 139.6,344.1 139.9,342.6 140.6,343.0 141.0,343.4 141.3,344.1 142.0,343.0 142.4,344.9 142.7,347.3 143.4,345.6 143.8,347.3 144.1,346.9 144.8,345.9 145.2,347.3 145.5,351.5 146.2,349.4 146.6,350.4 146.9,350.1 147.6,348.2 148.0,347.2 148.3,346.3 149.0,349.4 149.4,347.3 149.7,347.1 150.4,347.3 150.8,346.9 151.1,348.1 151.8,347.9 152.2,348.6 152.5,347.6 153.2,348.8 153.6,351.0 153.9,350.9 154.6,351.5 155.0,352.1 155.3,352.3 156.0,349.4 156.4,345.8 156.7,341.7 157.4,344.4 157.8,344.5 158.1,343.8 158.8,342.8 159.2,346.5 159.5,345.5 160.2,343.8 160.6,343.4 160.9,346.1 161.6,347.1 162.0,346.7 162.3,348.5 163.0,347.0 163.4,347.2 163.7,348.2 164.4,349.2 164.8,348.1 165.1,347.0 165.8,347.1 166.2,346.1 166.5,343.8 167.2,344.0 167.6,341.5 167.9,341.9 168.6,339.4 169.0,341.0 169.3,339.6 170.0,339.1 170.4,341.0 170.7,340.0 171.4,340.4 171.8,338.5 172.1,337.9 172.8,340.1 173.2,338.7 173.5,335.7 174.2,335.3 174.6,333.1 174.9,332.7 175.6,332.0 176.0,334.2 176.3,334.1 177.0,329.9 177.7,328.5 177.7,327.8 178.4,329.5 178.8,331.0 179.1,334.4 179.8,336.0 180.2,337.7 180.5,339.2 181.2,338.1 181.6,337.3 181.9,337.6 182.6,339.1 183.0,334.0 183.3,334.2 184.0,327.9 184.7,327.3 185.0,327.6 185.4,328.1 185.8,327.4 186.1,328.0 186.8,333.6 187.2,335.5 187.5,334.4 188.2,333.5 188.6,339.0 188.9,343.3 189.6,346.6 190.0,344.8 190.3,343.1 191.0,344.5 191.4,342.9 191.7,343.1 192.4,344.2 192.8,341.4 193.1,338.8 193.8,338.6 194.2,340.4 194.5,339.2 195.2,340.2 195.6,338.7 195.9,333.3 196.6,334.7 197.0,335.0 197.3,336.2 198.0,335.7 198.4,334.7 198.7,330.0 199.4,332.7 199.8,332.1 200.1,331.2 200.8,332.3 201.2,330.6 201.5,330.3 202.2,330.7 202.8,330.6 202.9,332.9 203.6,329.6 204.0,330.0 204.3,331.1 205.0,331.8 205.4,335.1 205.7,336.9 206.4,338.0 206.8,337.6 207.1,338.3 207.8,337.4 208.2,335.2 208.5,334.1 209.2,335.6 209.6,335.6 209.9,333.4 210.6,334.9 211.0,335.4 211.3,336.5 212.0,337.2 212.4,339.5 212.7,340.9 213.4,336.6 213.8,340.5 214.1,339.1 214.8,338.1 215.2,337.9 215.5,336.9 216.2,338.3 216.6,339.7 216.9,336.0 217.6,338.0 218.0,333.9 218.3,338.5 219.0,336.8 219.4,337.8 219.7,338.8 220.4,340.7 220.8,338.9 221.1,337.7 221.8,339.7 222.2,342.6 222.5,345.2 223.2,347.6 223.6,339.6 223.9,336.4 224.6,336.9 225.0,338.1 225.3,335.5 226.0,335.2 226.4,335.4 226.7,337.2 227.4,336.2 227.8,338.9 228.1,334.8 228.8,336.6 229.2,337.5 229.5,336.4 230.2,335.5 230.6,336.9 230.9,338.5 231.6,340.2 232.0,336.1 232.3,334.1 233.0,333.7 233.4,333.3 233.7,332.8 234.4,329.2 234.8,315.9 235.1,313.5 235.8,302.3 236.2,300.9 236.5,303.7 237.1,303.0 237.2,300.5 237.9,299.3 238.6,313.2 239.0,315.3 239.3,325.5 240.0,331.1 240.4,334.5 240.7,339.7 241.4,338.6 241.8,339.1 242.1,337.8 242.8,335.2 243.2,332.0 243.5,328.9 244.2,327.7 244.6,327.6 244.9,325.7 245.6,319.2 246.3,313.9 246.6,314.1 247.0,313.2 247.4,315.0 247.7,315.7 248.4,319.0 248.8,320.7 249.1,326.0 249.8,329.4 250.2,330.8 250.5,330.2 251.2,332.2 251.6,327.8 251.9,326.3 252.6,324.6 253.0,327.7 253.3,326.2 254.0,325.4 254.4,326.2 254.7,325.9 255.4,324.3 255.8,325.9 256.1,324.7 256.8,325.2 257.2,324.4 257.5,323.8 258.2,323.6 258.6,323.4 258.9,322.4 259.6,323.2 260.3,322.9 260.3,321.1 261.0,321.8 261.4,321.5 261.7,322.1 262.4,320.6 262.8,322.7 263.1,321.8 263.8,321.0 264.2,320.1 264.5,320.8 265.2,317.4 265.6,318.1 265.9,315.9 266.3,317.5 266.6,321.2 267.0,317.5 267.3,318.9 268.0,328.3 268.4,330.9 268.7,341.8 269.4,344.7 269.8,343.9 270.1,347.4 270.8,346.5 271.2,346.6 271.5,347.7 272.2,346.3 272.6,348.4 272.9,345.3 273.6,344.2 274.0,343.7 274.3,344.5 275.0,343.5 275.4,345.8 275.7,347.9 276.4,347.4 276.8,345.1 277.1,345.3 277.8,347.3 278.2,348.3 278.5,348.9 279.2,350.2 279.6,347.2 279.9,345.3 280.6,342.4 281.0,340.0 281.3,341.1 282.0,333.4 282.4,331.2 282.7,332.2 283.4,327.5 283.8,326.9 284.1,327.6 284.8,320.6 285.2,322.1 285.5,321.0 286.2,318.4 286.6,317.4 286.9,316.3 287.6,312.7 288.0,310.0 288.3,310.0 289.0,308.0 289.4,307.6 289.7,308.0 290.4,301.7 290.8,302.5 291.1,299.2 291.8,301.0 292.2,300.2 292.5,302.9 293.2,302.3 293.6,303.0 293.9,305.2 294.6,305.0 295.0,305.9 295.3,306.6 296.0,306.1 296.4,305.4 296.7,305.9 297.4,309.1 297.8,311.7 298.1,311.7 298.8,313.5 299.2,312.9 299.5,311.4 300.2,312.5 300.6,312.7 300.9,312.8 301.6,312.3 302.0,309.7 302.3,310.4 303.0,304.4 303.4,302.2 303.7,303.2 304.4,299.8 304.8,297.8 305.1,297.0 305.8,290.1 306.2,289.9 306.5,291.1 307.2,288.1 307.6,286.3 307.9,287.4 308.6,285.7 309.0,286.6 309.3,286.4 310.0,286.7 310.4,283.9 310.7,285.6 311.4,288.1 311.8,287.9 312.1,292.0 312.8,294.1 313.2,291.5 313.5,291.3 314.2,293.0 314.9,294.0 315.0,293.1 315.6,291.5 316.0,292.5 316.3,291.3 317.0,295.1 317.4,294.8 317.7,296.0 318.4,305.0 318.8,305.4 319.1,308.8 319.8,308.7 320.2,308.5 320.5,307.6 321.2,313.4 321.6,314.1 321.9,316.5 322.6,316.5 323.0,315.2 323.3,315.6 324.0,319.9 324.4,321.5 324.7,324.0 325.4,322.5 325.8,322.9 326.1,322.9 326.8,329.8 327.2,328.6 327.5,330.0 328.2,330.7 328.6,333.5 328.9,331.1 329.6,331.9 330.0,330.7 330.3,332.5 331.0,336.6 331.4,336.8 331.7,338.6 332.4,334.2 332.8,332.6 333.1,335.7 333.8,332.0 334.2,328.6 334.5,331.9 335.2,320.1 335.6,317.1 335.9,317.3 336.6,308.1 337.0,306.7 337.3,305.9 338.0,298.8 338.4,296.4 338.7,297.5 339.4,291.1 339.8,288.0 340.1,287.8 340.8,284.3 341.2,282.9 341.5,284.4 342.2,283.8 342.6,282.7 342.9,283.2 343.6,282.0 344.0,283.5 344.3,283.2 345.0,284.1 345.4,287.2 345.7,285.5 346.4,289.5 346.8,291.1 347.1,291.3 347.8,295.6 348.2,295.4 348.5,296.6 349.2,302.3 349.6,305.0 349.9,306.9 350.6,315.0 351.0,312.2 351.3,316.9 352.0,325.8 352.4,327.8 352.7,330.2 353.4,334.7 353.8,337.3 354.1,336.8 354.8,344.2 355.2,346.8 355.5,351.0 356.2,349.9 356.6,349.2 356.9,351.8 357.6,351.6 358.0,350.7 358.3,350.4 359.0,353.0 359.4,349.7 359.7,349.5 360.4,344.0 360.8,344.9 361.1,344.1 361.8,344.6 362.2,345.1 362.5,341.1 363.2,338.5 363.6,337.1 363.9,337.8 364.6,328.8 365.0,329.5 365.3,328.9 366.0,325.7 366.4,324.5 366.7,326.1 367.4,319.2 367.8,316.0 368.1,317.7 368.8,316.1 369.2,314.6 369.5,314.2 370.2,308.3 370.6,307.7 370.9,305.6 371.6,306.3 371.9,304.5 372.3,308.7 373.0,307.8 373.4,310.2 373.7,310.8 374.4,313.4 374.8,316.1 375.1,315.7 375.8,322.3 376.2,320.0 376.5,322.1 377.2,325.7 377.6,323.1 377.9,324.1 378.6,324.6 379.0,325.8 379.3,323.8 380.0,324.1 380.4,325.2 380.7,327.0 381.4,329.5 381.8,324.1 382.1,325.0 382.8,320.4 383.2,318.7 383.5,314.7 384.2,314.7 384.6,310.9 384.9,309.8 385.6,300.8 386.0,302.1 386.3,301.9 387.0,300.4 387.4,297.0 387.7,297.5 388.4,292.9 388.8,291.5 389.1,288.7 389.8,285.8 390.2,281.0 390.5,284.3 391.2,286.0 391.9,281.1 391.9,282.7 392.6,281.8 393.0,284.7 393.3,284.4 394.0,284.5 394.4,287.3 394.7,287.7 395.4,289.0 395.8,288.0 396.1,288.3 396.8,294.7 397.2,292.7 397.5,295.8 398.2,299.4 398.6,299.1 398.9,299.8 399.6,307.4 400.0,306.8 400.3,310.7 401.0,318.4 401.4,318.0 401.7,319.2 402.4,324.5 402.8,324.4 403.1,328.2 403.8,335.6 404.2,334.7 404.5,337.1 405.2,341.6 405.6,342.6 405.9,344.7 406.6,347.2 407.0,346.1 407.3,344.8 408.0,348.5 408.4,348.9 408.7,347.9 409.4,345.1 409.8,348.8 410.1,349.3 410.8,350.8 411.2,351.2 411.5,348.7 412.2,349.1 412.6,350.2 412.9,349.0 413.6,348.8 414.0,350.3 414.3,349.2 415.0,349.4 415.4,352.0 415.7,350.5 416.4,350.0 416.8,352.1 417.1,347.3 417.8,348.9 418.2,347.9 418.5,351.7 419.2,349.6 419.6,348.2 419.9,350.1 420.6,347.1 421.0,350.8 421.3,349.5 422.0,349.4 422.4,350.9 422.7,349.3 423.4,349.0 423.8,350.2 424.1,349.6 424.8,347.9 425.2,348.0 425.5,348.5 426.2,348.8 426.6,348.2 426.9,349.8 427.6,350.4 428.0,349.5 428.3,349.5 429.0,349.0 429.4,348.0 429.7,347.9 430.4,347.1 430.8,349.3 431.1,346.8 431.8,348.5 432.2,349.9 432.5,347.0 433.2,348.1 433.6,348.6 433.9,350.0 434.6,347.5 435.0,349.7 435.3,349.7 436.0,348.6 436.4,347.4 436.7,348.5 437.4,348.4 437.8,349.5 438.1,347.5 438.8,350.1 439.2,348.7 439.5,346.2 440.2,347.3 440.6,348.8 440.9,349.2 441.6,348.7 442.0,348.7 442.3,347.3 443.0,346.1 443.4,347.6 443.7,347.9 444.4,346.8 444.8,348.4 445.1,347.8 445.8,346.5 446.2,346.1 446.5,347.9 447.2,347.9 447.6,348.0 447.9,347.2 448.6,346.3 449.0,348.0 449.3,349.4 450.0,346.6 450.4,346.6 450.7,346.5 451.4,346.9 451.8,348.2 452.1,349.0 452.8,347.1 453.2,348.1 453.5,347.6 454.2,346.3 454.6,349.8 454.9,349.7 455.6,349.4 456.0,348.6 456.3,347.9 457.0,347.8 457.4,349.1 457.7,346.9 458.4,347.7 458.8,346.5 459.1,345.5 459.8,346.1 460.2,347.7 460.5,347.4 461.2,346.7 461.6,346.4 461.9,348.6 462.6,348.5 463.0,348.0 463.3,346.1 464.0,347.1 464.4,347.4 464.7,348.9 465.4,348.9 465.8,347.0 466.1,348.6 466.8,346.3 467.2,348.3 467.5,347.2 468.2,346.6 468.6,346.8 468.9,347.5 469.6,345.0 470.0,347.6 470.3,347.0 470.3,358.6 470.0,361.3 469.6,360.2 468.9,360.5 468.6,360.2 468.2,358.4 467.5,361.4 467.2,360.4 466.8,360.8 466.1,361.3 465.8,362.1 465.4,361.3 464.7,360.7 464.4,358.5 464.0,360.4 463.3,363.1 463.0,359.9 462.6,359.6 461.9,362.3 461.6,362.0 461.2,361.2 460.5,361.1 460.2,361.1 459.8,361.0 459.1,360.2 458.8,360.5 458.4,361.7 457.7,360.6 457.4,360.9 457.0,360.7 456.3,359.8 456.0,357.3 455.6,361.2 454.9,359.3 454.6,359.6 454.2,358.6 453.5,360.4 453.2,358.4 452.8,358.9 452.1,359.7 451.8,360.9 451.4,360.3 450.7,360.6 450.4,361.4 450.0,359.1 449.3,361.7 449.0,360.4 448.6,359.6 447.9,360.1 447.6,361.8 447.2,359.3 446.5,359.7 446.2,359.0 445.8,361.4 445.1,361.4 444.8,362.4 444.4,361.5 443.7,359.5 443.4,362.5 443.0,360.0 442.3,360.0 442.0,361.0 441.6,360.2 440.9,362.3 440.6,362.5 440.2,361.1 439.5,361.6 439.2,361.4 438.8,361.6 438.1,359.1 437.8,361.9 437.4,360.5 436.7,361.7 436.4,360.1 436.0,362.0 435.3,359.8 435.0,361.3 434.6,359.3 433.9,364.9 433.6,364.3 433.2,360.6 432.5,361.5 432.2,362.4 431.8,361.1 431.1,362.2 430.8,359.9 430.4,361.9 429.7,362.1 429.4,362.7 429.0,363.2 428.3,359.3 428.0,362.7 427.6,362.0 426.9,361.2 426.6,360.1 426.2,364.9 425.5,363.9 425.2,360.0 424.8,362.2 424.1,363.3 423.8,362.0 423.4,361.4 422.7,362.3 422.4,361.6 422.0,362.0 421.3,364.2 421.0,363.5 420.6,362.2 419.9,362.1 419.6,362.4 419.2,364.0 418.5,363.4 418.2,361.7 417.8,361.5 417.1,362.8 416.8,363.0 416.4,364.8 415.7,364.6 415.4,362.7 415.0,362.5 414.3,362.0 414.0,363.7 413.6,362.9 412.9,363.5 412.6,363.7 412.2,362.2 411.5,364.5 411.2,362.8 410.8,363.3 410.1,361.4 409.8,365.1 409.4,364.3 408.7,359.8 408.4,362.3 408.0,362.0 407.3,361.6 407.0,360.2 406.6,360.7 405.9,361.0 405.6,359.8 405.2,363.0 404.5,360.4 404.2,357.2 403.8,356.9 403.1,355.9 402.8,353.7 402.4,354.3 401.7,351.0 401.4,349.3 401.0,349.9 400.3,338.9 400.0,341.2 399.6,335.8 398.9,330.6 398.6,331.6 398.2,329.5 397.5,321.7 397.2,323.0 396.8,319.6 396.1,312.3 395.8,315.3 395.4,312.5 394.7,306.1 394.4,307.7 394.0,306.4 393.3,302.0 393.0,302.1 392.6,298.9 391.9,303.1 391.9,302.5 391.2,303.7 390.5,311.9 390.2,312.4 389.8,313.0 389.1,313.6 388.8,317.2 388.4,318.8 387.7,323.0 387.4,326.3 387.0,324.9 386.3,330.3 386.0,332.2 385.6,330.9 384.9,339.0 384.6,339.8 384.2,341.1 383.5,337.5 383.2,336.8 382.8,340.3 382.1,336.9 381.8,340.9 381.4,340.8 380.7,338.9 380.4,339.2 380.0,338.7 379.3,337.3 379.0,338.8 378.6,339.2 377.9,339.0 377.6,339.2 377.2,337.1 376.5,338.8 376.2,340.4 375.8,339.4 375.1,335.8 374.8,336.2 374.4,334.6 373.7,334.1 373.4,335.0 373.0,336.1 372.3,327.9 371.9,329.5 371.6,328.1 370.9,329.9 370.6,331.8 370.2,331.2 369.5,337.6 369.2,337.5 368.8,337.1 368.1,343.2 367.8,344.1 367.4,344.4 366.7,351.7 366.4,350.7 366.0,351.3 365.3,355.4 365.0,358.7 364.6,355.0 363.9,357.2 363.6,357.3 363.2,358.2 362.5,360.7 362.2,362.5 361.8,361.2 361.1,360.2 360.8,363.6 360.4,360.9 359.7,367.7 359.4,366.5 359.0,365.3 358.3,364.5 358.0,365.7 357.6,365.4 356.9,364.7 356.6,366.9 356.2,366.8 355.5,364.3 355.2,365.2 354.8,366.5 354.1,362.6 353.8,359.3 353.4,361.4 352.7,360.9 352.4,361.0 352.0,359.9 351.3,351.9 351.0,352.0 350.6,350.6 349.9,341.2 349.6,341.0 349.2,340.8 348.5,328.3 348.2,326.8 347.8,326.2 347.1,321.2 346.8,321.3 346.4,317.3 345.7,308.6 345.4,309.9 345.0,306.8 344.3,304.7 344.0,303.6 343.6,304.2 342.9,302.1 342.6,304.6 342.2,304.4 341.5,309.1 341.2,311.8 340.8,312.8 340.1,317.8 339.8,320.6 339.4,318.9 338.7,327.9 338.4,332.9 338.0,333.7 337.3,345.3 337.0,344.5 336.6,345.7 335.9,346.2 335.6,347.6 335.2,346.6 334.5,347.7 334.2,349.3 333.8,348.8 333.1,349.5 332.8,350.5 332.4,349.6 331.7,349.0 331.4,347.7 331.0,348.9 330.3,346.6 330.0,351.4 329.6,348.3 328.9,349.5 328.6,350.3 328.2,348.3 327.5,344.9 327.2,343.3 326.8,341.1 326.1,342.1 325.8,342.6 325.4,342.9 324.7,340.6 324.4,339.9 324.0,341.1 323.3,336.9 323.0,338.7 322.6,335.7 321.9,333.4 321.6,334.3 321.2,333.3 320.5,328.3 320.2,327.4 319.8,325.4 319.1,326.2 318.8,326.2 318.4,326.6 317.7,319.8 317.4,322.4 317.0,320.6 316.3,320.6 316.0,320.5 315.6,317.5 315.0,311.0 314.9,310.8 314.2,308.2 313.5,309.1 313.2,308.4 312.8,308.8 312.1,309.8 311.8,307.6 311.4,308.3 310.7,304.5 310.4,307.1 310.0,306.5 309.3,301.1 309.0,304.1 308.6,306.3 307.9,312.9 307.6,312.6 307.2,312.4 306.5,313.4 306.2,319.4 305.8,320.1 305.1,323.8 304.8,322.7 304.4,324.3 303.7,322.0 303.4,324.6 303.0,324.7 302.3,325.8 302.0,326.8 301.6,326.9 300.9,328.4 300.6,328.3 300.2,327.8 299.5,329.8 299.2,325.8 298.8,327.4 298.1,327.0 297.8,327.6 297.4,328.0 296.7,326.0 296.4,323.7 296.0,322.9 295.3,322.5 295.0,323.3 294.6,325.3 293.9,318.8 293.6,320.0 293.2,318.2 292.5,319.9 292.2,320.6 291.8,320.5 291.1,323.9 290.8,325.8 290.4,325.4 289.7,330.5 289.4,329.5 289.0,330.9 288.3,329.8 288.0,334.1 287.6,332.2 286.9,337.6 286.6,340.5 286.2,341.1 285.5,345.5 285.2,345.6 284.8,346.5 284.1,351.7 283.8,352.1 283.4,356.6 282.7,358.4 282.4,356.6 282.0,357.3 281.3,359.7 281.0,362.1 280.6,362.6 279.9,360.1 279.6,365.3 279.2,365.9 278.5,364.0 278.2,363.9 277.8,365.6 277.1,362.4 276.8,363.6 276.4,360.0 275.7,359.1 275.4,360.2 275.0,360.9 274.3,360.5 274.0,358.2 273.6,360.8 272.9,360.4 272.6,359.8 272.2,359.7 271.5,359.4 271.2,360.2 270.8,360.9 270.1,358.9 269.8,358.3 269.4,359.3 268.7,359.0 268.4,357.7 268.0,356.1 267.3,354.3 267.0,349.5 266.6,343.0 266.3,345.0 265.9,341.3 265.6,335.7 265.2,333.9 264.5,334.3 264.2,337.8 263.8,337.5 263.1,340.6 262.8,338.8 262.4,339.4 261.7,337.1 261.4,338.5 261.0,334.9 260.3,335.4 260.3,334.2 259.6,335.1 258.9,334.5 258.6,336.3 258.2,337.5 257.5,338.9 257.2,338.3 256.8,338.6 256.1,338.6 255.8,339.9 255.4,340.3 254.7,341.1 254.4,339.7 254.0,339.4 253.3,340.9 253.0,341.2 252.6,346.2 251.9,345.8 251.6,344.1 251.2,342.9 250.5,344.0 250.2,343.1 249.8,344.2 249.1,342.1 248.8,342.3 248.4,345.6 247.7,344.4 247.4,342.8 247.0,337.5 246.6,339.6 246.3,340.4 245.6,340.9 244.9,344.2 244.6,347.1 244.2,350.9 243.5,349.1 243.2,350.8 242.8,351.5 242.1,353.1 241.8,353.6 241.4,353.6 240.7,351.2 240.4,354.7 240.0,354.2 239.3,353.8 239.0,349.2 238.6,344.5 237.9,342.3 237.2,325.8 237.1,331.6 236.5,329.8 236.2,340.9 235.8,344.0 235.1,343.5 234.8,345.4 234.4,346.7 233.7,346.2 233.4,349.5 233.0,352.4 232.3,350.2 232.0,352.6 231.6,355.0 230.9,353.1 230.6,352.1 230.2,351.6 229.5,349.9 229.2,353.8 228.8,355.6 228.1,354.9 227.8,354.7 227.4,351.7 226.7,353.6 226.4,353.1 226.0,346.8 225.3,351.2 225.0,356.6 224.6,358.8 223.9,360.0 223.6,360.6 223.2,356.4 222.5,356.1 222.2,360.3 221.8,357.2 221.1,360.4 220.8,356.9 220.4,357.5 219.7,357.2 219.4,356.9 219.0,358.0 218.3,357.2 218.0,355.9 217.6,354.7 216.9,355.3 216.6,353.7 216.2,355.1 215.5,353.9 215.2,350.9 214.8,354.0 214.1,352.5 213.8,353.6 213.4,353.0 212.7,354.6 212.4,352.1 212.0,351.9 211.3,354.0 211.0,353.0 210.6,354.0 209.9,355.4 209.6,351.5 209.2,353.6 208.5,352.1 208.2,351.7 207.8,351.2 207.1,353.2 206.8,353.5 206.4,351.3 205.7,352.1 205.4,354.3 205.0,353.0 204.3,352.5 204.0,348.7 203.6,344.6 202.9,343.3 202.8,344.0 202.2,344.2 201.5,345.2 201.2,342.7 200.8,344.5 200.1,345.8 199.8,350.4 199.4,350.7 198.7,348.9 198.4,350.0 198.0,352.1 197.3,351.7 197.0,351.7 196.6,353.4 195.9,353.1 195.6,355.5 195.2,355.6 194.5,353.5 194.2,358.5 193.8,359.0 193.1,356.6 192.8,357.4 192.4,357.9 191.7,357.4 191.4,359.1 191.0,359.8 190.3,359.0 190.0,359.8 189.6,359.4 188.9,358.5 188.6,357.6 188.2,359.2 187.5,359.1 187.2,355.2 186.8,350.1 186.1,346.0 185.8,347.1 185.4,346.0 185.0,349.8 184.7,348.0 184.0,354.0 183.3,356.8 183.0,355.4 182.6,351.8 181.9,352.8 181.6,351.4 181.2,351.3 180.5,349.8 180.2,352.8 179.8,350.4 179.1,352.1 178.8,351.7 178.4,351.9 177.7,352.9 177.7,350.9 177.0,354.8 176.3,353.4 176.0,352.2 175.6,351.4 174.9,353.9 174.6,352.7 174.2,354.9 173.5,355.3 173.2,352.6 172.8,353.0 172.1,352.4 171.8,358.4 171.4,359.3 170.7,358.5 170.4,358.9 170.0,361.2 169.3,359.2 169.0,359.2 168.6,363.2 167.9,362.3 167.6,362.0 167.2,362.8 166.5,362.2 166.2,363.3 165.8,366.2 165.1,367.2 164.8,363.8 164.4,365.5 163.7,367.0 163.4,362.7 163.0,362.9 162.3,361.7 162.0,362.9 161.6,364.2 160.9,362.4 160.6,361.3 160.2,362.7 159.5,361.2 159.2,362.1 158.8,361.7 158.1,360.2 157.8,357.4 157.4,359.0 156.7,362.4 156.4,361.0 156.0,362.4 155.3,362.5 155.0,362.0 154.6,362.7 153.9,364.8 153.6,366.2 153.2,364.3 152.5,364.2 152.2,364.3 151.8,367.5 151.1,366.0 150.8,366.0 150.4,365.8 149.7,366.1 149.4,364.2 149.0,364.6 148.3,366.0 148.0,364.8 147.6,366.2 146.9,365.8 146.6,364.5 146.2,363.1 145.5,362.9 145.2,363.0 144.8,361.2 144.1,363.2 143.8,362.4 143.4,364.3 142.7,363.1 142.4,365.0 142.0,364.7 141.3,362.5 141.0,359.1 140.6,361.2 139.9,359.0 139.6,359.9 139.2,360.4 138.5,362.2 138.2,360.4 137.8,362.5 137.1,358.7 136.8,359.1 136.4,359.4 135.7,360.8 135.4,361.3 135.0,362.0 134.3,359.6 134.0,362.3 133.6,362.1 132.9,362.1 132.6,360.1 132.2,363.8 131.5,364.6 131.2,362.2 130.8,362.2 130.1,361.0 129.8,359.9 129.4,358.6 128.7,360.3 128.4,359.6 128.0,361.1 127.3,360.6 127.0,359.0 126.6,361.5 125.9,361.9 125.6,357.3 125.2,353.7 124.5,351.8 124.2,351.5 123.8,353.1 123.1,353.2 122.5,354.0 122.4,353.5 121.7,353.5 121.4,356.3 121.0,356.3 120.3,358.5 120.0,359.5 119.6,360.7 118.9,359.3 118.6,357.9 118.2,361.4 117.5,359.8 117.2,358.2 116.8,362.0 116.1,363.0 115.8,361.4 115.4,362.5 114.7,364.1 114.4,363.6 114.0,366.7 113.3,367.8 113.0,364.8 112.6,366.3 111.9,365.3 111.6,366.4 111.2,367.7 110.5,369.1 110.2,368.9 109.8,368.6 109.1,366.8 108.8,370.1 108.4,369.4 107.7,369.4 107.4,370.8 107.0,370.0 106.3,370.0 106.0,366.8 105.6,363.9 104.9,364.0 104.6,363.9 104.2,364.0 103.5,364.2 103.2,362.0 102.8,360.8 102.1,362.8 101.8,360.3 101.4,359.6 100.7,360.3 100.4,361.3 100.0,363.9 99.3,362.9 99.0,364.4 98.6,363.4 97.9,363.9 97.6,361.3 97.2,364.7 96.5,365.5 96.2,365.8 95.8,365.8 95.1,365.5 94.8,362.9 94.4,358.1 93.7,357.3 93.4,361.0 93.0,364.8 92.3,365.4 92.0,363.2 91.6,365.1 90.9,361.5 90.6,360.5 90.2,361.1 89.5,360.2 89.2,361.0 88.8,361.8 88.1,361.2 87.8,360.9 87.4,357.3 86.7,359.3 86.4,363.2 86.0,363.8 85.3,362.9 85.0,361.2 84.6,364.3 84.2,362.0 83.9,361.8 83.3,362.4 83.2,362.0 82.5,360.7 82.4,362.2 81.8,360.5 81.5,362.8 81.1,361.9 80.6,360.9 80.4,358.1 79.7,357.4 79.4,357.4 79.0,351.3 78.3,341.9 78.1,345.4 77.6,340.9 76.9,341.3 76.7,340.3 76.2,344.1 75.5,350.6 75.3,349.9 74.8,343.4 74.1,335.3 74.1,336.6 73.4,333.6 73.0,337.4 72.7,335.5 72.0,345.3 71.9,343.7 71.3,337.3 70.9,337.7 70.6,335.3 69.9,341.3 69.8,340.2 69.2,349.8 68.5,357.5 68.5,358.8 67.8,344.2 67.5,345.3 67.1,343.5 66.4,360.5 66.1,361.0 65.7,361.1 65.3,358.1 65.0,357.4 64.7,356.5 64.3,349.8 63.6,346.9 63.4,349.1 62.9,338.6 62.2,326.5 62.2,326.5 61.5,333.6 60.8,339.7" fill="#b8b8b8"/>
<polyline points="60.8,334.6 62.2,319.4 63.4,341.9 64.7,345.9 65.3,354.4 66.1,355.3 67.5,331.5 68.5,353.7 69.8,336.0 70.9,328.5 71.9,338.2 73.0,330.4 74.1,329.0 75.3,344.2 76.7,334.6 78.1,335.2 79.4,351.0 80.6,337.4 81.5,353.2 82.4,355.3 83.3,342.3 84.2,356.0 85.0,356.8 86.4,352.9 87.8,348.4 89.2,356.3 90.6,348.6 92.0,358.0 93.4,349.4 94.8,351.2 96.2,359.8 97.6,349.5 99.0,358.1 100.4,352.5 101.8,354.3 103.2,351.9 104.6,358.4 106.0,356.2 107.4,363.3 108.8,356.7 110.2,362.9 111.6,355.6 113.0,361.4 114.4,351.3 115.8,357.0 117.2,347.0 118.6,354.2 120.0,350.8 121.4,342.7 122.5,347.6 124.2,343.4 125.6,346.9 127.0,355.6 128.4,353.8 129.8,348.8 131.2,356.5 132.6,346.8 134.0,356.5 135.4,349.9 136.8,355.3 138.2,349.7 139.6,355.3 141.0,348.4 142.4,357.9 143.8,352.8 145.2,357.2 146.6,354.7 148.0,360.1 149.4,352.2 150.8,361.1 152.2,354.1 153.6,358.2 155.0,356.4 156.4,355.6 157.8,349.2 159.2,355.5 160.6,350.7 162.0,357.0 163.4,353.7 164.8,360.2 166.2,351.5 167.6,356.5 169.0,345.6 170.4,353.7 171.8,344.7 173.2,347.7 174.6,341.3 176.0,346.6 177.7,339.6 178.8,345.6 180.2,344.3 181.6,344.6 183.0,347.9 185.0,335.2 185.8,340.5 187.2,340.8 188.6,352.2 190.0,353.6 191.4,349.4 192.8,352.3 194.2,345.7 195.6,348.2 197.0,341.5 198.4,345.0 199.8,337.7 201.2,338.9 202.8,336.2 204.0,337.5 205.4,346.8 206.8,342.6 208.2,346.4 209.6,340.1 211.0,348.2 212.4,343.9 213.8,348.4 215.2,343.1 216.6,348.7 218.0,342.4 219.4,352.5 220.8,344.4 222.2,353.1 223.6,353.0 225.0,342.7 226.4,342.3 227.8,348.5 229.2,341.7 230.6,344.6 232.0,347.4 233.4,339.6 234.8,338.3 236.2,317.7 237.1,309.4 239.0,336.0 240.4,347.9 241.8,345.5 243.2,343.7 244.6,334.0 246.6,330.5 247.4,328.7 248.8,337.2 250.2,335.5 251.6,339.6 253.0,331.2 254.4,335.0 255.8,330.9 257.2,332.4 258.6,328.8 260.3,329.4 261.4,328.1 262.8,332.5 264.2,327.7 265.6,328.4 266.3,325.5 267.0,334.2 268.4,348.3 269.8,352.7 271.2,352.7 272.6,354.5 274.0,350.6 275.4,355.8 276.8,353.2 278.2,358.3 279.6,355.0 281.0,351.0 282.4,347.1 283.8,338.8 285.2,333.9 286.6,326.3 288.0,323.6 289.4,317.6 290.8,314.4 292.2,309.0 293.6,312.2 295.0,312.0 296.4,318.2 297.8,318.1 299.2,321.6 300.6,321.3 302.0,318.5 303.4,318.5 304.8,309.5 306.2,305.6 307.6,295.8 309.0,292.2 310.4,294.9 311.8,300.6 313.2,302.5 315.0,299.0 316.0,302.1 317.4,313.6 318.8,314.1 320.2,320.8 321.6,321.2 323.0,329.0 324.4,329.6 325.8,335.7 327.2,336.7 328.6,337.7 330.0,343.9 331.4,343.2 332.8,343.6 334.2,340.4 335.6,339.2 337.0,324.2 338.4,312.7 339.8,304.8 341.2,295.7 342.6,289.7 344.0,292.0 345.4,298.0 346.8,300.6 348.2,313.0 349.6,320.9 351.0,334.2 352.4,344.0 353.8,355.2 355.2,354.9 356.6,359.0 358.0,360.0 359.4,356.3 360.8,356.3 362.2,350.7 363.6,350.9 365.0,344.7 366.4,336.0 367.8,331.4 369.2,324.0 370.6,321.4 371.9,315.1 373.4,321.2 374.8,328.9 376.2,329.6 377.6,333.3 379.0,330.6 380.4,333.5 381.8,332.3 383.2,332.5 384.6,324.2 386.0,318.9 387.4,308.8 388.8,304.6 390.2,297.3 391.9,290.2 393.0,293.3 394.4,294.9 395.8,301.0 397.2,306.3 398.6,315.4 400.0,325.0 401.4,332.2 402.8,343.4 404.2,349.4 405.6,351.6 407.0,355.6 408.4,353.7 409.8,354.6 411.2,358.2 412.6,355.0 414.0,358.3 415.4,355.8 416.8,357.8 418.2,355.6 419.6,357.4 421.0,355.0 422.4,356.6 423.8,354.5 425.2,356.2 426.6,355.2 428.0,355.1 429.4,355.8 430.8,353.8 432.2,356.5 433.6,354.3 435.0,355.5 436.4,354.0 437.8,355.6 439.2,355.4 440.6,355.4 442.0,353.1 443.4,355.1 444.8,353.5 446.2,353.0 447.6,354.7 449.0,353.5 450.4,355.0 451.8,353.3 453.2,354.5 454.6,353.3 456.0,354.7 457.4,353.7 458.8,355.2 460.2,352.8 461.6,355.3 463.0,352.8 464.4,355.3 465.8,352.9 467.2,354.6 468.6,353.0 470.0,354.5" fill="none" stroke="#f2f200" stroke-width="1.5" stroke-linejoin="round"/>
<polygon points="60.7,403.0 61.4,379.6 61.6,379.7 62.1,372.2 62.6,362.5 62.8,366.4 63.4,377.0 63.5,377.8 64.0,388.4 64.2,390.6 64.9,374.8 65.3,365.5 65.6,365.4 66.3,379.5 66.6,373.5 67.0,375.1 67.7,351.5 67.7,349.3 68.4,385.4 68.7,400.0 69.1,403.5 69.7,385.7 69.8,384.0 70.3,366.5 70.5,367.0 71.2,366.8 71.9,367.5 71.9,366.1 72.6,362.1 73.3,361.0 73.3,362.9 73.9,361.0 74.0,359.6 74.7,371.8 75.3,382.4 75.4,382.5 76.0,374.6 76.1,374.5 76.6,362.4 76.8,362.6 77.5,382.2 77.9,390.1 78.2,391.5 78.9,383.1 79.2,378.1 79.6,376.8 80.3,378.6 80.5,375.4 81.0,388.5 81.4,389.2 81.7,387.5 82.3,387.0 82.4,386.7 83.1,387.4 83.2,387.7 83.8,390.0 84.1,389.5 84.5,389.3 85.0,390.4 85.0,389.2 85.2,391.7 85.9,390.4 86.4,390.7 86.6,389.4 87.3,389.0 87.8,389.1 88.0,389.2 88.7,391.1 89.2,387.3 89.4,391.4 90.1,390.3 90.6,391.8 90.8,390.2 91.5,390.7 92.0,390.5 92.2,392.2 92.9,390.8 93.4,389.0 93.6,395.3 94.3,396.9 94.8,396.7 95.0,396.8 95.7,396.5 96.2,395.9 96.4,396.2 97.1,397.4 97.6,399.1 97.8,394.9 98.5,395.5 99.0,396.1 99.2,393.0 99.9,393.8 100.4,394.1 100.6,390.7 101.3,395.9 101.8,394.6 102.0,397.7 102.7,400.6 103.2,400.2 103.4,399.2 104.1,398.6 104.6,400.1 104.8,400.1 105.5,398.3 106.0,400.5 106.2,395.9 106.9,395.4 107.4,395.1 107.6,395.4 108.3,397.8 108.8,397.9 109.0,400.4 109.7,399.2 110.2,400.7 110.4,398.9 111.1,400.2 111.6,397.6 111.8,396.8 112.5,396.8 113.0,398.1 113.2,397.3 113.9,395.2 114.4,396.1 114.6,399.2 115.3,394.1 115.8,394.8 116.0,397.5 116.7,395.9 117.2,395.7 117.4,399.5 118.1,397.0 118.6,396.9 118.8,394.1 119.5,395.4 120.0,394.0 120.2,393.3 120.9,393.4 121.4,395.7 121.6,390.5 122.3,394.3 122.8,393.8 123.0,392.5 123.7,393.7 124.2,394.2 124.4,392.8 125.1,392.4 125.6,389.6 125.8,392.6 126.5,392.8 127.0,394.3 127.2,392.3 127.9,391.9 128.4,393.4 128.6,393.0 129.3,392.1 129.8,394.2 130.0,397.0 130.7,394.9 131.2,392.6 131.4,393.2 132.1,395.0 132.6,392.3 132.8,394.5 133.5,390.7 134.0,393.1 134.2,390.3 134.9,390.7 135.4,389.9 135.6,390.3 136.3,390.6 136.8,391.8 137.0,397.8 137.7,395.4 138.2,396.4 138.4,395.8 139.1,395.1 139.6,397.8 139.8,397.6 140.5,395.8 141.0,397.5 141.2,397.3 141.9,397.2 142.4,396.8 142.6,394.1 143.3,393.5 143.8,392.3 144.0,393.2 144.7,393.2 145.2,392.7 145.4,390.0 146.1,391.2 146.6,389.8 146.8,388.4 147.5,387.5 148.0,391.2 148.2,391.3 148.9,390.7 149.4,390.9 149.6,391.7 150.3,393.9 150.8,392.9 151.0,397.7 151.7,397.3 152.2,397.1 152.4,397.7 153.1,396.7 153.6,398.6 153.8,396.9 154.5,394.9 155.0,395.4 155.2,394.9 155.9,394.2 156.4,397.6 156.6,395.8 157.3,396.5 157.8,393.0 158.0,393.3 158.7,394.7 159.2,390.4 159.4,393.0 160.1,392.4 160.6,392.4 160.8,390.6 161.5,391.4 162.0,392.0 162.2,389.4 162.9,391.9 163.4,393.5 163.6,392.8 164.3,393.8 164.8,392.8 165.0,394.1 165.7,392.6 166.2,395.4 166.4,395.7 167.1,396.8 167.6,397.5 167.8,398.0 168.5,395.8 169.0,395.6 169.2,394.2 169.9,393.4 170.4,391.9 170.6,393.9 171.3,395.3 171.8,394.2 172.0,394.2 172.7,392.9 173.2,393.5 173.4,389.4 174.1,389.4 174.6,383.5 174.8,380.6 175.5,377.5 176.0,373.4 176.2,373.3 176.9,367.7 177.6,366.1 177.7,364.4 178.3,365.5 178.8,368.4 179.0,374.2 179.7,376.9 180.2,381.0 180.4,383.4 181.1,384.2 181.6,382.8 181.8,383.5 182.5,384.2 183.0,386.6 183.2,389.5 183.9,391.8 184.4,393.5 184.6,391.2 185.3,391.8 185.8,392.2 186.0,391.7 186.7,391.9 187.2,390.4 187.4,397.7 188.1,400.8 188.6,400.7 188.8,400.4 189.5,400.4 190.0,400.1 190.2,396.1 190.9,396.7 191.4,399.2 191.6,396.1 192.3,396.7 192.8,389.8 193.0,389.4 193.7,386.0 194.2,389.3 194.4,386.8 195.1,387.2 195.6,384.7 195.8,385.6 196.5,382.3 197.0,384.8 197.2,383.5 197.9,383.5 198.4,382.5 198.6,380.9 199.3,380.1 199.8,380.9 200.0,380.6 200.7,380.8 201.2,379.6 201.4,382.0 202.1,381.0 202.8,378.1 202.8,378.4 203.5,377.5 204.0,379.5 204.2,378.7 204.9,380.6 205.4,380.0 205.6,380.3 206.3,380.7 206.8,384.3 207.0,383.7 207.7,384.5 208.2,382.4 208.4,383.4 209.1,385.1 209.6,385.7 209.8,385.4 210.5,385.7 211.0,385.7 211.2,386.9 211.9,385.2 212.4,383.8 212.6,386.2 213.3,385.1 213.8,384.5 214.0,385.7 214.7,388.3 215.2,387.7 215.4,386.2 216.1,386.3 216.6,385.0 216.8,386.6 217.5,385.8 218.0,384.9 218.2,386.1 218.9,383.6 219.4,383.7 219.6,385.4 220.3,385.1 220.8,384.5 221.0,384.1 221.7,383.2 222.2,383.0 222.4,384.8 223.1,384.1 223.6,383.1 223.8,384.6 224.5,383.4 225.0,386.2 225.2,384.6 225.9,385.1 226.4,384.5 226.6,386.2 227.3,385.8 227.8,386.0 228.0,388.8 228.7,389.2 229.2,387.5 229.4,385.0 230.1,385.8 230.6,385.3 230.8,385.7 231.5,383.7 232.0,386.8 232.2,384.7 232.9,383.6 233.4,384.4 233.6,384.2 234.3,382.4 234.8,369.9 235.0,359.3 235.7,357.0 236.2,345.7 236.4,344.1 237.1,349.2 237.1,347.6 237.8,349.5 238.5,356.7 239.0,355.5 239.2,366.3 239.9,375.9 240.4,376.5 240.6,380.8 241.3,382.4 241.8,383.3 242.0,382.4 242.7,381.3 243.2,377.8 243.4,377.1 244.1,371.4 244.8,369.4 244.8,368.4 245.5,372.3 246.0,373.4 246.2,373.8 246.9,377.1 247.4,378.1 247.6,378.9 248.3,380.6 248.8,382.4 249.0,384.1 249.7,386.6 250.2,387.9 250.4,385.6 251.1,384.4 251.6,387.7 251.8,384.6 252.5,386.3 253.0,386.8 253.2,385.8 253.9,385.2 254.4,385.9 254.6,385.5 255.3,387.5 255.8,388.4 256.0,391.0 256.7,390.3 257.2,391.0 257.4,391.1 258.1,389.1 258.6,390.8 258.8,390.6 259.5,387.8 260.0,387.8 260.2,387.9 260.9,391.7 261.4,391.0 261.6,389.6 262.3,388.0 262.8,387.0 263.0,386.6 263.7,386.2 264.2,378.4 264.4,372.9 265.1,374.1 265.6,372.7 265.8,373.7 266.3,376.4 266.5,374.4 267.0,374.5 267.2,373.6 267.9,383.2 268.4,386.0 268.6,390.2 269.3,392.9 269.8,393.1 270.0,397.6 270.7,400.3 271.2,399.3 271.4,401.7 272.1,398.3 272.6,398.2 272.8,394.0 273.5,395.4 274.0,394.8 274.2,396.2 274.9,394.5 275.4,395.5 275.6,397.3 276.3,396.2 276.8,397.2 277.0,397.2 277.7,398.6 278.2,397.0 278.4,397.1 279.1,397.3 279.6,398.7 279.8,392.4 280.5,393.7 281.0,393.8 281.2,392.4 281.9,388.4 282.4,381.2 282.6,381.6 283.3,378.8 283.8,377.3 284.0,377.8 284.7,376.7 285.2,378.3 285.4,376.7 286.1,373.5 286.6,367.7 286.8,368.9 287.5,367.9 288.0,370.1 288.2,369.0 288.9,366.2 289.4,362.5 289.6,363.5 290.3,361.1 290.8,362.9 291.0,361.5 291.7,361.2 292.2,360.2 292.4,361.0 293.1,364.1 293.1,363.2 293.8,363.8 294.5,364.0 295.0,363.9 295.2,363.6 295.9,365.5 296.4,367.4 296.6,368.9 297.3,368.5 297.8,367.2 298.0,367.6 298.7,369.8 299.2,368.8 299.4,368.9 300.1,369.7 300.6,369.3 300.8,371.9 301.5,368.6 302.0,367.8 302.2,370.8 302.9,368.0 303.4,367.7 303.6,368.7 304.3,366.4 304.8,362.5 305.0,362.9 305.7,359.0 306.2,355.3 306.4,356.4 307.1,356.1 307.6,353.0 307.8,354.0 308.5,351.4 309.0,349.0 309.2,347.0 309.9,349.0 310.1,348.1 310.6,350.3 311.3,349.5 311.8,350.2 312.0,349.7 312.7,352.6 313.2,354.3 313.4,353.2 314.1,356.5 314.6,356.9 314.8,354.6 315.5,355.1 316.0,356.8 316.2,357.1 316.9,361.0 317.4,359.7 317.6,361.4 318.3,362.5 318.8,362.3 319.0,362.5 319.7,367.0 320.2,373.2 320.4,373.3 321.1,374.5 321.6,373.4 321.8,374.0 322.5,377.8 323.0,383.2 323.2,380.5 323.9,382.9 324.4,382.1 324.6,385.1 325.3,387.4 325.8,386.9 326.0,385.6 326.7,385.5 327.2,385.2 327.4,386.3 328.1,386.0 328.6,386.9 328.8,385.3 329.5,386.2 330.0,384.2 330.2,383.1 330.9,387.2 331.4,385.6 331.6,386.9 332.3,389.8 332.8,388.8 333.0,388.4 333.7,385.0 334.2,379.6 334.4,380.5 335.1,377.1 335.6,369.6 335.8,370.9 336.5,363.4 337.0,355.6 337.2,355.5 337.9,353.8 338.4,348.7 338.6,351.6 339.3,344.6 339.8,334.0 340.0,335.6 340.7,332.2 341.4,333.7 341.6,332.5 342.1,333.6 342.6,334.4 342.8,334.2 343.5,333.2 344.0,341.9 344.2,343.8 344.9,342.1 345.4,345.2 345.6,345.1 346.3,351.5 346.8,356.4 347.0,358.3 347.7,364.9 348.2,370.7 348.4,369.7 349.1,373.0 349.6,375.6 349.8,376.0 350.5,382.3 351.0,389.4 351.2,389.9 351.9,392.7 352.4,392.6 352.6,391.9 353.3,397.1 353.8,399.4 354.0,399.6 354.7,399.3 355.2,399.0 355.4,399.5 356.1,403.3 356.6,401.2 356.8,400.7 357.5,404.4 358.0,401.1 358.2,400.3 358.9,395.4 359.4,394.9 359.6,392.9 360.3,391.1 360.8,392.3 361.0,392.1 361.7,387.9 362.2,385.5 362.4,387.0 363.1,385.5 363.6,385.4 363.8,384.1 364.5,380.8 365.0,378.2 365.2,378.8 365.9,382.1 366.4,379.4 366.6,380.2 367.3,376.3 367.8,373.0 368.0,373.9 368.7,374.8 369.2,373.3 369.4,372.9 370.1,367.0 370.6,361.9 370.8,363.3 371.5,356.2 372.0,354.6 372.2,352.8 372.9,353.6 372.9,353.4 373.6,351.9 374.3,353.4 374.8,355.0 375.0,358.1 375.7,360.4 376.2,363.6 376.4,364.2 377.1,364.2 377.6,366.1 377.8,364.5 378.5,365.2 379.0,364.8 379.2,362.9 379.9,368.4 380.4,366.6 380.6,365.7 381.3,366.0 381.8,365.4 382.0,366.8 382.7,363.5 383.2,364.0 383.4,361.4 384.1,359.8 384.6,355.4 384.8,355.5 385.5,355.6 386.0,352.9 386.2,351.6 386.9,348.0 387.4,342.4 387.6,343.6 388.3,341.6 388.8,340.3 389.0,340.2 389.7,334.2 390.2,332.7 390.4,332.7 391.1,333.4 391.6,327.7 391.8,331.5 392.5,329.4 392.5,331.0 393.2,331.5 393.9,333.6 394.4,331.8 394.6,335.0 395.3,336.6 395.8,336.0 396.0,335.8 396.7,342.8 397.2,348.6 397.4,347.4 398.1,349.3 398.6,352.7 398.8,350.2 399.5,359.9 400.0,363.6 400.2,363.9 400.9,368.3 401.4,369.2 401.6,371.9 402.3,377.7 402.8,383.6 403.0,381.7 403.7,386.9 404.2,385.9 404.4,387.3 405.1,394.3 405.6,397.3 405.8,395.1 406.5,397.1 407.0,397.2 407.2,397.5 407.9,398.4 408.4,400.2 408.6,398.5 409.3,400.7 409.8,398.9 410.0,399.3 410.7,399.2 411.2,398.7 411.4,398.1 412.1,397.9 412.6,397.6 412.8,396.2 413.5,398.1 414.0,396.9 414.2,396.8 414.9,396.9 415.4,398.0 415.6,395.6 416.3,399.4 416.8,398.4 417.0,397.4 417.7,399.6 418.2,398.7 418.4,398.2 419.1,398.9 419.6,398.7 419.8,397.8 420.5,398.7 421.0,398.9 421.2,400.2 421.9,397.6 422.4,396.5 422.6,399.4 423.3,399.6 423.8,397.5 424.0,400.3 424.7,400.0 425.2,397.4 425.4,397.9 426.1,396.5 426.6,398.2 426.8,395.8 427.5,397.4 428.0,395.4 428.2,395.7 428.9,397.2 429.4,395.4 429.6,396.9 430.3,398.9 430.8,398.3 431.0,399.3 431.7,398.1 432.2,398.9 432.4,396.5 433.1,398.9 433.6,396.2 433.8,396.7 434.5,399.3 435.0,397.7 435.2,397.8 435.9,398.2 436.4,397.6 436.6,395.2 437.3,397.6 437.8,398.7 438.0,398.4 438.7,398.0 439.2,394.9 439.4,397.9 440.1,396.8 440.6,398.6 440.8,397.5 441.5,397.5 442.0,397.5 442.2,396.7 442.9,396.6 443.4,396.4 443.6,397.7 444.3,396.0 444.8,396.2 445.0,395.5 445.7,397.2 446.2,394.8 446.4,395.8 447.1,398.1 447.6,395.9 447.8,397.9 448.5,397.6 449.0,397.0 449.2,396.4 449.9,394.2 450.4,396.9 450.6,396.1 451.3,396.2 451.8,397.0 452.0,398.4 452.7,397.3 453.2,399.4 453.4,396.8 454.1,398.8 454.6,396.9 454.8,396.1 455.5,397.9 456.0,394.7 456.2,394.1 456.9,396.5 457.4,397.7 457.6,396.0 458.3,395.0 458.8,396.5 459.0,395.4 459.7,395.4 460.2,394.8 460.4,394.3 461.1,395.2 461.6,394.9 461.8,394.3 462.5,395.8 463.0,393.3 463.2,391.7 463.9,395.5 464.4,393.4 464.6,393.2 465.3,392.6 465.8,393.6 466.0,396.3 466.7,394.8 467.2,395.0 467.4,397.8 468.1,397.9 468.6,398.4 468.8,396.3 469.5,398.4 470.0,397.6 470.2,396.5 470.2,415.2 470.0,415.0 469.5,414.9 468.8,416.2 468.6,415.3 468.1,413.1 467.4,413.3 467.2,412.7 466.7,412.0 466.0,413.1 465.8,414.3 465.3,412.4 464.6,412.3 464.4,411.3 463.9,412.0 463.2,412.2 463.0,411.7 462.5,409.5 461.8,409.1 461.6,408.6 461.1,409.8 460.4,409.2 460.2,411.5 459.7,409.4 459.0,412.0 458.8,408.7 458.3,409.8 457.6,410.4 457.4,409.9 456.9,410.5 456.2,410.6 456.0,412.2 455.5,411.7 454.8,413.3 454.6,409.0 454.1,408.5 453.4,412.9 453.2,410.4 452.7,412.3 452.0,413.2 451.8,411.3 451.3,412.5 450.6,411.2 450.4,412.4 449.9,412.4 449.2,412.7 449.0,411.6 448.5,414.5 447.8,411.8 447.6,411.3 447.1,409.0 446.4,409.7 446.2,409.9 445.7,409.9 445.0,410.4 444.8,411.7 444.3,412.8 443.6,412.4 443.4,412.1 442.9,413.3 442.2,411.8 442.0,411.2 441.5,413.6 440.8,413.6 440.6,415.8 440.1,412.3 439.4,412.0 439.2,413.5 438.7,413.4 438.0,413.3 437.8,413.7 437.3,411.4 436.6,411.7 436.4,410.0 435.9,409.6 435.2,410.9 435.0,411.6 434.5,410.3 433.8,412.1 433.6,412.1 433.1,412.2 432.4,411.1 432.2,412.7 431.7,411.6 431.0,409.4 430.8,410.1 430.3,411.0 429.6,411.1 429.4,410.8 428.9,410.7 428.2,410.2 428.0,409.7 427.5,410.8 426.8,414.3 426.6,413.7 426.1,412.5 425.4,416.2 425.2,414.4 424.7,415.2 424.0,413.6 423.8,413.3 423.3,412.4 422.6,414.5 422.4,411.7 421.9,413.0 421.2,415.5 421.0,415.1 420.5,414.2 419.8,415.5 419.6,415.8 419.1,414.6 418.4,416.1 418.2,414.0 417.7,413.0 417.0,415.1 416.8,412.5 416.3,414.8 415.6,418.2 415.4,418.9 414.9,416.5 414.2,415.2 414.0,415.4 413.5,415.0 412.8,416.8 412.6,417.2 412.1,414.0 411.4,413.6 411.2,413.0 410.7,415.5 410.0,415.3 409.8,412.9 409.3,412.8 408.6,416.6 408.4,415.5 407.9,413.2 407.2,414.3 407.0,414.9 406.5,411.1 405.8,411.1 405.6,409.9 405.1,412.0 404.4,412.5 404.2,411.6 403.7,413.0 403.0,410.3 402.8,410.9 402.3,405.2 401.6,397.4 401.4,400.0 400.9,397.8 400.2,392.9 400.0,393.2 399.5,388.5 398.8,384.7 398.6,383.4 398.1,380.9 397.4,374.3 397.2,374.6 396.7,371.5 396.0,363.7 395.8,365.7 395.3,363.1 394.6,359.0 394.4,360.1 393.9,354.1 393.2,348.3 392.5,345.9 392.5,348.3 391.8,351.7 391.6,353.1 391.1,353.3 390.4,354.5 390.2,353.3 389.7,358.3 389.0,365.7 388.8,366.0 388.3,363.5 387.6,366.8 387.4,365.5 386.9,371.9 386.2,375.9 386.0,374.2 385.5,374.0 384.8,379.9 384.6,375.7 384.1,379.6 383.4,383.4 383.2,386.1 382.7,384.7 382.0,385.7 381.8,382.7 381.3,382.7 380.6,384.8 380.4,384.4 379.9,381.8 379.2,378.4 379.0,378.6 378.5,376.7 377.8,380.1 377.6,380.7 377.1,382.2 376.4,383.5 376.2,378.8 375.7,382.1 375.0,381.5 374.8,382.8 374.3,379.3 373.6,376.8 372.9,380.0 372.9,380.9 372.2,388.0 372.0,384.7 371.5,385.2 370.8,385.5 370.6,385.6 370.1,387.1 369.4,393.2 369.2,391.8 368.7,394.0 368.0,394.2 367.8,394.6 367.3,393.0 366.6,396.3 366.4,395.4 365.9,396.6 365.2,396.0 365.0,396.4 364.5,400.7 363.8,403.0 363.6,403.4 363.1,404.4 362.4,406.0 362.2,403.3 361.7,407.0 361.0,410.9 360.8,412.4 360.3,414.1 359.6,413.0 359.4,412.8 358.9,413.5 358.2,415.8 358.0,416.2 357.5,415.9 356.8,416.5 356.6,417.2 356.1,417.4 355.4,416.2 355.2,416.6 354.7,414.8 354.0,418.2 353.8,415.9 353.3,413.8 352.6,413.2 352.4,411.3 351.9,408.8 351.2,408.6 351.0,411.3 350.5,406.4 349.8,403.3 349.6,402.2 349.1,401.0 348.4,399.3 348.2,400.7 347.7,397.0 347.0,387.0 346.8,387.1 346.3,383.4 345.6,382.1 345.4,380.8 344.9,377.9 344.2,367.5 344.0,368.1 343.5,363.1 342.8,359.6 342.6,359.3 342.1,355.1 341.6,363.6 341.4,364.0 340.7,364.5 340.0,369.0 339.8,368.6 339.3,376.6 338.6,384.5 338.4,385.3 337.9,385.1 337.2,396.4 337.0,394.8 336.5,397.0 335.8,402.1 335.6,401.8 335.1,402.5 334.4,402.3 334.2,400.0 333.7,401.9 333.0,400.9 332.8,402.1 332.3,404.9 331.6,400.3 331.4,401.3 330.9,402.3 330.2,400.5 330.0,401.5 329.5,399.6 328.8,399.2 328.6,397.9 328.1,398.5 327.4,404.9 327.2,402.9 326.7,403.9 326.0,402.6 325.8,403.9 325.3,404.9 324.6,403.4 324.4,402.1 323.9,403.6 323.2,401.5 323.0,400.3 322.5,397.0 321.8,395.7 321.6,394.5 321.1,394.3 320.4,391.9 320.2,391.4 319.7,390.5 319.0,386.6 318.8,385.6 318.3,385.3 317.6,384.2 317.4,385.6 316.9,381.9 316.2,373.7 316.0,376.0 315.5,372.6 314.8,373.9 314.6,373.4 314.1,372.0 313.4,373.3 313.2,373.0 312.7,372.4 312.0,373.1 311.8,370.8 311.3,370.2 310.6,366.9 310.1,365.9 309.9,365.2 309.2,368.7 309.0,367.3 308.5,369.6 307.8,374.1 307.6,376.5 307.1,377.9 306.4,381.4 306.2,380.6 305.7,380.9 305.0,383.5 304.8,384.4 304.3,383.9 303.6,384.5 303.4,384.5 302.9,384.3 302.2,386.3 302.0,386.5 301.5,385.6 300.8,388.3 300.6,386.7 300.1,386.4 299.4,387.6 299.2,389.3 298.7,387.4 298.0,385.3 297.8,390.6 297.3,384.6 296.6,380.3 296.4,381.3 295.9,381.5 295.2,379.8 295.0,379.5 294.5,378.0 293.8,378.4 293.1,380.7 293.1,378.2 292.4,377.8 292.2,376.4 291.7,377.5 291.0,383.1 290.8,381.5 290.3,383.3 289.6,383.6 289.4,383.5 288.9,383.5 288.2,387.9 288.0,391.7 287.5,390.1 286.8,387.6 286.6,388.6 286.1,390.2 285.4,394.7 285.2,394.1 284.7,399.2 284.0,407.5 283.8,405.5 283.3,407.3 282.6,405.4 282.4,405.6 281.9,407.9 281.2,415.8 281.0,417.2 280.5,415.1 279.8,416.5 279.6,416.5 279.1,414.6 278.4,415.7 278.2,412.5 277.7,408.9 277.0,408.4 276.8,409.7 276.3,411.4 275.6,410.0 275.4,408.9 274.9,406.7 274.2,407.5 274.0,410.5 273.5,412.4 272.8,411.5 272.6,411.8 272.1,413.1 271.4,412.1 271.2,409.6 270.7,410.2 270.0,411.6 269.8,411.3 269.3,411.6 268.6,411.7 268.4,408.7 267.9,404.3 267.2,402.7 267.0,400.8 266.5,395.9 266.3,396.6 265.8,396.0 265.6,398.5 265.1,398.1 264.4,398.7 264.2,397.3 263.7,400.6 263.0,405.0 262.8,405.0 262.3,402.0 261.6,403.5 261.4,404.2 260.9,404.0 260.2,403.3 260.0,408.7 259.5,406.5 258.8,408.0 258.6,407.3 258.1,407.4 257.4,407.0 257.2,404.3 256.7,403.4 256.0,403.8 255.8,405.0 255.3,406.2 254.6,405.6 254.4,401.4 253.9,402.4 253.2,402.4 253.0,402.5 252.5,403.7 251.8,402.6 251.6,400.4 251.1,400.0 250.4,401.0 250.2,400.1 249.7,400.5 249.0,401.2 248.8,399.2 248.3,396.9 247.6,398.0 247.4,394.9 246.9,398.3 246.2,397.7 246.0,396.2 245.5,399.2 244.8,398.1 244.8,399.8 244.1,397.0 243.4,399.1 243.2,397.7 242.7,395.5 242.0,394.3 241.8,399.3 241.3,399.4 240.6,399.8 240.4,400.4 239.9,399.1 239.2,399.4 239.0,392.8 238.5,387.5 237.8,383.0 237.1,369.6 237.1,370.9 236.4,381.0 236.2,395.0 235.7,397.4 235.0,396.0 234.8,396.9 234.3,396.5 233.6,398.2 233.4,402.8 232.9,402.3 232.2,401.5 232.0,402.4 231.5,403.6 230.8,401.7 230.6,401.7 230.1,398.0 229.4,398.0 229.2,399.8 228.7,399.9 228.0,399.0 227.8,400.6 227.3,402.4 226.6,401.3 226.4,399.5 225.9,401.3 225.2,400.2 225.0,400.2 224.5,399.1 223.8,400.2 223.6,400.4 223.1,398.7 222.4,401.4 222.2,402.2 221.7,399.3 221.0,401.7 220.8,399.9 220.3,402.1 219.6,404.5 219.4,402.9 218.9,403.9 218.2,401.6 218.0,400.3 217.5,400.9 216.8,399.1 216.6,402.3 216.1,402.1 215.4,401.1 215.2,402.9 214.7,400.3 214.0,402.7 213.8,400.6 213.3,400.6 212.6,399.2 212.4,397.9 211.9,398.3 211.2,400.1 211.0,398.3 210.5,397.1 209.8,400.2 209.6,403.4 209.1,404.0 208.4,404.4 208.2,403.0 207.7,404.2 207.0,404.1 206.8,400.1 206.3,401.2 205.6,399.6 205.4,400.6 204.9,399.2 204.2,400.8 204.0,398.8 203.5,392.8 202.8,395.0 202.8,392.8 202.1,396.4 201.4,395.5 201.2,396.8 200.7,396.0 200.0,395.9 199.8,399.0 199.3,400.3 198.6,399.9 198.4,400.0 197.9,397.8 197.2,398.9 197.0,398.9 196.5,400.4 195.8,398.2 195.6,400.5 195.1,400.9 194.4,400.4 194.2,408.7 193.7,410.0 193.0,409.9 192.8,409.3 192.3,409.5 191.6,411.8 191.4,416.5 190.9,419.4 190.2,418.4 190.0,418.5 189.5,417.2 188.8,417.8 188.6,418.1 188.1,414.4 187.4,412.0 187.2,412.5 186.7,412.0 186.0,412.7 185.8,408.0 185.3,409.7 184.6,411.6 184.4,409.6 183.9,408.1 183.2,408.6 183.0,406.7 182.5,406.0 181.8,402.1 181.6,399.2 181.1,398.3 180.4,399.8 180.2,398.8 179.7,400.4 179.0,398.2 178.8,398.5 178.3,393.9 177.7,395.6 177.6,391.6 176.9,395.7 176.2,398.1 176.0,401.5 175.5,403.6 174.8,404.0 174.6,406.0 174.1,405.0 173.4,406.3 173.2,408.9 172.7,409.5 172.0,408.8 171.8,407.9 171.3,408.0 170.6,406.5 170.4,409.4 169.9,410.6 169.2,411.7 169.0,409.0 168.5,410.8 167.8,409.3 167.6,408.2 167.1,408.9 166.4,409.0 166.2,408.6 165.7,408.3 165.0,408.5 164.8,410.7 164.3,410.8 163.6,411.2 163.4,410.3 162.9,410.3 162.2,409.1 162.0,410.2 161.5,412.5 160.8,410.8 160.6,411.6 160.1,412.9 159.4,411.1 159.2,408.0 158.7,407.1 158.0,406.8 157.8,408.5 157.3,409.7 156.6,411.6 156.4,410.3 155.9,410.9 155.2,411.9 155.0,415.0 154.5,417.3 153.8,417.2 153.6,416.1 153.1,415.9 152.4,413.9 152.2,413.5 151.7,413.0 151.0,412.1 150.8,411.2 150.3,412.5 149.6,413.2 149.4,407.2 148.9,407.6 148.2,411.7 148.0,410.6 147.5,409.9 146.8,407.5 146.6,406.3 146.1,409.6 145.4,407.7 145.2,408.1 144.7,407.3 144.0,409.6 143.8,413.2 143.3,415.8 142.6,414.4 142.4,413.9 141.9,414.5 141.2,415.4 141.0,413.1 140.5,413.0 139.8,415.5 139.6,413.6 139.1,413.1 138.4,412.5 138.2,412.1 137.7,411.4 137.0,409.0 136.8,409.9 136.3,412.9 135.6,407.8 135.4,407.6 134.9,405.5 134.2,411.3 134.0,409.7 133.5,409.9 132.8,408.1 132.6,406.1 132.1,407.7 131.4,410.4 131.2,414.1 130.7,413.6 130.0,415.2 129.8,411.0 129.3,414.7 128.6,413.2 128.4,408.8 127.9,409.5 127.2,409.8 127.0,410.6 126.5,409.3 125.8,410.2 125.6,407.1 125.1,408.0 124.4,411.0 124.2,409.1 123.7,407.5 123.0,408.1 122.8,409.9 122.3,410.6 121.6,413.2 121.4,411.6 120.9,412.0 120.2,410.0 120.0,412.9 119.5,413.3 118.8,411.1 118.6,413.0 118.1,415.1 117.4,410.8 117.2,412.7 116.7,409.3 116.0,411.3 115.8,416.1 115.3,416.2 114.6,414.9 114.4,414.2 113.9,415.5 113.2,415.1 113.0,412.6 112.5,412.3 111.8,413.7 111.6,413.8 111.1,415.7 110.4,416.1 110.2,420.1 109.7,418.5 109.0,418.3 108.8,421.8 108.3,420.4 107.6,418.5 107.4,416.7 106.9,415.1 106.2,415.2 106.0,418.0 105.5,415.8 104.8,415.2 104.6,413.8 104.1,413.9 103.4,415.2 103.2,412.2 102.7,413.2 102.0,413.3 101.8,414.6 101.3,412.0 100.6,411.9 100.4,410.3 99.9,410.5 99.2,411.6 99.0,409.8 98.5,412.4 97.8,411.4 97.6,414.9 97.1,416.5 96.4,416.5 96.2,412.7 95.7,416.0 95.0,416.3 94.8,412.6 94.3,411.9 93.6,411.4 93.4,411.3 92.9,410.3 92.2,409.8 92.0,406.5 91.5,406.7 90.8,406.0 90.6,408.7 90.1,407.4 89.4,407.5 89.2,404.3 88.7,402.8 88.0,401.4 87.8,404.3 87.3,406.3 86.6,404.7 86.4,406.6 85.9,405.4 85.2,403.2 85.0,407.3 85.0,405.8 84.5,408.3 84.1,413.9 83.8,415.5 83.2,413.4 83.1,414.8 82.4,416.6 82.3,414.7 81.7,405.6 81.4,405.1 81.0,405.4 80.5,404.6 80.3,405.9 79.6,393.0 79.2,393.1 78.9,391.4 78.2,402.3 77.9,403.1 77.5,392.0 76.8,377.7 76.6,378.0 76.1,388.0 76.0,388.3 75.4,394.1 75.3,393.7 74.7,381.7 74.0,371.4 73.9,371.8 73.3,372.0 73.3,372.3 72.6,375.5 71.9,379.0 71.9,378.0 71.2,378.9 70.5,380.7 70.3,377.6 69.8,398.4 69.7,398.8 69.1,420.0 68.7,420.2 68.4,399.0 67.7,362.1 67.7,362.1 67.0,398.2 66.6,397.1 66.3,390.8 65.6,383.1 65.3,380.0 64.9,386.0 64.2,406.1 64.0,404.0 63.5,389.9 63.4,391.8 62.8,376.7 62.6,377.6 62.1,384.4 61.6,396.3 61.4,395.0 60.7,413.7" fill="#b8b8b8"/>
<polyline points="60.7,407.1 61.6,386.2 62.6,369.4 63.4,382.5 64.0,398.9 65.3,372.0 66.6,392.4 67.7,354.8 68.7,413.9 69.7,393.2 70.3,372.7 71.9,372.2 73.3,366.2 73.9,365.1 75.3,387.8 76.0,382.7 76.6,368.1 77.9,397.6 79.2,383.1 80.5,398.4 81.4,399.4 82.3,393.9 83.2,410.0 84.1,397.5 85.0,398.9 85.0,395.2 86.4,399.5 87.8,395.0 89.2,397.2 90.6,401.3 92.0,395.9 93.4,405.2 94.8,401.8 96.2,410.9 97.6,402.3 99.0,405.7 100.4,398.9 101.8,406.6 103.2,407.9 104.6,404.4 106.0,410.6 107.4,402.2 108.8,414.1 110.2,405.9 111.6,408.0 113.0,402.4 114.4,409.6 115.8,402.2 117.2,402.3 118.6,407.5 120.0,399.4 121.4,405.1 122.8,398.6 124.2,403.1 125.6,397.7 127.0,404.5 128.4,398.0 129.8,407.6 131.2,401.5 132.6,398.3 134.0,403.5 135.4,396.5 136.8,405.2 138.2,401.6 139.6,408.4 141.0,402.2 142.4,408.8 143.8,399.2 145.2,402.9 146.6,395.1 148.0,403.9 149.4,396.8 150.8,406.3 152.2,402.4 153.6,410.4 155.0,400.8 156.4,405.8 157.8,401.0 159.2,397.3 160.6,405.7 162.0,397.0 163.4,405.5 164.8,398.6 166.2,403.0 167.6,403.7 169.0,404.8 170.4,398.9 171.8,402.7 173.2,398.3 174.6,396.5 176.0,388.1 177.7,378.0 178.8,386.2 180.2,394.1 181.6,389.3 183.0,398.5 184.4,404.3 185.8,397.4 187.2,407.3 188.6,406.2 190.0,412.8 191.4,402.5 192.8,404.0 194.2,392.3 195.6,394.8 197.0,388.8 198.4,393.4 199.8,386.6 201.2,389.5 202.8,387.0 204.0,386.1 205.4,394.4 206.8,387.8 208.2,398.7 209.6,390.2 211.0,392.9 212.4,391.5 213.8,393.5 215.2,395.9 216.6,393.2 218.0,391.4 219.4,396.5 220.8,390.0 222.2,395.8 223.6,389.5 225.0,395.7 226.4,390.5 227.8,394.4 229.2,392.8 230.6,391.1 232.0,397.1 233.4,390.0 234.8,391.6 236.2,363.4 237.1,350.8 239.0,380.0 240.4,394.4 241.8,388.1 243.2,390.5 244.8,383.6 246.0,390.6 247.4,385.9 248.8,392.0 250.2,395.4 251.6,391.1 253.0,398.0 254.4,391.5 255.8,399.7 257.2,395.3 258.6,402.0 260.0,394.6 261.4,398.9 262.8,393.8 264.2,392.6 265.6,381.4 266.3,380.8 267.0,390.1 268.4,397.4 269.8,406.2 271.2,405.9 272.6,406.9 274.0,400.9 275.4,401.4 276.8,404.6 278.2,403.4 279.6,410.5 281.0,399.1 282.4,400.7 283.8,388.7 285.2,382.7 286.6,383.6 288.0,374.5 289.4,376.0 290.8,367.9 292.2,371.8 293.1,368.7 295.0,373.3 296.4,373.4 297.8,374.5 299.2,381.9 300.6,380.7 302.0,374.5 303.4,378.1 304.8,375.2 306.2,368.8 307.6,362.4 309.0,360.6 310.1,356.6 311.8,359.6 313.2,366.7 314.6,361.3 316.0,367.7 317.4,368.7 318.8,379.4 320.2,380.0 321.6,385.8 323.0,388.4 324.4,394.7 325.8,397.9 327.2,391.2 328.6,393.5 330.0,391.0 331.4,396.0 332.8,394.8 334.2,395.4 335.6,387.0 337.0,378.9 338.4,362.7 339.8,356.9 341.6,340.1 342.6,347.3 344.0,350.3 345.4,360.9 346.8,375.4 348.2,380.6 349.6,395.3 351.0,397.4 352.4,404.0 353.8,404.8 355.2,411.1 356.6,410.6 358.0,407.2 359.4,406.4 360.8,397.9 362.2,398.5 363.6,391.8 365.0,390.8 366.4,384.7 367.8,387.1 369.2,379.7 370.6,380.6 372.0,369.5 372.9,363.5 374.8,369.0 376.2,375.9 377.6,370.4 379.0,373.6 380.4,372.5 381.8,379.3 383.2,371.5 384.6,369.9 386.0,362.3 387.4,359.5 388.8,349.0 390.2,347.1 391.6,337.5 392.5,339.0 394.4,341.9 395.8,353.0 397.2,357.4 398.6,369.6 400.0,375.9 401.4,387.7 402.8,392.1 404.2,406.3 405.6,402.4 407.0,404.1 408.4,408.4 409.8,404.2 411.2,409.5 412.6,403.2 414.0,411.0 415.4,403.3 416.8,408.4 418.2,404.3 419.6,409.4 421.0,403.8 422.4,407.6 423.8,404.4 425.2,408.7 426.6,403.6 428.0,402.1 429.4,405.8 430.8,403.3 432.2,403.3 433.6,405.6 435.0,403.0 436.4,405.9 437.8,402.9 439.2,407.7 440.6,406.0 442.0,402.5 443.4,406.2 444.8,401.7 446.2,405.8 447.6,402.3 449.0,407.1 450.4,402.2 451.8,406.5 453.2,403.1 454.6,402.7 456.0,405.5 457.4,400.8 458.8,405.0 460.2,401.1 461.6,404.2 463.0,399.5 464.4,406.8 465.8,401.4 467.2,407.9 468.6,403.6 470.0,409.0" fill="none" stroke="#8a0808" stroke-width="1.4" stroke-linejoin="round"/>
<polygon points="60.6,451.0 61.3,434.9 61.5,435.0 62.0,429.9 62.7,420.3 62.9,421.4 63.4,431.6 64.0,443.3 64.1,440.0 64.8,428.5 65.2,422.0 65.5,422.2 66.2,444.2 66.3,446.7 66.9,429.0 67.5,413.8 67.6,415.1 68.3,440.6 68.9,455.7 69.0,457.1 69.6,442.4 69.7,443.9 70.4,428.6 70.7,428.1 71.1,421.0 71.4,421.9 71.8,423.9 72.1,426.2 72.5,427.8 73.2,435.2 73.2,436.3 73.9,424.8 74.4,416.8 74.6,417.9 75.0,430.7 75.3,432.2 75.8,442.1 76.0,441.8 76.7,429.8 77.2,422.4 77.4,422.3 78.1,440.5 78.6,450.3 78.8,450.0 79.5,435.1 79.8,436.2 80.2,435.1 80.9,435.7 81.3,439.3 81.6,446.6 82.2,447.5 82.3,449.2 83.0,446.9 83.1,447.1 83.7,443.7 84.0,441.0 84.4,442.5 84.9,442.7 85.0,442.2 85.1,443.7 85.8,443.6 86.4,443.9 86.5,444.1 87.2,443.6 87.8,443.9 87.9,446.0 88.6,444.2 89.2,442.5 89.3,448.9 90.0,448.4 90.6,449.6 90.7,447.0 91.4,446.3 92.0,449.0 92.1,446.7 92.8,446.1 93.4,445.3 93.5,447.0 94.2,447.7 94.8,451.0 94.9,451.5 95.6,454.2 96.2,449.5 96.3,447.5 97.0,449.7 97.6,447.5 97.7,450.1 98.4,448.3 99.0,450.4 99.1,447.4 99.8,448.3 100.4,447.4 100.5,448.0 101.2,448.9 101.8,450.2 101.9,450.3 102.6,449.9 103.2,449.4 103.3,449.4 104.0,450.0 104.6,449.8 104.7,451.9 105.4,450.7 106.0,452.6 106.1,450.6 106.8,451.2 107.4,449.9 107.5,454.6 108.2,454.7 108.8,455.8 108.9,453.2 109.6,455.6 110.2,452.9 110.3,458.7 111.0,460.6 111.6,460.8 111.7,456.0 112.4,455.5 113.0,454.1 113.1,455.2 113.8,455.9 114.4,456.5 114.5,453.8 115.2,451.0 115.8,451.4 115.9,452.6 116.6,454.9 117.2,452.8 117.3,449.2 118.0,451.2 118.6,449.4 118.7,449.4 119.4,450.0 120.0,451.2 120.1,445.6 120.8,447.6 121.4,446.4 121.5,446.0 122.2,447.8 122.8,447.0 122.9,447.2 123.6,448.0 124.2,449.0 124.3,448.4 125.0,448.9 125.6,449.7 125.7,447.8 126.4,448.0 127.0,448.1 127.1,448.1 127.8,448.8 128.4,446.8 128.5,447.9 129.2,446.2 129.8,447.7 129.9,448.1 130.6,448.6 131.2,447.1 131.3,449.9 132.0,448.3 132.6,448.2 132.7,451.7 133.4,452.9 134.0,452.2 134.1,448.2 134.8,449.3 135.4,450.0 135.5,448.3 136.2,448.6 136.8,450.2 136.9,451.8 137.6,453.5 138.2,453.2 138.3,452.4 139.0,452.3 139.6,450.9 139.7,450.4 140.4,448.3 141.0,450.1 141.1,449.3 141.8,450.6 142.4,449.7 142.5,452.2 143.2,450.3 143.8,449.3 143.9,452.1 144.6,450.5 145.2,451.7 145.3,452.8 146.0,453.1 146.6,451.6 146.7,450.2 147.4,451.8 148.0,452.8 148.1,452.9 148.8,450.1 149.4,448.7 149.5,449.8 150.2,448.2 150.8,449.3 150.9,452.1 151.6,452.2 152.2,451.6 152.3,451.4 153.0,452.9 153.6,451.0 153.7,450.6 154.4,448.2 155.0,447.4 155.1,448.0 155.8,448.7 156.4,448.8 156.5,445.4 157.2,446.3 157.8,443.4 157.9,445.8 158.6,445.9 159.2,447.0 159.3,443.8 160.0,444.7 160.6,443.7 160.7,444.0 161.4,446.1 162.0,445.2 162.1,448.7 162.8,449.1 163.4,450.0 163.5,451.9 164.2,451.1 164.8,448.5 164.9,453.8 165.6,456.3 166.2,457.5 166.3,452.1 167.0,451.1 167.6,447.9 167.7,444.0 168.4,443.4 169.0,442.6 169.1,443.4 169.8,444.1 170.4,442.5 170.5,444.1 171.2,442.4 171.8,440.8 171.9,444.6 172.6,442.7 173.2,443.0 173.3,444.2 174.0,443.5 174.6,443.3 174.7,439.1 175.4,438.0 176.0,439.0 176.1,438.3 176.8,438.0 177.5,436.3 177.7,435.7 178.2,438.2 178.8,439.0 178.9,437.4 179.6,439.5 180.2,439.8 180.3,438.6 181.0,439.8 181.6,438.8 181.7,441.0 182.4,439.2 183.0,435.9 183.1,435.2 183.8,430.2 184.5,430.1 184.6,431.4 185.2,429.9 185.8,430.0 185.9,433.0 186.6,434.8 187.2,436.4 187.3,440.0 188.0,442.8 188.6,444.5 188.7,448.0 189.4,449.5 190.0,447.1 190.1,445.9 190.8,446.6 191.4,447.9 191.5,448.8 192.2,449.8 192.8,447.5 192.9,445.0 193.6,445.8 194.2,448.0 194.3,447.7 195.0,445.3 195.6,444.7 195.7,442.7 196.4,439.6 197.0,442.4 197.1,440.6 197.8,439.7 198.4,436.9 198.5,436.0 199.2,434.3 199.8,432.6 199.9,436.0 200.6,434.8 201.2,433.9 201.3,434.0 202.0,431.6 202.7,429.9 202.8,431.0 203.4,431.7 204.0,433.3 204.1,435.0 204.8,436.2 205.4,438.3 205.5,435.9 206.2,438.4 206.8,438.8 206.9,443.7 207.6,444.3 208.2,443.1 208.3,439.0 209.0,441.9 209.6,441.5 209.7,439.6 210.4,439.0 211.0,443.4 211.1,441.0 211.8,441.8 212.4,441.7 212.5,442.1 213.2,442.1 213.8,441.7 213.9,442.9 214.6,442.5 215.2,441.9 215.3,445.8 216.0,446.1 216.6,445.4 216.7,441.9 217.4,444.8 218.0,448.4 218.1,446.3 218.8,446.9 219.4,445.2 219.5,445.1 220.2,445.8 220.8,446.3 220.9,443.4 221.6,440.4 222.2,442.8 222.3,442.9 223.0,442.2 223.6,443.3 223.7,440.1 224.4,441.8 225.0,442.4 225.1,440.4 225.8,441.0 226.4,441.7 226.5,444.3 227.2,444.0 227.8,442.7 227.9,443.2 228.6,442.1 229.2,443.9 229.3,443.7 230.0,441.6 230.6,441.4 230.7,441.3 231.4,441.6 232.0,443.9 232.1,440.1 232.8,443.5 233.4,439.6 233.5,440.7 234.2,438.8 234.8,430.4 234.9,419.1 235.6,419.0 236.2,405.4 236.3,406.2 237.0,405.9 237.1,402.2 237.7,405.8 238.4,416.9 239.0,418.9 239.1,425.4 239.8,436.1 240.4,436.9 240.5,440.0 241.2,443.3 241.8,441.1 241.9,442.9 242.6,438.1 243.2,430.3 243.3,432.1 244.0,422.6 244.7,418.3 244.8,421.0 245.4,420.6 246.0,423.1 246.1,423.8 246.8,425.9 247.4,427.8 247.5,427.4 248.2,429.8 248.8,433.3 248.9,435.0 249.6,436.4 250.2,434.1 250.3,434.1 251.0,435.2 251.6,435.3 251.7,436.6 252.4,436.8 253.0,437.2 253.1,436.4 253.8,439.2 254.4,437.8 254.5,432.8 255.2,435.1 255.8,436.5 255.9,434.7 256.6,434.8 257.2,434.4 257.3,433.3 258.0,431.8 258.6,433.3 258.7,431.6 259.4,431.8 260.0,435.0 260.1,436.4 260.8,434.7 261.4,435.1 261.5,435.7 262.2,435.9 262.8,435.4 262.9,435.4 263.6,436.9 264.2,431.3 264.3,426.0 265.0,428.8 265.6,429.0 265.7,427.9 266.3,426.8 266.4,429.0 267.0,428.3 267.1,429.2 267.8,433.3 268.4,436.6 268.5,440.1 269.2,449.4 269.8,449.2 269.9,451.0 270.6,451.0 271.2,450.0 271.3,452.9 272.0,452.5 272.6,453.8 272.7,453.0 273.4,453.0 274.0,450.2 274.1,447.7 274.8,448.2 275.4,449.0 275.5,449.2 276.2,448.0 276.8,448.7 276.9,451.6 277.6,450.5 278.2,450.2 278.3,450.8 279.0,451.4 279.6,451.6 279.7,451.9 280.4,446.6 281.0,445.3 281.1,442.9 281.8,440.7 282.4,440.5 282.5,435.4 283.2,435.9 283.8,431.7 283.9,432.6 284.6,427.9 285.2,421.2 285.3,421.6 286.0,420.9 286.6,419.8 286.7,419.9 287.4,416.9 288.0,413.7 288.1,413.7 288.8,412.5 289.4,412.4 289.5,411.9 290.2,411.6 290.8,408.0 290.9,408.4 291.6,408.5 292.2,405.9 292.3,403.6 293.0,405.5 293.1,405.7 293.7,406.4 294.4,405.9 295.0,406.6 295.1,407.2 295.8,408.6 296.4,411.2 296.5,410.6 297.2,412.8 297.8,416.7 297.9,415.5 298.6,415.4 299.2,417.1 299.3,415.9 300.0,419.5 300.6,418.7 300.7,418.9 301.4,416.6 302.0,417.8 302.1,416.9 302.8,414.0 303.4,407.1 303.5,408.5 304.2,404.8 304.8,402.4 304.9,402.6 305.6,401.0 306.2,397.8 306.3,398.9 307.0,392.1 307.6,390.0 307.7,389.0 308.4,391.4 309.0,390.8 309.1,392.0 309.8,390.4 310.1,390.6 310.5,389.9 311.2,390.0 311.8,392.4 311.9,390.6 312.6,389.1 313.2,392.5 313.3,391.5 314.0,394.2 314.6,394.1 314.7,394.6 315.4,394.9 316.0,394.3 316.1,395.5 316.8,397.0 317.4,399.1 317.5,398.6 318.2,402.0 318.8,406.2 318.9,404.2 319.6,409.9 320.2,413.3 320.3,411.6 321.0,414.4 321.6,412.2 321.7,411.8 322.4,414.6 323.0,416.4 323.1,417.3 323.8,419.3 324.4,417.9 324.5,419.0 325.2,422.6 325.8,425.8 325.9,425.7 326.6,425.0 327.2,426.0 327.3,426.5 328.0,427.6 328.6,430.0 328.7,430.4 329.4,431.3 330.0,430.8 330.1,433.1 330.8,432.8 331.4,430.9 331.5,432.4 332.2,434.9 332.8,433.2 332.9,433.6 333.6,433.6 334.2,431.3 334.3,431.8 335.0,425.1 335.6,417.6 335.7,417.5 336.4,415.1 337.0,411.1 337.1,412.6 337.8,406.1 338.4,401.3 338.5,399.1 339.2,396.9 339.8,396.8 339.9,395.1 340.6,386.9 341.2,387.5 341.3,389.3 342.0,388.3 342.2,387.2 342.7,387.0 343.4,387.9 344.0,388.2 344.1,388.7 344.8,393.1 345.4,397.0 345.5,395.9 346.2,399.4 346.8,400.4 346.9,403.5 347.6,406.6 348.2,412.2 348.3,410.8 349.0,417.1 349.6,417.7 349.7,419.0 350.4,424.2 351.0,429.3 351.1,430.8 351.8,434.0 352.4,440.5 352.5,441.3 353.2,445.4 353.8,451.9 353.9,450.5 354.6,450.2 355.2,452.7 355.3,452.0 356.0,453.8 356.6,457.5 356.7,457.3 357.4,457.6 358.0,455.4 358.1,455.4 358.8,456.3 359.4,453.8 359.5,455.9 360.2,453.0 360.8,449.4 360.9,448.1 361.6,448.1 362.2,446.9 362.3,450.1 363.0,445.7 363.6,444.0 363.7,445.6 364.4,440.8 365.0,435.4 365.1,434.9 365.8,436.0 366.4,434.6 366.5,433.0 367.2,428.1 367.8,424.8 367.9,425.2 368.6,424.7 369.2,420.2 369.3,420.9 370.0,419.9 370.6,415.0 370.7,412.3 371.4,411.8 372.1,408.3 372.5,409.5 372.8,409.9 373.4,409.2 373.5,410.0 374.2,410.5 374.8,416.4 374.9,417.5 375.6,418.9 376.2,423.7 376.3,422.1 377.0,423.8 377.6,423.1 377.7,422.9 378.4,421.5 379.0,422.4 379.1,419.7 379.8,418.6 380.4,418.2 380.5,420.4 381.2,418.5 381.8,420.9 381.9,420.0 382.6,421.1 383.2,421.7 383.3,420.8 384.0,419.0 384.6,413.5 384.7,414.5 385.4,406.4 386.0,404.6 386.1,404.3 386.8,399.8 387.4,398.7 387.5,398.4 388.2,396.3 388.8,390.2 388.9,392.2 389.6,389.6 390.2,390.1 390.3,387.6 391.0,384.8 391.6,386.0 391.7,385.1 392.4,382.5 392.9,382.9 393.1,382.4 393.8,383.9 394.4,385.8 394.5,384.7 395.2,389.2 395.8,391.8 395.9,393.3 396.6,395.4 397.2,399.2 397.3,398.0 398.0,406.2 398.6,408.8 398.7,409.6 399.4,415.2 400.0,415.7 400.1,415.3 400.8,424.3 401.4,427.6 401.5,427.1 402.2,431.5 402.8,435.0 402.9,435.5 403.6,440.0 404.2,443.9 404.3,441.6 405.0,448.9 405.6,450.9 405.7,450.3 406.4,452.5 407.0,451.4 407.1,452.7 407.8,453.6 408.4,455.8 408.5,451.4 409.2,453.1 409.8,452.5 409.9,453.6 410.6,455.2 411.2,454.9 411.3,455.4 412.0,458.2 412.6,455.6 412.7,456.8 413.4,456.1 414.0,454.7 414.1,457.6 414.8,455.2 415.4,456.3 415.5,455.5 416.2,455.8 416.8,455.0 416.9,456.2 417.6,454.7 418.2,454.7 418.3,453.7 419.0,453.7 419.6,453.7 419.7,452.2 420.4,453.5 421.0,454.2 421.1,454.4 421.8,453.5 422.4,455.6 422.5,455.3 423.2,454.5 423.8,454.2 423.9,454.4 424.6,456.0 425.2,455.6 425.3,456.5 426.0,456.8 426.6,456.2 426.7,454.2 427.4,455.1 428.0,456.0 428.1,454.1 428.8,454.1 429.4,452.0 429.5,453.1 430.2,453.3 430.8,450.9 430.9,452.1 431.6,453.9 432.2,454.2 432.3,451.2 433.0,450.6 433.6,451.2 433.7,451.0 434.4,451.2 435.0,452.4 435.1,454.2 435.8,454.0 436.4,454.0 436.5,454.2 437.2,455.1 437.8,453.1 437.9,451.1 438.6,450.2 439.2,451.9 439.3,454.0 440.0,453.7 440.6,451.9 440.7,451.7 441.4,451.4 442.0,451.6 442.1,449.9 442.8,451.1 443.4,450.5 443.5,451.3 444.2,452.2 444.8,452.3 444.9,452.1 445.6,450.3 446.2,453.5 446.3,453.1 447.0,450.4 447.6,451.0 447.7,452.6 448.4,453.8 449.0,451.1 449.1,453.0 449.8,451.1 450.4,452.1 450.5,452.3 451.2,452.9 451.8,453.4 451.9,453.7 452.6,453.5 453.2,450.9 453.3,451.6 454.0,451.3 454.6,452.2 454.7,451.9 455.4,453.6 456.0,452.0 456.1,451.9 456.8,453.8 457.4,452.0 457.5,453.4 458.2,451.6 458.8,450.5 458.9,451.8 459.6,452.0 460.2,451.3 460.3,451.5 461.0,450.2 461.6,452.4 461.7,450.9 462.4,451.7 463.0,452.4 463.1,450.6 463.8,450.0 464.4,449.2 464.5,452.3 465.2,451.5 465.8,450.7 465.9,453.7 466.6,452.4 467.2,451.4 467.3,449.8 468.0,451.5 468.6,453.3 468.7,451.3 469.4,451.4 470.0,454.5 470.1,452.0 470.1,467.2 470.0,465.6 469.4,465.5 468.7,466.4 468.6,463.3 468.0,467.1 467.3,463.4 467.2,464.4 466.6,465.1 465.9,464.8 465.8,463.7 465.2,466.0 464.5,465.4 464.4,467.3 463.8,466.5 463.1,463.7 463.0,467.0 462.4,465.2 461.7,465.4 461.6,466.6 461.0,464.3 460.3,463.9 460.2,465.4 459.6,463.8 458.9,466.2 458.8,465.1 458.2,467.7 457.5,464.4 457.4,465.9 456.8,466.2 456.1,467.9 456.0,464.5 455.4,467.7 454.7,468.1 454.6,466.6 454.0,467.1 453.3,465.9 453.2,467.6 452.6,465.7 451.9,466.7 451.8,468.3 451.2,466.8 450.5,467.2 450.4,466.9 449.8,465.3 449.1,466.5 449.0,468.6 448.4,464.0 447.7,464.1 447.6,461.1 447.0,464.2 446.3,466.1 446.2,470.1 445.6,467.3 444.9,467.4 444.8,468.0 444.2,465.6 443.5,462.4 443.4,466.7 442.8,465.7 442.1,467.2 442.0,465.8 441.4,468.0 440.7,467.3 440.6,465.3 440.0,467.0 439.3,468.3 439.2,467.0 438.6,468.8 437.9,467.9 437.8,467.6 437.2,465.7 436.5,466.7 436.4,467.6 435.8,467.1 435.1,466.8 435.0,467.7 434.4,468.3 433.7,467.7 433.6,468.0 433.0,468.0 432.3,467.7 432.2,468.1 431.6,468.0 430.9,465.7 430.8,466.9 430.2,468.4 429.5,468.4 429.4,469.3 428.8,467.5 428.1,469.5 428.0,466.9 427.4,467.7 426.7,469.3 426.6,468.6 426.0,467.9 425.3,469.0 425.2,468.8 424.6,468.9 423.9,469.0 423.8,468.3 423.2,468.4 422.5,470.0 422.4,468.4 421.8,468.4 421.1,467.1 421.0,469.0 420.4,468.1 419.7,471.2 419.6,468.8 419.0,470.1 418.3,469.6 418.2,469.2 417.6,468.8 416.9,469.4 416.8,471.3 416.2,467.7 415.5,469.1 415.4,468.1 414.8,469.7 414.1,467.9 414.0,468.3 413.4,468.5 412.7,468.2 412.6,469.9 412.0,469.2 411.3,467.8 411.2,468.8 410.6,467.0 409.9,468.0 409.8,468.1 409.2,469.3 408.5,468.4 408.4,468.9 407.8,469.8 407.1,469.3 407.0,468.6 406.4,466.8 405.7,468.7 405.6,465.8 405.0,465.1 404.3,462.4 404.2,463.7 403.6,463.1 402.9,459.9 402.8,461.2 402.2,458.7 401.5,458.0 401.4,456.8 400.8,450.3 400.1,448.6 400.0,446.9 399.4,443.4 398.7,439.8 398.6,440.7 398.0,433.4 397.3,429.6 397.2,429.4 396.6,425.6 395.9,421.4 395.8,421.4 395.2,415.2 394.5,410.9 394.4,409.4 393.8,407.4 393.1,404.4 392.9,405.2 392.4,402.4 391.7,402.6 391.6,401.3 391.0,406.0 390.3,411.1 390.2,410.8 389.6,413.0 388.9,416.9 388.8,415.2 388.2,421.0 387.5,426.3 387.4,427.2 386.8,427.3 386.1,433.4 386.0,430.5 385.4,430.9 384.7,433.1 384.6,435.2 384.0,434.5 383.3,435.5 383.2,433.3 382.6,437.1 381.9,436.4 381.8,435.5 381.2,433.5 380.5,435.4 380.4,434.5 379.8,436.0 379.1,434.8 379.0,436.8 378.4,437.5 377.7,437.6 377.6,441.6 377.0,438.8 376.3,440.6 376.2,440.8 375.6,441.1 374.9,438.2 374.8,439.1 374.2,436.3 373.5,434.7 373.4,435.3 372.8,432.3 372.5,432.0 372.1,433.0 371.4,433.9 370.7,435.7 370.6,436.7 370.0,440.6 369.3,443.7 369.2,442.7 368.6,446.7 367.9,446.5 367.8,448.1 367.2,451.0 366.5,455.2 366.4,456.4 365.8,456.4 365.1,458.0 365.0,459.1 364.4,459.0 363.7,461.4 363.6,461.2 363.0,461.7 362.3,467.2 362.2,467.3 361.6,468.2 360.9,466.3 360.8,467.3 360.2,468.7 359.5,471.5 359.4,472.2 358.8,471.0 358.1,468.7 358.0,472.4 357.4,472.7 356.7,471.2 356.6,473.3 356.0,471.3 355.3,468.1 355.2,469.0 354.6,467.2 353.9,468.0 353.8,468.3 353.2,468.4 352.5,465.6 352.4,463.4 351.8,462.4 351.1,462.5 351.0,460.8 350.4,457.0 349.7,451.7 349.6,452.1 349.0,445.7 348.3,440.1 348.2,440.4 347.6,435.3 346.9,429.2 346.8,429.8 346.2,428.1 345.5,423.8 345.4,422.4 344.8,417.3 344.1,412.7 344.0,411.4 343.4,410.3 342.7,406.6 342.2,408.2 342.0,411.5 341.3,410.1 341.2,411.1 340.6,415.7 339.9,423.5 339.8,422.0 339.2,426.6 338.5,429.9 338.4,429.8 337.8,439.0 337.1,446.6 337.0,444.5 336.4,445.3 335.7,446.7 335.6,445.1 335.0,446.6 334.3,448.9 334.2,446.5 333.6,445.0 332.9,447.7 332.8,448.7 332.2,447.0 331.5,446.0 331.4,447.4 330.8,445.6 330.1,448.1 330.0,448.3 329.4,446.0 328.7,443.1 328.6,443.7 328.0,443.4 327.3,442.1 327.2,442.0 326.6,444.3 325.9,440.9 325.8,442.3 325.2,440.4 324.5,439.0 324.4,438.9 323.8,437.9 323.1,436.5 323.0,436.0 322.4,432.4 321.7,430.7 321.6,431.5 321.0,429.7 320.3,428.7 320.2,428.9 319.6,428.2 318.9,423.5 318.8,424.4 318.2,422.1 317.5,423.4 317.4,422.6 316.8,420.0 316.1,415.1 316.0,416.1 315.4,413.6 314.7,410.2 314.6,410.1 314.0,410.2 313.3,408.3 313.2,408.1 312.6,406.4 311.9,405.9 311.8,404.5 311.2,405.7 310.5,401.0 310.1,405.6 309.8,407.6 309.1,409.5 309.0,408.9 308.4,414.4 307.7,412.0 307.6,414.2 307.0,416.5 306.3,420.9 306.2,418.8 305.6,422.2 304.9,428.7 304.8,429.5 304.2,429.7 303.5,430.9 303.4,429.3 302.8,431.5 302.1,436.6 302.0,433.1 301.4,434.6 300.7,436.4 300.6,434.8 300.0,433.2 299.3,433.8 299.2,433.8 298.6,433.9 297.9,434.1 297.8,431.8 297.2,428.9 296.5,426.8 296.4,427.8 295.8,425.9 295.1,426.2 295.0,429.1 294.4,424.7 293.7,422.3 293.1,424.5 293.0,424.4 292.3,425.1 292.2,425.2 291.6,424.5 290.9,425.9 290.8,423.6 290.2,428.0 289.5,432.4 289.4,430.7 288.8,431.7 288.1,434.8 288.0,430.7 287.4,436.7 286.7,444.2 286.6,443.3 286.0,446.0 285.3,449.3 285.2,448.2 284.6,450.3 283.9,457.8 283.8,456.8 283.2,458.9 282.5,461.2 282.4,461.7 281.8,464.8 281.1,468.0 281.0,466.5 280.4,465.4 279.7,466.8 279.6,469.7 279.0,467.2 278.3,468.5 278.2,464.4 277.6,462.4 276.9,464.0 276.8,465.3 276.2,459.9 275.5,462.2 275.4,464.5 274.8,462.7 274.1,465.1 274.0,465.8 273.4,463.7 272.7,466.7 272.6,468.4 272.0,469.9 271.3,472.0 271.2,471.3 270.6,471.9 269.9,471.3 269.8,466.8 269.2,465.1 268.5,463.2 268.4,463.0 267.8,463.9 267.1,463.0 267.0,453.5 266.4,446.1 266.3,446.3 265.7,445.9 265.6,452.1 265.0,450.1 264.3,449.7 264.2,450.1 263.6,450.9 262.9,447.7 262.8,450.0 262.2,449.9 261.5,448.3 261.4,448.3 260.8,449.3 260.1,448.0 260.0,447.9 259.4,447.3 258.7,450.2 258.6,448.3 258.0,449.1 257.3,447.9 257.2,447.9 256.6,448.1 255.9,448.2 255.8,451.2 255.2,452.1 254.5,453.2 254.4,450.2 253.8,451.7 253.1,450.5 253.0,455.1 252.4,453.1 251.7,454.6 251.6,452.6 251.0,454.6 250.3,454.9 250.2,450.7 249.6,450.1 248.9,449.3 248.8,449.3 248.2,450.3 247.5,449.3 247.4,447.2 246.8,447.7 246.1,447.6 246.0,447.2 245.4,450.2 244.8,449.5 244.7,449.9 244.0,456.2 243.3,456.2 243.2,455.6 242.6,453.4 241.9,455.7 241.8,455.8 241.2,455.5 240.5,454.4 240.4,455.5 239.8,454.8 239.1,455.7 239.0,450.6 238.4,450.8 237.7,449.0 237.1,430.0 237.0,431.2 236.3,440.0 236.2,451.1 235.6,451.6 234.9,453.0 234.8,451.8 234.2,451.8 233.5,453.1 233.4,459.2 232.8,458.7 232.1,458.5 232.0,458.6 231.4,459.4 230.7,460.3 230.6,458.0 230.0,458.5 229.3,458.4 229.2,459.1 228.6,457.6 227.9,457.8 227.8,457.2 227.2,457.9 226.5,456.7 226.4,457.6 225.8,455.5 225.1,457.2 225.0,458.7 224.4,459.0 223.7,458.7 223.6,459.2 223.0,459.6 222.3,459.2 222.2,460.6 221.6,460.0 220.9,461.4 220.8,460.6 220.2,461.3 219.5,460.6 219.4,461.2 218.8,462.1 218.1,462.4 218.0,464.3 217.4,461.0 216.7,461.6 216.6,459.8 216.0,459.9 215.3,458.0 215.2,459.6 214.6,458.3 213.9,460.6 213.8,455.0 213.2,454.1 212.5,455.1 212.4,460.3 211.8,462.4 211.1,460.2 211.0,460.3 210.4,459.7 209.7,460.6 209.6,458.0 209.0,456.9 208.3,455.9 208.2,457.3 207.6,457.2 206.9,459.0 206.8,459.1 206.2,458.7 205.5,458.8 205.4,453.9 204.8,450.4 204.1,449.8 204.0,453.5 203.4,452.5 202.8,453.5 202.7,450.7 202.0,449.0 201.3,447.8 201.2,450.5 200.6,449.5 199.9,450.1 199.8,455.1 199.2,454.8 198.5,453.3 198.4,453.6 197.8,453.7 197.1,455.6 197.0,456.9 196.4,456.7 195.7,456.1 195.6,458.7 195.0,457.9 194.3,459.0 194.2,459.3 193.6,458.5 192.9,462.3 192.8,463.4 192.2,461.5 191.5,465.0 191.4,463.1 190.8,465.1 190.1,466.2 190.0,462.0 189.4,463.8 188.7,462.4 188.6,463.6 188.0,461.7 187.3,462.9 187.2,459.5 186.6,452.6 185.9,453.2 185.8,450.9 185.2,448.8 184.6,447.7 184.5,448.7 183.8,453.4 183.1,453.8 183.0,452.8 182.4,452.9 181.7,453.0 181.6,457.7 181.0,458.8 180.3,457.6 180.2,458.6 179.6,458.5 178.9,459.7 178.8,454.1 178.2,453.6 177.7,451.8 177.5,451.0 176.8,451.7 176.1,453.9 176.0,457.8 175.4,458.6 174.7,456.2 174.6,456.5 174.0,457.9 173.3,457.5 173.2,456.8 172.6,457.2 171.9,457.7 171.8,457.0 171.2,458.3 170.5,459.6 170.4,455.4 169.8,456.3 169.1,457.6 169.0,463.6 168.4,463.2 167.7,467.5 167.6,468.7 167.0,468.9 166.3,468.7 166.2,466.9 165.6,470.9 164.9,469.7 164.8,468.3 164.2,467.8 163.5,471.9 163.4,467.1 162.8,464.5 162.1,465.0 162.0,464.1 161.4,466.7 160.7,464.6 160.6,459.8 160.0,462.9 159.3,461.9 159.2,461.6 158.6,462.5 157.9,462.5 157.8,464.6 157.2,467.5 156.5,465.5 156.4,467.0 155.8,465.7 155.1,466.1 155.0,466.9 154.4,465.6 153.7,466.7 153.6,466.0 153.0,465.6 152.3,467.3 152.2,469.6 151.6,469.7 150.9,469.3 150.8,470.7 150.2,468.7 149.5,468.9 149.4,466.1 148.8,468.9 148.1,469.3 148.0,468.0 147.4,468.0 146.7,469.0 146.6,464.9 146.0,466.7 145.3,466.0 145.2,466.0 144.6,465.9 143.9,465.6 143.8,468.2 143.2,468.9 142.5,466.5 142.4,468.8 141.8,466.8 141.1,467.2 141.0,465.5 140.4,466.2 139.7,465.7 139.6,465.2 139.0,465.5 138.3,464.5 138.2,465.2 137.6,465.8 136.9,465.9 136.8,465.2 136.2,465.9 135.5,463.5 135.4,463.8 134.8,464.5 134.1,463.4 134.0,463.6 133.4,464.6 132.7,464.4 132.6,465.2 132.0,463.6 131.3,463.7 131.2,463.3 130.6,463.6 129.9,462.6 129.8,463.1 129.2,464.4 128.5,463.7 128.4,460.7 127.8,458.9 127.1,459.8 127.0,464.3 126.4,464.5 125.7,464.7 125.6,466.2 125.0,462.6 124.3,464.0 124.2,464.1 123.6,465.7 122.9,464.8 122.8,465.8 122.2,465.5 121.5,466.7 121.4,468.0 120.8,468.0 120.1,467.3 120.0,467.9 119.4,466.5 118.7,467.8 118.6,467.5 118.0,466.3 117.3,469.2 117.2,466.4 116.6,468.1 115.9,469.3 115.8,470.2 115.2,468.3 114.5,469.6 114.4,469.6 113.8,468.0 113.1,469.1 113.0,473.4 112.4,473.9 111.7,473.5 111.6,472.7 111.0,474.3 110.3,473.7 110.2,471.0 109.6,469.0 108.9,469.1 108.8,468.2 108.2,469.5 107.5,469.2 107.4,468.0 106.8,468.7 106.1,467.9 106.0,465.5 105.4,468.4 104.7,469.2 104.6,469.5 104.0,469.4 103.3,466.8 103.2,468.1 102.6,468.6 101.9,468.5 101.8,469.2 101.2,468.5 100.5,470.1 100.4,463.8 99.8,465.4 99.1,466.3 99.0,465.7 98.4,465.4 97.7,464.1 97.6,467.4 97.0,468.1 96.3,465.6 96.2,469.0 95.6,467.1 94.9,467.0 94.8,465.5 94.2,464.1 93.5,466.0 93.4,461.6 92.8,459.1 92.1,460.2 92.0,461.3 91.4,461.4 90.7,462.0 90.6,461.2 90.0,461.1 89.3,460.4 89.2,460.5 88.6,462.4 87.9,461.3 87.8,460.0 87.2,455.6 86.5,457.0 86.4,457.0 85.8,454.2 85.1,466.8 85.0,469.1 84.9,468.6 84.4,467.6 84.0,465.4 83.7,466.7 83.1,465.4 83.0,467.5 82.3,460.5 82.2,461.6 81.6,460.6 81.3,461.4 80.9,462.0 80.2,460.2 79.8,451.0 79.5,451.1 78.8,460.5 78.6,461.9 78.1,451.3 77.4,436.0 77.2,434.9 76.7,439.7 76.0,456.8 75.8,457.7 75.3,447.3 75.0,445.9 74.6,432.7 74.4,433.3 73.9,435.1 73.2,448.1 73.2,446.5 72.5,440.5 72.1,436.1 71.8,435.2 71.4,435.2 71.1,437.5 70.7,444.6 70.4,442.2 69.7,456.5 69.6,456.2 69.0,472.0 68.9,472.6 68.3,449.4 67.6,428.0 67.5,426.5 66.9,439.7 66.3,456.7 66.2,456.0 65.5,440.2 65.2,439.8 64.8,441.0 64.1,455.6 64.0,455.2 63.4,441.5 62.9,435.3 62.7,432.3 62.0,440.1 61.5,450.2 61.3,450.7 60.6,463.9" fill="#b8b8b8"/>
<polyline points="60.6,456.4 61.5,441.3 62.9,425.4 64.0,448.8 65.2,427.4 66.3,452.2 67.5,416.2 68.9,465.4 69.6,451.1 70.7,433.1 71.4,427.6 72.1,429.6 73.2,441.9 74.4,421.3 75.0,436.0 75.8,451.0 77.2,426.7 78.6,457.0 79.8,441.1 81.3,455.6 82.2,453.1 83.1,454.3 84.0,461.5 84.9,448.4 85.0,448.6 86.4,450.1 87.8,450.8 89.2,455.5 90.6,455.9 92.0,452.0 93.4,453.7 94.8,459.4 96.2,462.0 97.6,454.4 99.0,459.5 100.4,454.4 101.8,462.8 103.2,455.5 104.6,462.8 106.0,456.5 107.4,463.2 108.8,459.5 110.2,465.2 111.6,467.2 113.0,461.5 114.4,464.4 115.8,459.0 117.2,462.8 118.6,455.5 120.0,461.3 121.4,452.5 122.8,460.1 124.2,454.2 125.6,458.6 127.0,453.3 128.4,452.8 129.8,458.0 131.2,453.8 132.6,457.9 134.0,458.6 135.4,456.3 136.8,459.8 138.2,457.5 139.6,460.1 141.0,454.8 142.4,462.8 143.8,455.6 145.2,461.1 146.6,457.8 148.0,463.1 149.4,454.4 150.8,464.1 152.2,457.7 153.6,460.2 155.0,454.3 156.4,459.7 157.8,451.6 159.2,456.4 160.6,450.1 162.0,458.9 163.4,455.7 164.8,463.3 166.2,463.5 167.6,457.7 169.0,450.4 170.4,447.8 171.8,452.2 173.2,449.2 174.6,452.2 176.0,445.1 177.7,444.5 178.8,445.5 180.2,452.2 181.6,445.5 183.0,447.4 184.6,438.0 185.8,441.7 187.2,447.9 188.6,457.5 190.0,452.8 191.4,459.2 192.8,453.7 194.2,451.9 195.6,451.3 197.0,446.5 198.4,449.3 199.8,441.0 201.2,443.6 202.8,439.0 204.0,446.3 205.4,443.7 206.8,453.0 208.2,450.1 209.6,447.4 211.0,454.5 212.4,447.4 213.8,448.7 215.2,454.0 216.6,450.8 218.0,456.2 219.4,450.9 220.8,455.0 222.2,447.9 223.6,453.6 225.0,446.5 226.4,451.5 227.8,448.4 229.2,453.1 230.6,447.1 232.0,453.8 233.4,446.2 234.8,446.9 236.2,424.6 237.1,414.2 239.0,441.5 240.4,449.1 241.8,448.6 243.2,447.1 244.8,436.9 246.0,440.1 247.4,436.9 248.8,443.9 250.2,440.2 251.6,447.9 253.0,443.0 254.4,446.3 255.8,440.0 257.2,443.7 258.6,437.7 260.0,443.0 261.4,440.8 262.8,443.7 264.2,444.1 265.6,433.9 266.3,435.2 267.0,439.7 268.4,455.5 269.8,457.1 271.2,465.6 272.6,457.7 274.0,458.8 275.4,453.5 276.8,457.5 278.2,456.5 279.6,461.1 281.0,456.7 282.4,450.2 283.8,443.6 285.2,438.3 286.6,427.8 288.0,426.0 289.4,418.4 290.8,418.8 292.2,416.0 293.1,413.5 295.0,415.8 296.4,421.2 297.8,422.1 299.2,425.1 300.6,429.0 302.0,422.8 303.4,424.0 304.8,413.8 306.2,408.1 307.6,403.7 309.0,397.2 310.1,395.6 311.8,397.7 313.2,400.5 314.6,400.5 316.0,404.7 317.4,409.4 318.8,418.4 320.2,417.7 321.6,422.8 323.0,424.7 324.4,431.2 325.8,431.9 327.2,436.2 328.6,437.3 330.0,437.8 331.4,441.8 332.8,441.6 334.2,440.3 335.6,438.6 337.0,424.6 338.4,417.6 339.8,406.0 341.2,402.3 342.2,394.5 344.0,401.9 345.4,406.5 346.8,417.0 348.2,423.5 349.6,434.1 351.0,446.2 352.4,455.6 353.8,457.5 355.2,462.8 356.6,462.8 358.0,466.5 359.4,461.2 360.8,461.6 362.2,454.6 363.6,453.1 365.0,450.1 366.4,442.0 367.8,439.0 369.2,429.8 370.6,426.2 372.5,419.0 373.4,423.2 374.8,427.4 376.2,434.1 377.6,428.3 379.0,430.3 380.4,425.5 381.8,428.2 383.2,429.3 384.6,426.5 386.0,420.8 387.4,410.2 388.8,405.3 390.2,396.6 391.6,394.5 392.9,391.6 394.4,398.2 395.8,403.8 397.2,414.9 398.6,422.8 400.0,433.5 401.4,440.6 402.8,449.0 404.2,456.2 405.6,457.8 407.0,462.4 408.4,463.3 409.8,459.7 411.2,463.3 412.6,461.6 414.0,462.5 415.4,462.6 416.8,460.4 418.2,464.0 419.6,459.2 421.0,462.5 422.4,460.1 423.8,463.4 425.2,460.1 426.6,460.2 428.0,462.0 429.4,459.4 430.8,462.7 432.2,458.4 433.6,462.4 435.0,459.3 436.4,460.5 437.8,462.0 439.2,458.3 440.6,460.4 442.0,457.4 443.4,460.7 444.8,460.7 446.2,457.4 447.6,459.7 449.0,458.3 450.4,461.2 451.8,458.8 453.2,458.4 454.6,461.3 456.0,457.2 457.4,460.2 458.8,457.1 460.2,459.0 461.6,457.0 463.0,459.9 464.4,456.3 465.8,459.2 467.2,457.4 468.6,460.2 470.0,457.9" fill="none" stroke="#f58a1c" stroke-width="1.5" stroke-linejoin="round"/>
<rect x="40.5" y="1.7" width="450.9" height="489.6" fill="none" stroke="#444" stroke-width="1.2"/>
<line x1="60.6" y1="491.3" x2="60.6" y2="497.90000000000003" stroke="#0a0a0a" stroke-width="1.6"/>
<text transform="translate(60.95,510.3) scale(1,1.08)" text-anchor="middle" class="tk">250</text>
<line x1="119.2" y1="491.3" x2="119.2" y2="497.90000000000003" stroke="#0a0a0a" stroke-width="1.6"/>
<text transform="translate(118.95,510.3) scale(1,1.08)" text-anchor="middle" class="tk">500</text>
<line x1="177.8" y1="491.3" x2="177.8" y2="497.90000000000003" stroke="#0a0a0a" stroke-width="1.6"/>
<text transform="translate(177.1,510.6) scale(1,1.08)" text-anchor="middle" class="tk">750</text>
<line x1="236.4" y1="491.3" x2="236.4" y2="497.90000000000003" stroke="#0a0a0a" stroke-width="1.6"/>
<text transform="translate(235.4,510.6) scale(1,1.08)" text-anchor="middle" class="tk">1000</text>
<line x1="295.0" y1="491.3" x2="295.0" y2="497.90000000000003" stroke="#0a0a0a" stroke-width="1.6"/>
<text transform="translate(293.6,512.9) scale(1,1.08)" text-anchor="middle" class="tk">1250</text>
<line x1="353.6" y1="491.3" x2="353.6" y2="497.90000000000003" stroke="#0a0a0a" stroke-width="1.6"/>
<text transform="translate(351.3,512.9) scale(1,1.08)" text-anchor="middle" class="tk">1500</text>
<line x1="412.2" y1="491.3" x2="412.2" y2="497.90000000000003" stroke="#0a0a0a" stroke-width="1.6"/>
<text transform="translate(409.4,511.8) scale(1,1.08)" text-anchor="middle" class="tk">1750</text>
<line x1="470.8" y1="491.3" x2="470.8" y2="497.90000000000003" stroke="#0a0a0a" stroke-width="1.6"/>
<text transform="translate(467.6,510.4) scale(1,1.08)" text-anchor="middle" class="tk">2000</text>
<text x="498.6" y="111.8" class="lb"><tspan font-style="italic">Microbacterium</tspan> sp. AQ95</text>
<text x="498.6" y="165.0" class="lb"><tspan font-style="italic">Halomonas</tspan> sp. MT107</text>
<text x="498.6" y="218.2" class="lb"><tspan font-style="italic">Pseudomonas</tspan> sp. AQ238B1</text>
<text x="498.6" y="271.4" class="lb"><tspan font-style="italic">Bacillus</tspan> sp. AQ34B2C1</text>
<text x="498.6" y="324.6" class="lb"><tspan font-style="italic">Pseudoalteromonas</tspan> sp. AQ256B3</text>
<text x="498.6" y="377.8" class="lb"><tspan font-style="italic">Rhodococcus</tspan> sp. AQ113B2C1</text>
<text x="498.6" y="431.0" class="lb"><tspan font-style="italic">Sulfitobacter</tspan> sp. SQ167</text>
<text x="498.6" y="484.2" class="lb"><tspan font-style="italic">Psychrobacter</tspan> sp. QS172</text>
<text x="269" y="559.3" text-anchor="middle" class="ax">Raman shift (cm<tspan font-size="13.5" dx="2.5" dy="-7">-1</tspan><tspan dy="7">)</tspan></text>
<text transform="translate(15.2,269) rotate(-90)" text-anchor="middle" class="ax2">Intensity (a.u.)</text>
</svg></body></html>
